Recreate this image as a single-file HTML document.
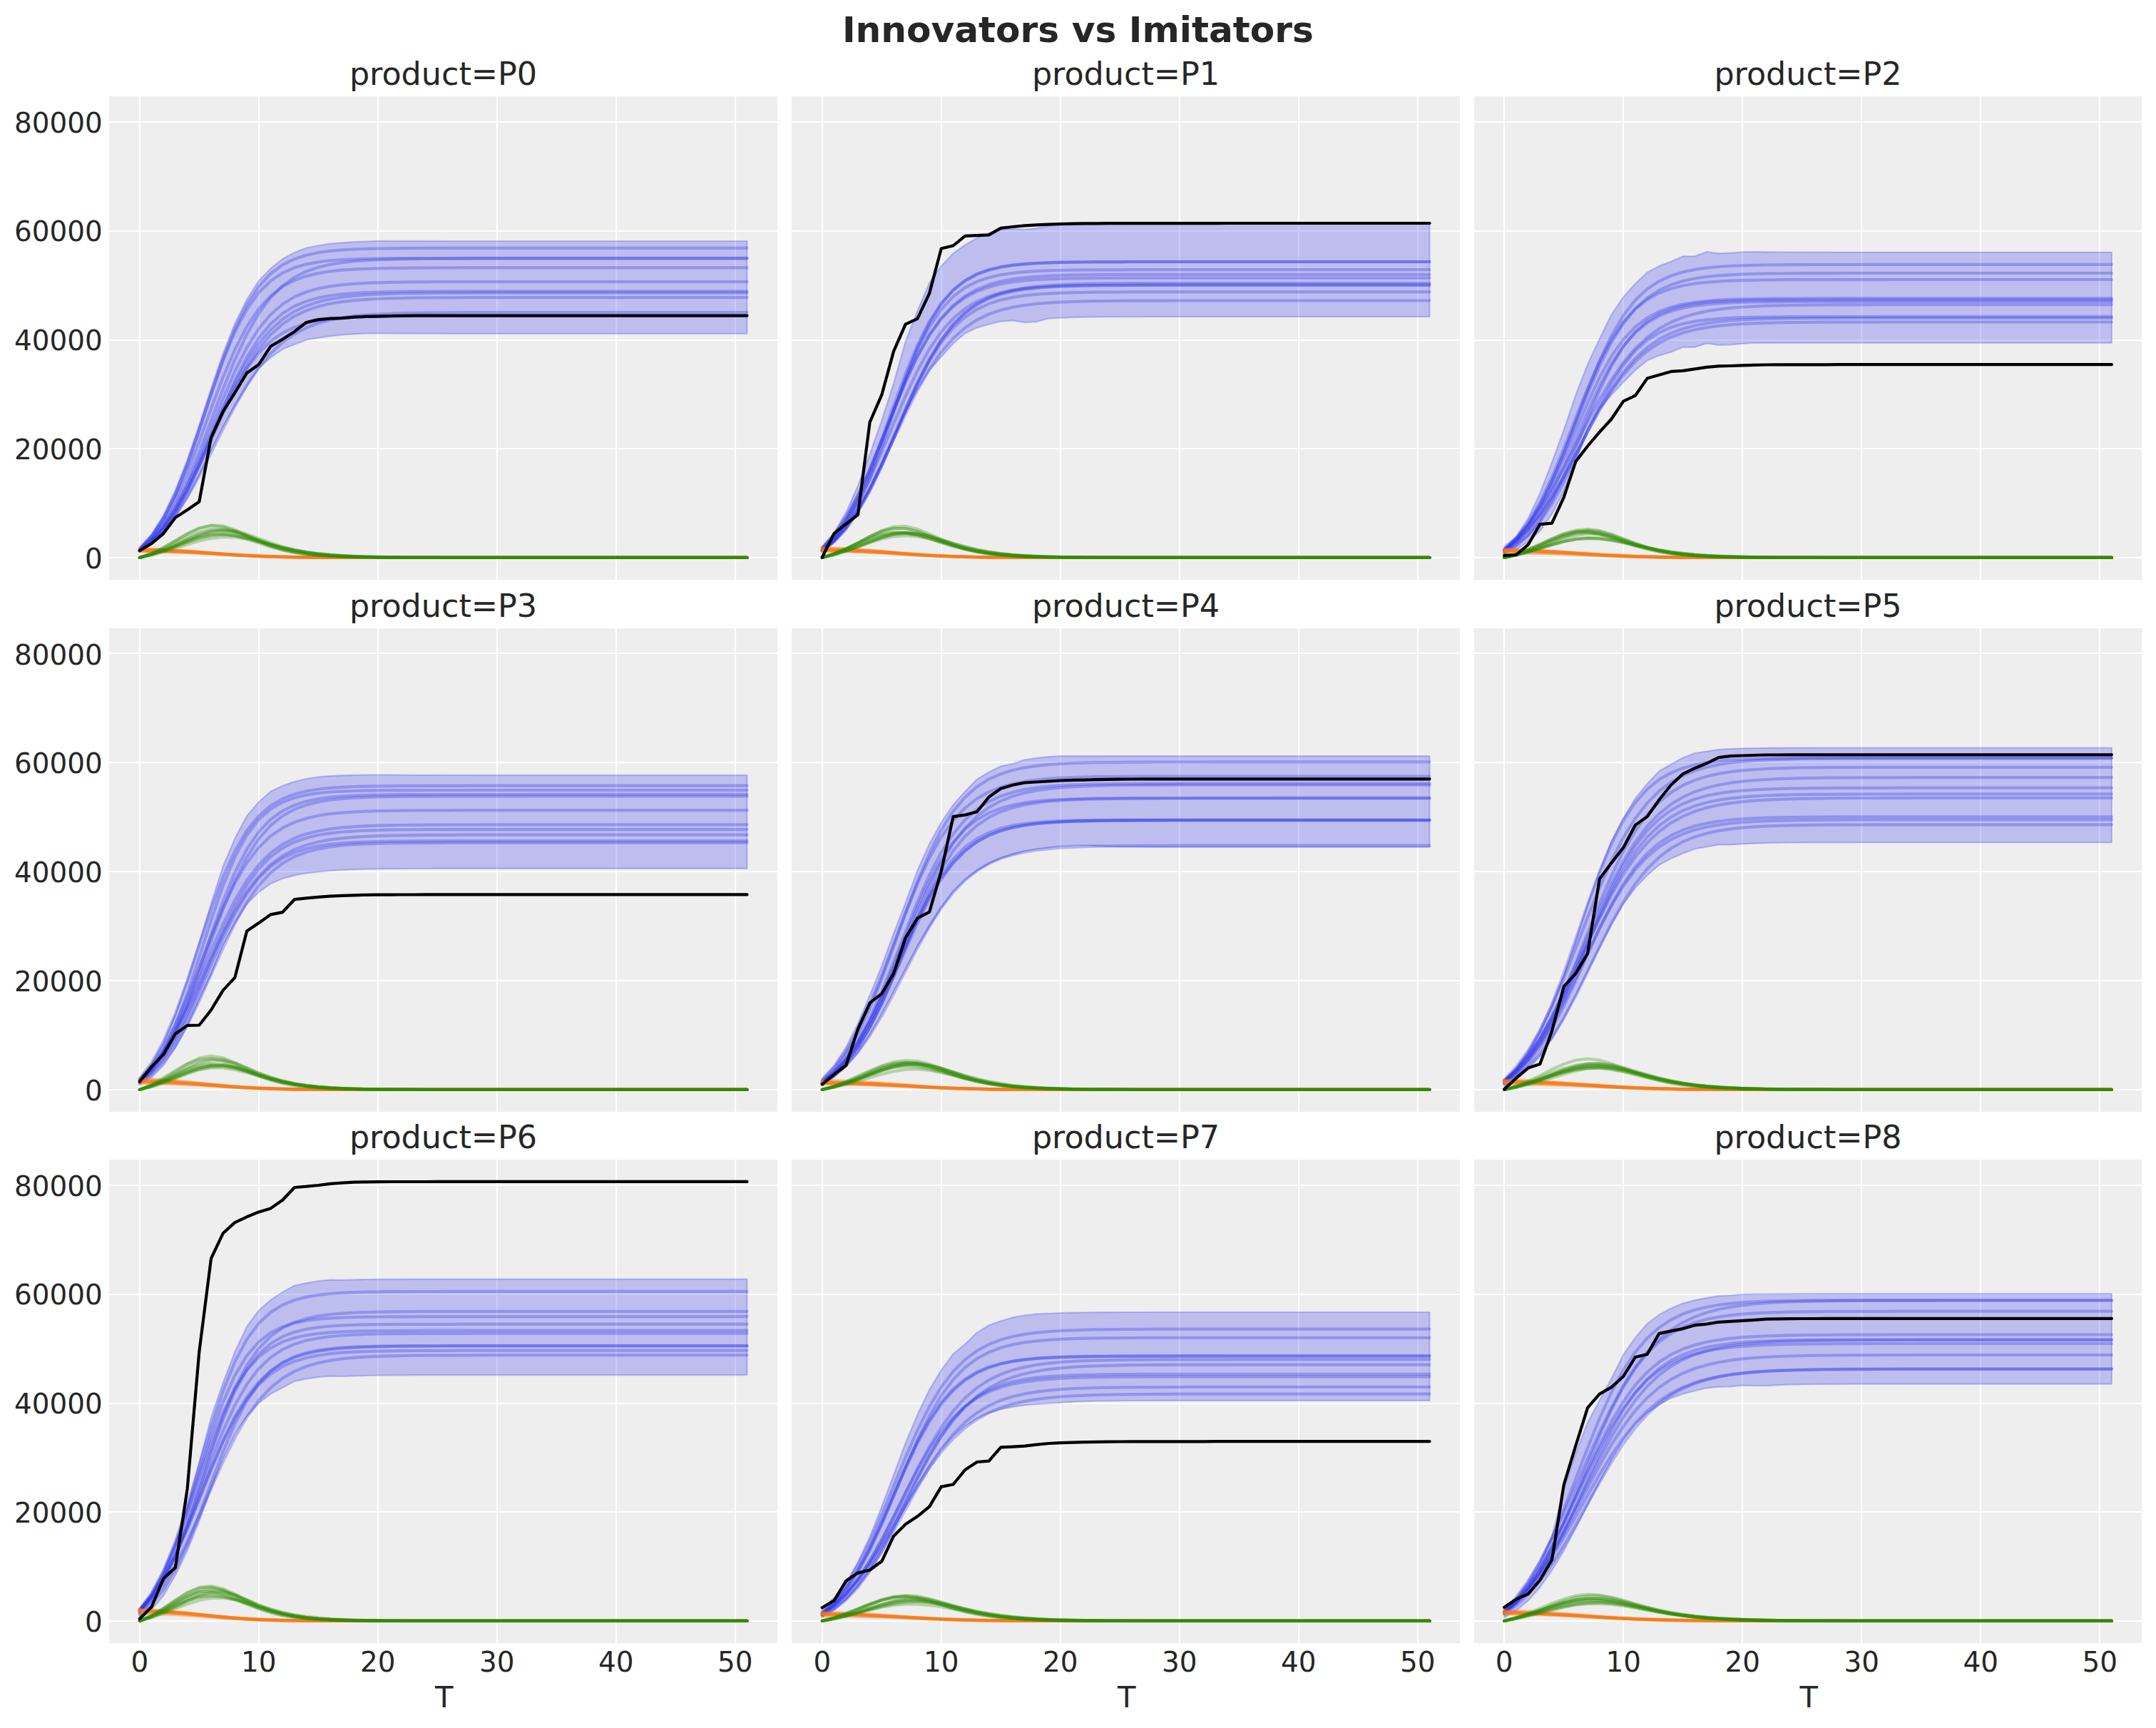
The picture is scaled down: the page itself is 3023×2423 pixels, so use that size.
<!DOCTYPE html>
<html><head><meta charset="utf-8"><title>Innovators vs Imitators</title>
<style>
html,body{margin:0;padding:0;background:#fff}
svg{display:block}
text{font-family:"DejaVu Sans","Liberation Sans",sans-serif;fill:#262626}
.tk{font-size:38.89px}
.ti{font-size:44.44px}
.xl{font-size:41.67px}
  .st{font-size:50.2px;font-weight:bold}
  .g{stroke:#fff;stroke-width:2.2;fill:none}
.b{stroke:#2a2eec;stroke-opacity:.3;stroke-width:4.2;fill:none;stroke-linecap:round;stroke-linejoin:round}
.o{stroke:#fa7c17;stroke-opacity:.3;stroke-width:4.2;fill:none;stroke-linecap:round;stroke-linejoin:round}
.gr{stroke:#328c06;stroke-opacity:.3;stroke-width:4.2;fill:none;stroke-linecap:round;stroke-linejoin:round}
.k{stroke:#000;stroke-width:4.2;fill:none;stroke-linecap:round;stroke-linejoin:round}
.hd{fill:#2a2eec;fill-opacity:.25;stroke:#2a2eec;stroke-opacity:.25;stroke-width:2.2;stroke-linejoin:round}
</style></head><body>
<svg width="3023" height="2423" viewBox="0 0 3023 2423">
<rect width="3023" height="2423" fill="#fff"/>
<text class="st" x="1511.4" y="59" text-anchor="middle">Innovators vs Imitators</text>

<g id="p0">
<rect x="153.0" y="135.0" width="937.0" height="678.0" fill="#eeeeee"/>
<path class="g" d="M196 135.0V813.0M363 135.0V813.0M530 135.0V813.0M697 135.0V813.0M864 135.0V813.0M1031 135.0V813.0M153.0 782H1090.0M153.0 629H1090.0M153.0 477H1090.0M153.0 324H1090.0M153.0 171H1090.0"/>
<text class="ti" x="621.5" y="119.2" text-anchor="middle">product=P0</text>
<text class="tk" x="143.7" y="796.5" text-anchor="end">0</text>
<text class="tk" x="143.7" y="643.8" text-anchor="end">20000</text>
<text class="tk" x="143.7" y="491.0" text-anchor="end">40000</text>
<text class="tk" x="143.7" y="338.2" text-anchor="end">60000</text>
<text class="tk" x="143.7" y="185.5" text-anchor="end">80000</text>
<polygon class="hd" points="195.8,767.4 212.5,749.1 229.2,722.3 245.9,687.2 262.6,644.4 279.3,595.5 296.0,544.4 312.7,495.5 329.4,453.5 346.1,419.9 362.8,393.8 379.5,376.4 396.2,363.0 412.9,354.1 429.6,347.5 446.3,344.4 463.0,341.7 479.7,340.3 496.4,339.2 513.1,338.5 529.8,337.8 546.5,337.9 563.2,337.9 579.9,337.9 596.6,337.9 613.3,337.9 630.0,338.0 646.7,338.0 663.4,338.0 680.1,338.0 696.8,338.0 713.5,338.0 730.2,338.0 746.9,338.0 763.6,338.0 780.3,338.0 797.0,338.0 813.7,338.0 830.4,338.0 847.1,338.0 863.8,338.0 880.5,338.0 897.2,338.0 913.9,338.0 930.6,338.0 947.3,338.0 964.0,338.0 980.7,338.0 997.4,338.0 1014.1,338.0 1030.8,338.0 1047.5,338.0 1047.5,467.8 1030.8,467.8 1014.1,467.8 997.4,467.8 980.7,467.8 964.0,467.8 947.3,467.8 930.6,467.8 913.9,467.8 897.2,467.8 880.5,467.8 863.8,467.8 847.1,467.8 830.4,467.8 813.7,467.8 797.0,467.8 780.3,467.8 763.6,467.8 746.9,467.8 730.2,467.8 713.5,467.8 696.8,467.8 680.1,467.8 663.4,467.8 646.7,467.8 630.0,467.8 613.3,467.7 596.6,467.7 579.9,467.7 563.2,467.6 546.5,467.5 529.8,467.4 513.1,467.6 496.4,468.4 479.7,469.5 463.0,471.3 446.3,473.7 429.6,476.6 412.9,483.0 396.2,489.8 379.5,501.4 362.8,516.4 346.1,541.3 329.4,568.8 312.7,597.8 296.0,631.4 279.3,666.6 262.6,698.3 245.9,725.0 229.2,746.4 212.5,762.4 195.8,773.9"/>
<polyline class="b" points="195.8,769.8 212.5,752.1 229.2,727.2 245.9,693.8 262.6,651.9 279.3,603.3 296.0,552.2 312.7,503.4 329.4,461.0 346.1,427.1 362.8,401.8 379.5,383.8 396.2,371.4 412.9,363.2 429.6,357.7 446.3,354.2 463.0,351.9 479.7,350.4 496.4,349.5 513.1,348.9 529.8,348.5 546.5,348.3 563.2,348.1 579.9,348.0 596.6,347.9 613.3,347.9 630.0,347.9 646.7,347.8 663.4,347.8 680.1,347.8 696.8,347.8 713.5,347.8 730.2,347.8 746.9,347.8 763.6,347.8 780.3,347.8 797.0,347.8 813.7,347.8 830.4,347.8 847.1,347.8 863.8,347.8 880.5,347.8 897.2,347.8 913.9,347.8 930.6,347.8 947.3,347.8 964.0,347.8 980.7,347.8 997.4,347.8 1014.1,347.8 1030.8,347.8 1047.5,347.8"/>
<polyline class="b" points="195.8,769.8 212.5,752.1 229.2,727.1 245.9,693.6 262.6,651.6 279.3,603.4 296.0,553.2 312.7,505.9 329.4,465.5 346.1,433.7 362.8,410.3 379.5,393.9 396.2,382.7 412.9,375.3 429.6,370.5 446.3,367.4 463.0,365.4 479.7,364.1 496.4,363.3 513.1,362.8 529.8,362.5 546.5,362.3 563.2,362.1 579.9,362.1 596.6,362.0 613.3,362.0 630.0,362.0 646.7,361.9 663.4,361.9 680.1,361.9 696.8,361.9 713.5,361.9 730.2,361.9 746.9,361.9 763.6,361.9 780.3,361.9 797.0,361.9 813.7,361.9 830.4,361.9 847.1,361.9 863.8,361.9 880.5,361.9 897.2,361.9 913.9,361.9 930.6,361.9 947.3,361.9 964.0,361.9 980.7,361.9 997.4,361.9 1014.1,361.9 1030.8,361.9 1047.5,361.9"/>
<polyline class="b" points="195.8,771.0 212.5,755.8 229.2,735.0 245.9,707.7 262.6,673.6 279.3,633.6 296.0,589.8 312.7,545.6 329.4,504.3 346.1,468.6 362.8,439.6 379.5,417.2 396.2,400.7 412.9,388.8 429.6,380.5 446.3,374.8 463.0,370.8 479.7,368.2 496.4,366.4 513.1,365.1 529.8,364.3 546.5,363.8 563.2,363.4 579.9,363.2 596.6,363.0 613.3,362.9 630.0,362.8 646.7,362.8 663.4,362.7 680.1,362.7 696.8,362.7 713.5,362.7 730.2,362.7 746.9,362.7 763.6,362.7 780.3,362.7 797.0,362.7 813.7,362.7 830.4,362.7 847.1,362.7 863.8,362.7 880.5,362.7 897.2,362.7 913.9,362.7 930.6,362.7 947.3,362.7 964.0,362.7 980.7,362.7 997.4,362.7 1014.1,362.7 1030.8,362.7 1047.5,362.7"/>
<polyline class="b" points="195.8,770.1 212.5,753.4 229.2,730.3 245.9,699.9 262.6,662.3 279.3,619.1 296.0,573.3 312.7,529.1 329.4,490.0 346.1,457.8 362.8,433.0 379.5,414.8 396.2,402.0 412.9,393.1 429.6,387.1 446.3,383.1 463.0,380.5 479.7,378.7 496.4,377.6 513.1,376.8 529.8,376.3 546.5,376.0 563.2,375.8 579.9,375.7 596.6,375.6 613.3,375.5 630.0,375.5 646.7,375.4 663.4,375.4 680.1,375.4 696.8,375.4 713.5,375.4 730.2,375.4 746.9,375.4 763.6,375.4 780.3,375.4 797.0,375.4 813.7,375.4 830.4,375.4 847.1,375.4 863.8,375.4 880.5,375.4 897.2,375.4 913.9,375.4 930.6,375.4 947.3,375.4 964.0,375.4 980.7,375.4 997.4,375.4 1014.1,375.4 1030.8,375.4 1047.5,375.4"/>
<polyline class="b" points="195.8,772.2 212.5,758.3 229.2,739.1 245.9,713.6 262.6,681.3 279.3,643.1 296.0,601.3 312.7,559.3 329.4,520.5 346.1,487.3 362.8,460.9 379.5,441.0 396.2,426.5 412.9,416.3 429.6,409.3 446.3,404.6 463.0,401.4 479.7,399.3 496.4,397.9 513.1,396.9 529.8,396.3 546.5,395.9 563.2,395.6 579.9,395.4 596.6,395.3 613.3,395.2 630.0,395.2 646.7,395.2 663.4,395.1 680.1,395.1 696.8,395.1 713.5,395.1 730.2,395.1 746.9,395.1 763.6,395.1 780.3,395.1 797.0,395.1 813.7,395.1 830.4,395.1 847.1,395.1 863.8,395.1 880.5,395.1 897.2,395.1 913.9,395.1 930.6,395.1 947.3,395.1 964.0,395.1 980.7,395.1 997.4,395.1 1014.1,395.1 1030.8,395.1 1047.5,395.1"/>
<polyline class="b" points="195.8,773.2 212.5,760.8 229.2,743.3 245.9,719.8 262.6,689.6 279.3,653.3 296.0,613.0 312.7,572.0 329.4,533.6 346.1,500.6 362.8,474.1 379.5,454.1 396.2,439.5 412.9,429.3 429.6,422.4 446.3,417.6 463.0,414.5 479.7,412.4 496.4,411.0 513.1,410.1 529.8,409.5 546.5,409.1 563.2,408.8 579.9,408.6 596.6,408.5 613.3,408.5 630.0,408.4 646.7,408.4 663.4,408.4 680.1,408.3 696.8,408.3 713.5,408.3 730.2,408.3 746.9,408.3 763.6,408.3 780.3,408.3 797.0,408.3 813.7,408.3 830.4,408.3 847.1,408.3 863.8,408.3 880.5,408.3 897.2,408.3 913.9,408.3 930.6,408.3 947.3,408.3 964.0,408.3 980.7,408.3 997.4,408.3 1014.1,408.3 1030.8,408.3 1047.5,408.3"/>
<polyline class="b" points="195.8,771.0 212.5,756.1 229.2,736.5 245.9,711.6 262.6,681.3 279.3,646.5 296.0,609.3 312.7,572.1 329.4,537.3 346.1,507.0 362.8,482.1 379.5,462.5 396.2,447.6 412.9,436.7 429.6,428.9 446.3,423.3 463.0,419.4 479.7,416.7 496.4,414.8 513.1,413.5 529.8,412.6 546.5,412.0 563.2,411.5 579.9,411.3 596.6,411.1 613.3,410.9 630.0,410.8 646.7,410.8 663.4,410.7 680.1,410.7 696.8,410.7 713.5,410.7 730.2,410.6 746.9,410.6 763.6,410.6 780.3,410.6 797.0,410.6 813.7,410.6 830.4,410.6 847.1,410.6 863.8,410.6 880.5,410.6 897.2,410.6 913.9,410.6 930.6,410.6 947.3,410.6 964.0,410.6 980.7,410.6 997.4,410.6 1014.1,410.6 1030.8,410.6 1047.5,410.6"/>
<polyline class="b" points="195.8,771.9 212.5,758.2 229.2,739.8 245.9,716.2 262.6,687.3 279.3,653.6 296.0,617.1 312.7,580.1 329.4,545.3 346.1,514.8 362.8,489.4 379.5,469.5 396.2,454.4 412.9,443.3 429.6,435.4 446.3,429.7 463.0,425.8 479.7,423.1 496.4,421.2 513.1,419.9 529.8,419.0 546.5,418.4 563.2,418.0 579.9,417.7 596.6,417.5 613.3,417.4 630.0,417.3 646.7,417.2 663.4,417.2 680.1,417.2 696.8,417.2 713.5,417.1 730.2,417.1 746.9,417.1 763.6,417.1 780.3,417.1 797.0,417.1 813.7,417.1 830.4,417.1 847.1,417.1 863.8,417.1 880.5,417.1 897.2,417.1 913.9,417.1 930.6,417.1 947.3,417.1 964.0,417.1 980.7,417.1 997.4,417.1 1014.1,417.1 1030.8,417.1 1047.5,417.1"/>
<polyline class="b" points="195.8,772.6 212.5,760.1 229.2,743.6 245.9,722.7 262.6,697.1 279.3,667.4 296.0,634.9 312.7,601.5 329.4,569.4 346.1,540.4 362.8,515.8 379.5,495.7 396.2,480.1 412.9,468.3 429.6,459.6 446.3,453.2 463.0,448.7 479.7,445.5 496.4,443.2 513.1,441.6 529.8,440.5 546.5,439.8 563.2,439.2 579.9,438.8 596.6,438.6 613.3,438.4 630.0,438.3 646.7,438.2 663.4,438.1 680.1,438.1 696.8,438.1 713.5,438.0 730.2,438.0 746.9,438.0 763.6,438.0 780.3,438.0 797.0,438.0 813.7,438.0 830.4,438.0 847.1,438.0 863.8,438.0 880.5,438.0 897.2,438.0 913.9,438.0 930.6,438.0 947.3,438.0 964.0,438.0 980.7,438.0 997.4,438.0 1014.1,438.0 1030.8,438.0 1047.5,438.0"/>
<polyline class="b" points="195.8,772.7 212.5,759.5 229.2,741.3 245.9,717.3 262.6,687.2 279.3,652.2 296.0,614.6 312.7,577.6 329.4,544.2 346.1,516.4 362.8,494.6 379.5,478.5 396.2,466.9 412.9,458.9 429.6,453.4 446.3,449.8 463.0,447.3 479.7,445.7 496.4,444.6 513.1,443.9 529.8,443.4 546.5,443.1 563.2,442.9 579.9,442.8 596.6,442.7 613.3,442.7 630.0,442.6 646.7,442.6 663.4,442.6 680.1,442.6 696.8,442.6 713.5,442.6 730.2,442.6 746.9,442.6 763.6,442.6 780.3,442.6 797.0,442.6 813.7,442.6 830.4,442.6 847.1,442.6 863.8,442.6 880.5,442.6 897.2,442.6 913.9,442.6 930.6,442.6 947.3,442.6 964.0,442.6 980.7,442.6 997.4,442.6 1014.1,442.6 1030.8,442.6 1047.5,442.6"/>
<polyline class="o" points="195.8,769.7 212.5,770.1 229.2,770.7 245.9,771.6 262.6,772.6 279.3,773.9 296.0,775.4 312.7,776.8 329.4,778.1 346.1,779.2 362.8,780.0 379.5,780.6 396.2,781.1 412.9,781.4 429.6,781.5 446.3,781.7 463.0,781.8 479.7,781.8 496.4,781.8 513.1,781.9 529.8,781.9 546.5,781.9 563.2,781.9 579.9,781.9 596.6,781.9 613.3,781.9 630.0,781.9 646.7,781.9 663.4,781.9 680.1,781.9 696.8,781.9 713.5,781.9 730.2,781.9 746.9,781.9 763.6,781.9 780.3,781.9 797.0,781.9 813.7,781.9 830.4,781.9 847.1,781.9 863.8,781.9 880.5,781.9 897.2,781.9 913.9,781.9 930.6,781.9 947.3,781.9 964.0,781.9 980.7,781.9 997.4,781.9 1014.1,781.9 1030.8,781.9 1047.5,781.9"/>
<polyline class="o" points="195.8,769.7 212.5,770.2 229.2,770.8 245.9,771.6 262.6,772.8 279.3,774.1 296.0,775.5 312.7,777.0 329.4,778.3 346.1,779.4 362.8,780.2 379.5,780.7 396.2,781.1 412.9,781.4 429.6,781.6 446.3,781.7 463.0,781.8 479.7,781.8 496.4,781.8 513.1,781.9 529.8,781.9 546.5,781.9 563.2,781.9 579.9,781.9 596.6,781.9 613.3,781.9 630.0,781.9 646.7,781.9 663.4,781.9 680.1,781.9 696.8,781.9 713.5,781.9 730.2,781.9 746.9,781.9 763.6,781.9 780.3,781.9 797.0,781.9 813.7,781.9 830.4,781.9 847.1,781.9 863.8,781.9 880.5,781.9 897.2,781.9 913.9,781.9 930.6,781.9 947.3,781.9 964.0,781.9 980.7,781.9 997.4,781.9 1014.1,781.9 1030.8,781.9 1047.5,781.9"/>
<polyline class="o" points="195.8,771.0 212.5,771.3 229.2,771.8 245.9,772.4 262.6,773.2 279.3,774.2 296.0,775.3 312.7,776.5 329.4,777.6 346.1,778.7 362.8,779.5 379.5,780.2 396.2,780.7 412.9,781.1 429.6,781.3 446.3,781.5 463.0,781.6 479.7,781.7 496.4,781.8 513.1,781.8 529.8,781.8 546.5,781.9 563.2,781.9 579.9,781.9 596.6,781.9 613.3,781.9 630.0,781.9 646.7,781.9 663.4,781.9 680.1,781.9 696.8,781.9 713.5,781.9 730.2,781.9 746.9,781.9 763.6,781.9 780.3,781.9 797.0,781.9 813.7,781.9 830.4,781.9 847.1,781.9 863.8,781.9 880.5,781.9 897.2,781.9 913.9,781.9 930.6,781.9 947.3,781.9 964.0,781.9 980.7,781.9 997.4,781.9 1014.1,781.9 1030.8,781.9 1047.5,781.9"/>
<polyline class="o" points="195.8,770.0 212.5,770.5 229.2,771.0 245.9,771.8 262.6,772.8 279.3,774.0 296.0,775.4 312.7,776.7 329.4,778.0 346.1,779.0 362.8,779.9 379.5,780.5 396.2,780.9 412.9,781.3 429.6,781.5 446.3,781.6 463.0,781.7 479.7,781.8 496.4,781.8 513.1,781.8 529.8,781.9 546.5,781.9 563.2,781.9 579.9,781.9 596.6,781.9 613.3,781.9 630.0,781.9 646.7,781.9 663.4,781.9 680.1,781.9 696.8,781.9 713.5,781.9 730.2,781.9 746.9,781.9 763.6,781.9 780.3,781.9 797.0,781.9 813.7,781.9 830.4,781.9 847.1,781.9 863.8,781.9 880.5,781.9 897.2,781.9 913.9,781.9 930.6,781.9 947.3,781.9 964.0,781.9 980.7,781.9 997.4,781.9 1014.1,781.9 1030.8,781.9 1047.5,781.9"/>
<polyline class="o" points="195.8,772.1 212.5,772.4 229.2,772.8 245.9,773.4 262.6,774.1 279.3,775.1 296.0,776.1 312.7,777.2 329.4,778.2 346.1,779.1 362.8,779.9 379.5,780.5 396.2,780.9 412.9,781.2 429.6,781.5 446.3,781.6 463.0,781.7 479.7,781.8 496.4,781.8 513.1,781.8 529.8,781.9 546.5,781.9 563.2,781.9 579.9,781.9 596.6,781.9 613.3,781.9 630.0,781.9 646.7,781.9 663.4,781.9 680.1,781.9 696.8,781.9 713.5,781.9 730.2,781.9 746.9,781.9 763.6,781.9 780.3,781.9 797.0,781.9 813.7,781.9 830.4,781.9 847.1,781.9 863.8,781.9 880.5,781.9 897.2,781.9 913.9,781.9 930.6,781.9 947.3,781.9 964.0,781.9 980.7,781.9 997.4,781.9 1014.1,781.9 1030.8,781.9 1047.5,781.9"/>
<polyline class="o" points="195.8,773.2 212.5,773.4 229.2,773.8 245.9,774.3 262.6,774.9 279.3,775.7 296.0,776.6 312.7,777.6 329.4,778.5 346.1,779.4 362.8,780.1 379.5,780.6 396.2,781.0 412.9,781.3 429.6,781.5 446.3,781.6 463.0,781.7 479.7,781.8 496.4,781.8 513.1,781.8 529.8,781.9 546.5,781.9 563.2,781.9 579.9,781.9 596.6,781.9 613.3,781.9 630.0,781.9 646.7,781.9 663.4,781.9 680.1,781.9 696.8,781.9 713.5,781.9 730.2,781.9 746.9,781.9 763.6,781.9 780.3,781.9 797.0,781.9 813.7,781.9 830.4,781.9 847.1,781.9 863.8,781.9 880.5,781.9 897.2,781.9 913.9,781.9 930.6,781.9 947.3,781.9 964.0,781.9 980.7,781.9 997.4,781.9 1014.1,781.9 1030.8,781.9 1047.5,781.9"/>
<polyline class="o" points="195.8,770.9 212.5,771.3 229.2,771.8 245.9,772.4 262.6,773.3 279.3,774.3 296.0,775.4 312.7,776.5 329.4,777.6 346.1,778.6 362.8,779.4 379.5,780.1 396.2,780.6 412.9,781.0 429.6,781.2 446.3,781.4 463.0,781.6 479.7,781.7 496.4,781.7 513.1,781.8 529.8,781.8 546.5,781.9 563.2,781.9 579.9,781.9 596.6,781.9 613.3,781.9 630.0,781.9 646.7,781.9 663.4,781.9 680.1,781.9 696.8,781.9 713.5,781.9 730.2,781.9 746.9,781.9 763.6,781.9 780.3,781.9 797.0,781.9 813.7,781.9 830.4,781.9 847.1,781.9 863.8,781.9 880.5,781.9 897.2,781.9 913.9,781.9 930.6,781.9 947.3,781.9 964.0,781.9 980.7,781.9 997.4,781.9 1014.1,781.9 1030.8,781.9 1047.5,781.9"/>
<polyline class="o" points="195.8,771.8 212.5,772.1 229.2,772.6 245.9,773.2 262.6,773.9 279.3,774.8 296.0,775.8 312.7,776.8 329.4,777.8 346.1,778.8 362.8,779.5 379.5,780.2 396.2,780.7 412.9,781.0 429.6,781.3 446.3,781.5 463.0,781.6 479.7,781.7 496.4,781.8 513.1,781.8 529.8,781.8 546.5,781.9 563.2,781.9 579.9,781.9 596.6,781.9 613.3,781.9 630.0,781.9 646.7,781.9 663.4,781.9 680.1,781.9 696.8,781.9 713.5,781.9 730.2,781.9 746.9,781.9 763.6,781.9 780.3,781.9 797.0,781.9 813.7,781.9 830.4,781.9 847.1,781.9 863.8,781.9 880.5,781.9 897.2,781.9 913.9,781.9 930.6,781.9 947.3,781.9 964.0,781.9 980.7,781.9 997.4,781.9 1014.1,781.9 1030.8,781.9 1047.5,781.9"/>
<polyline class="o" points="195.8,772.5 212.5,772.8 229.2,773.2 245.9,773.7 262.6,774.4 279.3,775.2 296.0,776.0 312.7,776.9 329.4,777.8 346.1,778.7 362.8,779.4 379.5,780.0 396.2,780.5 412.9,780.9 429.6,781.2 446.3,781.4 463.0,781.5 479.7,781.7 496.4,781.7 513.1,781.8 529.8,781.8 546.5,781.8 563.2,781.9 579.9,781.9 596.6,781.9 613.3,781.9 630.0,781.9 646.7,781.9 663.4,781.9 680.1,781.9 696.8,781.9 713.5,781.9 730.2,781.9 746.9,781.9 763.6,781.9 780.3,781.9 797.0,781.9 813.7,781.9 830.4,781.9 847.1,781.9 863.8,781.9 880.5,781.9 897.2,781.9 913.9,781.9 930.6,781.9 947.3,781.9 964.0,781.9 980.7,781.9 997.4,781.9 1014.1,781.9 1030.8,781.9 1047.5,781.9"/>
<polyline class="o" points="195.8,772.6 212.5,772.9 229.2,773.3 245.9,773.9 262.6,774.7 279.3,775.6 296.0,776.6 312.7,777.6 329.4,778.6 346.1,779.5 362.8,780.2 379.5,780.7 396.2,781.1 412.9,781.3 429.6,781.5 446.3,781.7 463.0,781.7 479.7,781.8 496.4,781.8 513.1,781.9 529.8,781.9 546.5,781.9 563.2,781.9 579.9,781.9 596.6,781.9 613.3,781.9 630.0,781.9 646.7,781.9 663.4,781.9 680.1,781.9 696.8,781.9 713.5,781.9 730.2,781.9 746.9,781.9 763.6,781.9 780.3,781.9 797.0,781.9 813.7,781.9 830.4,781.9 847.1,781.9 863.8,781.9 880.5,781.9 897.2,781.9 913.9,781.9 930.6,781.9 947.3,781.9 964.0,781.9 980.7,781.9 997.4,781.9 1014.1,781.9 1030.8,781.9 1047.5,781.9"/>
<polyline class="gr" points="195.8,781.9 212.5,775.9 229.2,767.9 245.9,758.4 262.6,748.6 279.3,740.5 296.0,736.4 312.7,737.4 329.4,742.7 346.1,750.3 362.8,758.2 379.5,765.0 396.2,770.3 412.9,774.1 429.6,776.8 446.3,778.6 463.0,779.7 479.7,780.5 496.4,781.0 513.1,781.3 529.8,781.5 546.5,781.7 563.2,781.8 579.9,781.8 596.6,781.8 613.3,781.9 630.0,781.9 646.7,781.9 663.4,781.9 680.1,781.9 696.8,781.9 713.5,781.9 730.2,781.9 746.9,781.9 763.6,781.9 780.3,781.9 797.0,781.9 813.7,781.9 830.4,781.9 847.1,781.9 863.8,781.9 880.5,781.9 897.2,781.9 913.9,781.9 930.6,781.9 947.3,781.9 964.0,781.9 980.7,781.9 997.4,781.9 1014.1,781.9 1030.8,781.9 1047.5,781.9"/>
<polyline class="gr" points="195.8,781.9 212.5,775.8 229.2,767.7 245.9,758.2 262.6,748.4 279.3,740.7 296.0,737.2 312.7,738.8 329.4,744.5 346.1,752.3 362.8,760.0 379.5,766.5 396.2,771.4 412.9,775.0 429.6,777.4 446.3,779.0 463.0,780.0 479.7,780.7 496.4,781.1 513.1,781.4 529.8,781.6 546.5,781.7 563.2,781.8 579.9,781.8 596.6,781.9 613.3,781.9 630.0,781.9 646.7,781.9 663.4,781.9 680.1,781.9 696.8,781.9 713.5,781.9 730.2,781.9 746.9,781.9 763.6,781.9 780.3,781.9 797.0,781.9 813.7,781.9 830.4,781.9 847.1,781.9 863.8,781.9 880.5,781.9 897.2,781.9 913.9,781.9 930.6,781.9 947.3,781.9 964.0,781.9 980.7,781.9 997.4,781.9 1014.1,781.9 1030.8,781.9 1047.5,781.9"/>
<polyline class="gr" points="195.8,781.9 212.5,777.1 229.2,771.0 245.9,763.8 262.6,756.0 279.3,749.0 296.0,744.0 312.7,742.4 329.4,744.3 346.1,748.9 362.8,754.9 379.5,761.0 396.2,766.4 412.9,770.8 429.6,774.1 446.3,776.5 463.0,778.2 479.7,779.4 496.4,780.2 513.1,780.8 529.8,781.1 546.5,781.4 563.2,781.6 579.9,781.7 596.6,781.7 613.3,781.8 630.0,781.8 646.7,781.9 663.4,781.9 680.1,781.9 696.8,781.9 713.5,781.9 730.2,781.9 746.9,781.9 763.6,781.9 780.3,781.9 797.0,781.9 813.7,781.9 830.4,781.9 847.1,781.9 863.8,781.9 880.5,781.9 897.2,781.9 913.9,781.9 930.6,781.9 947.3,781.9 964.0,781.9 980.7,781.9 997.4,781.9 1014.1,781.9 1030.8,781.9 1047.5,781.9"/>
<polyline class="gr" points="195.8,781.9 212.5,776.4 229.2,769.4 245.9,761.2 262.6,752.8 279.3,745.8 296.0,741.9 312.7,742.2 329.4,746.0 346.1,752.2 362.8,758.9 379.5,765.0 396.2,769.9 412.9,773.6 429.6,776.3 446.3,778.2 463.0,779.4 479.7,780.3 496.4,780.8 513.1,781.2 529.8,781.4 546.5,781.6 563.2,781.7 579.9,781.8 596.6,781.8 613.3,781.8 630.0,781.9 646.7,781.9 663.4,781.9 680.1,781.9 696.8,781.9 713.5,781.9 730.2,781.9 746.9,781.9 763.6,781.9 780.3,781.9 797.0,781.9 813.7,781.9 830.4,781.9 847.1,781.9 863.8,781.9 880.5,781.9 897.2,781.9 913.9,781.9 930.6,781.9 947.3,781.9 964.0,781.9 980.7,781.9 997.4,781.9 1014.1,781.9 1030.8,781.9 1047.5,781.9"/>
<polyline class="gr" points="195.8,781.9 212.5,777.4 229.2,771.6 245.9,764.6 262.6,757.0 279.3,750.0 296.0,745.3 312.7,744.0 329.4,746.2 346.1,751.1 362.8,757.2 379.5,763.2 396.2,768.3 412.9,772.3 429.6,775.3 446.3,777.4 463.0,778.9 479.7,779.9 496.4,780.6 513.1,781.0 529.8,781.3 546.5,781.5 563.2,781.6 579.9,781.7 596.6,781.8 613.3,781.8 630.0,781.9 646.7,781.9 663.4,781.9 680.1,781.9 696.8,781.9 713.5,781.9 730.2,781.9 746.9,781.9 763.6,781.9 780.3,781.9 797.0,781.9 813.7,781.9 830.4,781.9 847.1,781.9 863.8,781.9 880.5,781.9 897.2,781.9 913.9,781.9 930.6,781.9 947.3,781.9 964.0,781.9 980.7,781.9 997.4,781.9 1014.1,781.9 1030.8,781.9 1047.5,781.9"/>
<polyline class="gr" points="195.8,781.9 212.5,777.8 229.2,772.4 245.9,765.7 262.6,758.4 279.3,751.4 296.0,746.3 312.7,744.6 329.4,746.4 346.1,751.0 362.8,757.0 379.5,763.0 396.2,768.2 412.9,772.3 429.6,775.3 446.3,777.4 463.0,778.9 479.7,779.9 496.4,780.6 513.1,781.0 529.8,781.3 546.5,781.5 563.2,781.7 579.9,781.7 596.6,781.8 613.3,781.8 630.0,781.9 646.7,781.9 663.4,781.9 680.1,781.9 696.8,781.9 713.5,781.9 730.2,781.9 746.9,781.9 763.6,781.9 780.3,781.9 797.0,781.9 813.7,781.9 830.4,781.9 847.1,781.9 863.8,781.9 880.5,781.9 897.2,781.9 913.9,781.9 930.6,781.9 947.3,781.9 964.0,781.9 980.7,781.9 997.4,781.9 1014.1,781.9 1030.8,781.9 1047.5,781.9"/>
<polyline class="gr" points="195.8,781.9 212.5,777.5 229.2,772.2 245.9,766.0 262.6,759.8 279.3,754.3 296.0,750.6 312.7,749.5 329.4,751.0 346.1,754.5 362.8,759.1 379.5,763.9 396.2,768.2 412.9,771.8 429.6,774.6 446.3,776.7 463.0,778.3 479.7,779.4 496.4,780.2 513.1,780.7 529.8,781.1 546.5,781.3 563.2,781.5 579.9,781.6 596.6,781.7 613.3,781.8 630.0,781.8 646.7,781.8 663.4,781.9 680.1,781.9 696.8,781.9 713.5,781.9 730.2,781.9 746.9,781.9 763.6,781.9 780.3,781.9 797.0,781.9 813.7,781.9 830.4,781.9 847.1,781.9 863.8,781.9 880.5,781.9 897.2,781.9 913.9,781.9 930.6,781.9 947.3,781.9 964.0,781.9 980.7,781.9 997.4,781.9 1014.1,781.9 1030.8,781.9 1047.5,781.9"/>
<polyline class="gr" points="195.8,781.9 212.5,777.8 229.2,772.7 245.9,766.7 262.6,760.5 279.3,754.9 296.0,750.9 312.7,749.4 329.4,750.7 346.1,754.0 362.8,758.6 379.5,763.5 396.2,767.9 412.9,771.6 429.6,774.5 446.3,776.7 463.0,778.2 479.7,779.4 496.4,780.1 513.1,780.7 529.8,781.1 546.5,781.3 563.2,781.5 579.9,781.6 596.6,781.7 613.3,781.8 630.0,781.8 646.7,781.8 663.4,781.9 680.1,781.9 696.8,781.9 713.5,781.9 730.2,781.9 746.9,781.9 763.6,781.9 780.3,781.9 797.0,781.9 813.7,781.9 830.4,781.9 847.1,781.9 863.8,781.9 880.5,781.9 897.2,781.9 913.9,781.9 930.6,781.9 947.3,781.9 964.0,781.9 980.7,781.9 997.4,781.9 1014.1,781.9 1030.8,781.9 1047.5,781.9"/>
<polyline class="gr" points="195.8,781.9 212.5,778.3 229.2,773.9 245.9,768.8 262.6,763.5 279.3,758.5 296.0,754.8 312.7,753.0 329.4,753.4 346.1,755.7 362.8,759.4 379.5,763.5 396.2,767.5 412.9,771.0 429.6,773.8 446.3,776.0 463.0,777.7 479.7,778.9 496.4,779.8 513.1,780.4 529.8,780.9 546.5,781.2 563.2,781.4 579.9,781.5 596.6,781.7 613.3,781.7 630.0,781.8 646.7,781.8 663.4,781.8 680.1,781.9 696.8,781.9 713.5,781.9 730.2,781.9 746.9,781.9 763.6,781.9 780.3,781.9 797.0,781.9 813.7,781.9 830.4,781.9 847.1,781.9 863.8,781.9 880.5,781.9 897.2,781.9 913.9,781.9 930.6,781.9 947.3,781.9 964.0,781.9 980.7,781.9 997.4,781.9 1014.1,781.9 1030.8,781.9 1047.5,781.9"/>
<polyline class="gr" points="195.8,781.9 212.5,777.6 229.2,772.1 245.9,765.5 262.6,758.6 279.3,752.6 296.0,749.0 312.7,748.6 329.4,751.3 346.1,756.1 362.8,761.6 379.5,766.8 396.2,771.1 412.9,774.4 429.6,776.8 446.3,778.4 463.0,779.6 479.7,780.4 496.4,780.9 513.1,781.2 529.8,781.5 546.5,781.6 563.2,781.7 579.9,781.8 596.6,781.8 613.3,781.8 630.0,781.9 646.7,781.9 663.4,781.9 680.1,781.9 696.8,781.9 713.5,781.9 730.2,781.9 746.9,781.9 763.6,781.9 780.3,781.9 797.0,781.9 813.7,781.9 830.4,781.9 847.1,781.9 863.8,781.9 880.5,781.9 897.2,781.9 913.9,781.9 930.6,781.9 947.3,781.9 964.0,781.9 980.7,781.9 997.4,781.9 1014.1,781.9 1030.8,781.9 1047.5,781.9"/>
<polyline class="k" points="195.8,772.0 212.5,762.2 229.2,748.1 245.9,725.8 262.6,715.0 279.3,703.5 296.0,613.6 312.7,577.2 329.4,550.6 346.1,523.0 362.8,511.2 379.5,485.6 396.2,475.8 412.9,464.9 429.6,452.0 446.3,448.1 463.0,446.6 479.7,446.2 496.4,444.7 513.1,443.9 529.8,443.6 546.5,443.2 563.2,442.8 579.9,442.7 596.6,442.7 613.3,442.7 630.0,442.6 646.7,442.6 663.4,442.6 680.1,442.6 696.8,442.6 713.5,442.6 730.2,442.6 746.9,442.6 763.6,442.6 780.3,442.6 797.0,442.6 813.7,442.6 830.4,442.6 847.1,442.6 863.8,442.6 880.5,442.6 897.2,442.6 913.9,442.6 930.6,442.6 947.3,442.6 964.0,442.6 980.7,442.6 997.4,442.6 1014.1,442.6 1030.8,442.6 1047.5,442.6"/>
</g>
<g id="p1">
<rect x="1110.0" y="135.0" width="937.0" height="678.0" fill="#eeeeee"/>
<path class="g" d="M1153 135.0V813.0M1320 135.0V813.0M1487 135.0V813.0M1654 135.0V813.0M1821 135.0V813.0M1988 135.0V813.0M1110.0 782H2047.0M1110.0 629H2047.0M1110.0 477H2047.0M1110.0 324H2047.0M1110.0 171H2047.0"/>
<text class="ti" x="1578.5" y="119.2" text-anchor="middle">product=P1</text>
<polygon class="hd" points="1152.8,766.6 1169.5,746.8 1186.2,718.5 1202.9,681.1 1219.6,636.8 1236.3,589.4 1253.0,537.5 1269.7,478.7 1286.4,436.0 1303.1,396.7 1319.8,373.1 1336.5,355.3 1353.2,343.5 1369.9,333.7 1386.6,326.8 1403.3,321.9 1420.0,320.9 1436.7,321.9 1453.4,319.9 1470.1,317.0 1486.8,316.0 1503.5,315.2 1520.2,314.8 1536.9,314.5 1553.6,314.4 1570.3,314.3 1587.0,314.2 1603.7,314.2 1620.4,314.1 1637.1,314.1 1653.8,314.1 1670.5,314.1 1687.2,314.1 1703.9,314.1 1720.6,314.1 1737.3,314.1 1754.0,314.1 1770.7,314.1 1787.4,314.1 1804.1,314.1 1820.8,314.1 1837.5,314.1 1854.2,314.1 1870.9,314.1 1887.6,314.1 1904.3,314.1 1921.0,314.1 1937.7,314.1 1954.4,314.1 1971.1,314.1 1987.8,314.1 2004.5,314.1 2004.5,444.1 1987.8,444.1 1971.1,444.1 1954.4,444.1 1937.7,444.1 1921.0,444.1 1904.3,444.1 1887.6,444.1 1870.9,444.1 1854.2,444.1 1837.5,444.1 1820.8,444.1 1804.1,444.1 1787.4,444.1 1770.7,444.1 1754.0,444.1 1737.3,444.1 1720.6,444.1 1703.9,444.1 1687.2,444.1 1670.5,444.1 1653.8,444.1 1637.1,444.1 1620.4,444.1 1603.7,444.1 1587.0,444.2 1570.3,444.2 1553.6,444.3 1536.9,444.4 1520.2,444.7 1503.5,445.1 1486.8,445.8 1470.1,446.5 1453.4,451.3 1436.7,452.1 1420.0,449.4 1403.3,450.7 1386.6,454.7 1369.9,459.6 1353.2,467.5 1336.5,481.7 1319.8,500.5 1303.1,519.2 1286.4,545.9 1269.7,577.2 1253.0,612.7 1236.3,650.1 1219.6,685.5 1202.9,717.0 1186.2,742.6 1169.5,761.3 1152.8,774.3"/>
<polyline class="b" points="1152.8,770.0 1169.5,753.1 1186.2,729.7 1202.9,698.8 1219.6,660.4 1236.3,616.1 1253.0,569.2 1269.7,523.9 1286.4,483.7 1303.1,450.8 1319.8,425.4 1336.5,406.9 1353.2,393.8 1369.9,384.8 1386.6,378.8 1403.3,374.7 1420.0,372.0 1436.7,370.3 1453.4,369.1 1470.1,368.4 1486.8,367.9 1503.5,367.6 1520.2,367.3 1536.9,367.2 1553.6,367.1 1570.3,367.1 1587.0,367.0 1603.7,367.0 1620.4,367.0 1637.1,367.0 1653.8,367.0 1670.5,367.0 1687.2,367.0 1703.9,367.0 1720.6,367.0 1737.3,367.0 1754.0,367.0 1770.7,367.0 1787.4,367.0 1804.1,367.0 1820.8,367.0 1837.5,367.0 1854.2,367.0 1870.9,367.0 1887.6,367.0 1904.3,367.0 1921.0,367.0 1937.7,367.0 1954.4,367.0 1971.1,367.0 1987.8,367.0 2004.5,367.0"/>
<polyline class="b" points="1152.8,772.1 1169.5,757.5 1186.2,736.7 1202.9,708.2 1219.6,671.3 1236.3,627.1 1253.0,578.9 1269.7,531.1 1286.4,488.3 1303.1,453.0 1319.8,426.1 1336.5,406.7 1353.2,393.2 1369.9,384.1 1386.6,378.1 1403.3,374.2 1420.0,371.7 1436.7,370.1 1453.4,369.0 1470.1,368.4 1486.8,367.9 1503.5,367.7 1520.2,367.5 1536.9,367.4 1553.6,367.3 1570.3,367.3 1587.0,367.2 1603.7,367.2 1620.4,367.2 1637.1,367.2 1653.8,367.2 1670.5,367.2 1687.2,367.2 1703.9,367.2 1720.6,367.2 1737.3,367.2 1754.0,367.2 1770.7,367.2 1787.4,367.2 1804.1,367.2 1820.8,367.2 1837.5,367.2 1854.2,367.2 1870.9,367.2 1887.6,367.2 1904.3,367.2 1921.0,367.2 1937.7,367.2 1954.4,367.2 1971.1,367.2 1987.8,367.2 2004.5,367.2"/>
<polyline class="b" points="1152.8,770.8 1169.5,754.8 1186.2,732.5 1202.9,702.6 1219.6,665.2 1236.3,621.8 1253.0,575.5 1269.7,530.7 1286.4,491.0 1303.1,458.6 1319.8,433.9 1336.5,415.9 1353.2,403.3 1369.9,394.8 1386.6,389.1 1403.3,385.3 1420.0,382.8 1436.7,381.2 1453.4,380.1 1470.1,379.4 1486.8,379.0 1503.5,378.7 1520.2,378.5 1536.9,378.4 1553.6,378.3 1570.3,378.3 1587.0,378.2 1603.7,378.2 1620.4,378.2 1637.1,378.2 1653.8,378.2 1670.5,378.2 1687.2,378.2 1703.9,378.2 1720.6,378.2 1737.3,378.2 1754.0,378.2 1770.7,378.2 1787.4,378.2 1804.1,378.2 1820.8,378.2 1837.5,378.2 1854.2,378.2 1870.9,378.2 1887.6,378.2 1904.3,378.2 1921.0,378.2 1937.7,378.2 1954.4,378.2 1971.1,378.2 1987.8,378.2 2004.5,378.2"/>
<polyline class="b" points="1152.8,768.2 1169.5,749.7 1186.2,725.2 1202.9,694.5 1219.6,658.0 1236.3,617.4 1253.0,575.4 1269.7,535.2 1286.4,499.4 1303.1,469.5 1319.8,445.9 1336.5,428.1 1353.2,415.0 1369.9,405.7 1386.6,399.1 1403.3,394.5 1420.0,391.4 1436.7,389.3 1453.4,387.8 1470.1,386.8 1486.8,386.2 1503.5,385.7 1520.2,385.4 1536.9,385.2 1553.6,385.0 1570.3,384.9 1587.0,384.9 1603.7,384.8 1620.4,384.8 1637.1,384.8 1653.8,384.8 1670.5,384.8 1687.2,384.8 1703.9,384.8 1720.6,384.8 1737.3,384.8 1754.0,384.8 1770.7,384.8 1787.4,384.8 1804.1,384.8 1820.8,384.8 1837.5,384.8 1854.2,384.8 1870.9,384.8 1887.6,384.8 1904.3,384.8 1921.0,384.8 1937.7,384.8 1954.4,384.8 1971.1,384.8 1987.8,384.8 2004.5,384.8"/>
<polyline class="b" points="1152.8,768.6 1169.5,750.3 1186.2,726.0 1202.9,695.3 1219.6,658.6 1236.3,617.7 1253.0,575.4 1269.7,535.1 1286.4,499.5 1303.1,470.1 1319.8,447.1 1336.5,429.9 1353.2,417.4 1369.9,408.6 1386.6,402.5 1403.3,398.3 1420.0,395.5 1436.7,393.5 1453.4,392.2 1470.1,391.3 1486.8,390.8 1503.5,390.4 1520.2,390.1 1536.9,389.9 1553.6,389.8 1570.3,389.7 1587.0,389.7 1603.7,389.6 1620.4,389.6 1637.1,389.6 1653.8,389.6 1670.5,389.6 1687.2,389.6 1703.9,389.6 1720.6,389.6 1737.3,389.6 1754.0,389.6 1770.7,389.6 1787.4,389.6 1804.1,389.6 1820.8,389.6 1837.5,389.6 1854.2,389.6 1870.9,389.6 1887.6,389.6 1904.3,389.6 1921.0,389.6 1937.7,389.6 1954.4,389.6 1971.1,389.6 1987.8,389.6 2004.5,389.6"/>
<polyline class="b" points="1152.8,771.7 1169.5,757.6 1186.2,738.9 1202.9,714.6 1219.6,684.8 1236.3,649.9 1253.0,611.8 1269.7,573.0 1286.4,536.1 1303.1,503.5 1319.8,476.2 1336.5,454.6 1353.2,438.2 1369.9,426.0 1386.6,417.3 1403.3,411.0 1420.0,406.7 1436.7,403.6 1453.4,401.6 1470.1,400.1 1486.8,399.1 1503.5,398.4 1520.2,398.0 1536.9,397.7 1553.6,397.4 1570.3,397.3 1587.0,397.2 1603.7,397.1 1620.4,397.1 1637.1,397.0 1653.8,397.0 1670.5,397.0 1687.2,397.0 1703.9,397.0 1720.6,397.0 1737.3,397.0 1754.0,397.0 1770.7,397.0 1787.4,397.0 1804.1,397.0 1820.8,397.0 1837.5,397.0 1854.2,397.0 1870.9,397.0 1887.6,397.0 1904.3,397.0 1921.0,397.0 1937.7,397.0 1954.4,397.0 1971.1,397.0 1987.8,397.0 2004.5,397.0"/>
<polyline class="b" points="1152.8,769.9 1169.5,753.6 1186.2,732.0 1202.9,704.5 1219.6,671.3 1236.3,633.8 1253.0,594.1 1269.7,555.2 1286.4,519.8 1303.1,489.6 1319.8,465.2 1336.5,446.5 1353.2,432.6 1369.9,422.6 1386.6,415.5 1403.3,410.5 1420.0,407.1 1436.7,404.7 1453.4,403.1 1470.1,402.0 1486.8,401.2 1503.5,400.7 1520.2,400.4 1536.9,400.1 1553.6,400.0 1570.3,399.9 1587.0,399.8 1603.7,399.7 1620.4,399.7 1637.1,399.7 1653.8,399.7 1670.5,399.7 1687.2,399.7 1703.9,399.7 1720.6,399.7 1737.3,399.6 1754.0,399.6 1770.7,399.6 1787.4,399.6 1804.1,399.6 1820.8,399.6 1837.5,399.6 1854.2,399.6 1870.9,399.6 1887.6,399.6 1904.3,399.6 1921.0,399.6 1937.7,399.6 1954.4,399.6 1971.1,399.6 1987.8,399.6 2004.5,399.6"/>
<polyline class="b" points="1152.8,772.4 1169.5,759.2 1186.2,741.2 1202.9,717.7 1219.6,688.3 1236.3,653.5 1253.0,615.0 1269.7,575.5 1286.4,537.9 1303.1,504.7 1319.8,477.1 1336.5,455.5 1353.2,439.1 1369.9,427.2 1386.6,418.7 1403.3,412.8 1420.0,408.6 1436.7,405.8 1453.4,403.9 1470.1,402.6 1486.8,401.7 1503.5,401.1 1520.2,400.6 1536.9,400.4 1553.6,400.2 1570.3,400.1 1587.0,400.0 1603.7,399.9 1620.4,399.9 1637.1,399.9 1653.8,399.8 1670.5,399.8 1687.2,399.8 1703.9,399.8 1720.6,399.8 1737.3,399.8 1754.0,399.8 1770.7,399.8 1787.4,399.8 1804.1,399.8 1820.8,399.8 1837.5,399.8 1854.2,399.8 1870.9,399.8 1887.6,399.8 1904.3,399.8 1921.0,399.8 1937.7,399.8 1954.4,399.8 1971.1,399.8 1987.8,399.8 2004.5,399.8"/>
<polyline class="b" points="1152.8,772.5 1169.5,759.4 1186.2,741.5 1202.9,717.8 1219.6,688.2 1236.3,653.3 1253.0,614.8 1269.7,575.6 1286.4,538.8 1303.1,506.6 1319.8,480.2 1336.5,459.8 1353.2,444.6 1369.9,433.7 1386.6,425.9 1403.3,420.6 1420.0,416.9 1436.7,414.4 1453.4,412.7 1470.1,411.6 1486.8,410.8 1503.5,410.3 1520.2,410.0 1536.9,409.7 1553.6,409.6 1570.3,409.5 1587.0,409.4 1603.7,409.4 1620.4,409.3 1637.1,409.3 1653.8,409.3 1670.5,409.3 1687.2,409.3 1703.9,409.3 1720.6,409.3 1737.3,409.3 1754.0,409.3 1770.7,409.3 1787.4,409.3 1804.1,409.3 1820.8,409.3 1837.5,409.3 1854.2,409.3 1870.9,409.3 1887.6,409.3 1904.3,409.3 1921.0,409.3 1937.7,409.3 1954.4,409.3 1971.1,409.3 1987.8,409.3 2004.5,409.3"/>
<polyline class="b" points="1152.8,771.2 1169.5,756.7 1186.2,737.7 1202.9,713.7 1219.6,684.7 1236.3,651.6 1253.0,616.1 1269.7,580.5 1286.4,547.2 1303.1,517.9 1319.8,493.6 1336.5,474.3 1353.2,459.5 1369.9,448.5 1386.6,440.5 1403.3,434.8 1420.0,430.8 1436.7,428.0 1453.4,426.0 1470.1,424.6 1486.8,423.6 1503.5,423.0 1520.2,422.5 1536.9,422.2 1553.6,422.0 1570.3,421.8 1587.0,421.7 1603.7,421.6 1620.4,421.6 1637.1,421.6 1653.8,421.5 1670.5,421.5 1687.2,421.5 1703.9,421.5 1720.6,421.5 1737.3,421.5 1754.0,421.5 1770.7,421.5 1787.4,421.5 1804.1,421.5 1820.8,421.5 1837.5,421.5 1854.2,421.5 1870.9,421.5 1887.6,421.5 1904.3,421.5 1921.0,421.5 1937.7,421.5 1954.4,421.5 1971.1,421.5 1987.8,421.5 2004.5,421.5"/>
<polyline class="o" points="1152.8,769.9 1169.5,770.4 1186.2,770.9 1202.9,771.7 1219.6,772.7 1236.3,774.0 1253.0,775.3 1269.7,776.7 1286.4,777.9 1303.1,779.0 1319.8,779.9 1336.5,780.5 1353.2,780.9 1369.9,781.3 1386.6,781.5 1403.3,781.6 1420.0,781.7 1436.7,781.8 1453.4,781.8 1470.1,781.8 1486.8,781.9 1503.5,781.9 1520.2,781.9 1536.9,781.9 1553.6,781.9 1570.3,781.9 1587.0,781.9 1603.7,781.9 1620.4,781.9 1637.1,781.9 1653.8,781.9 1670.5,781.9 1687.2,781.9 1703.9,781.9 1720.6,781.9 1737.3,781.9 1754.0,781.9 1770.7,781.9 1787.4,781.9 1804.1,781.9 1820.8,781.9 1837.5,781.9 1854.2,781.9 1870.9,781.9 1887.6,781.9 1904.3,781.9 1921.0,781.9 1937.7,781.9 1954.4,781.9 1971.1,781.9 1987.8,781.9 2004.5,781.9"/>
<polyline class="o" points="1152.8,772.0 1169.5,772.3 1186.2,772.7 1202.9,773.3 1219.6,774.1 1236.3,775.1 1253.0,776.2 1269.7,777.4 1286.4,778.5 1303.1,779.4 1319.8,780.2 1336.5,780.7 1353.2,781.1 1369.9,781.4 1386.6,781.6 1403.3,781.7 1420.0,781.8 1436.7,781.8 1453.4,781.8 1470.1,781.9 1486.8,781.9 1503.5,781.9 1520.2,781.9 1536.9,781.9 1553.6,781.9 1570.3,781.9 1587.0,781.9 1603.7,781.9 1620.4,781.9 1637.1,781.9 1653.8,781.9 1670.5,781.9 1687.2,781.9 1703.9,781.9 1720.6,781.9 1737.3,781.9 1754.0,781.9 1770.7,781.9 1787.4,781.9 1804.1,781.9 1820.8,781.9 1837.5,781.9 1854.2,781.9 1870.9,781.9 1887.6,781.9 1904.3,781.9 1921.0,781.9 1937.7,781.9 1954.4,781.9 1971.1,781.9 1987.8,781.9 2004.5,781.9"/>
<polyline class="o" points="1152.8,770.7 1169.5,771.1 1186.2,771.6 1202.9,772.4 1219.6,773.3 1236.3,774.5 1253.0,775.7 1269.7,777.0 1286.4,778.2 1303.1,779.2 1319.8,780.0 1336.5,780.6 1353.2,781.0 1369.9,781.3 1386.6,781.5 1403.3,781.7 1420.0,781.7 1436.7,781.8 1453.4,781.8 1470.1,781.9 1486.8,781.9 1503.5,781.9 1520.2,781.9 1536.9,781.9 1553.6,781.9 1570.3,781.9 1587.0,781.9 1603.7,781.9 1620.4,781.9 1637.1,781.9 1653.8,781.9 1670.5,781.9 1687.2,781.9 1703.9,781.9 1720.6,781.9 1737.3,781.9 1754.0,781.9 1770.7,781.9 1787.4,781.9 1804.1,781.9 1820.8,781.9 1837.5,781.9 1854.2,781.9 1870.9,781.9 1887.6,781.9 1904.3,781.9 1921.0,781.9 1937.7,781.9 1954.4,781.9 1971.1,781.9 1987.8,781.9 2004.5,781.9"/>
<polyline class="o" points="1152.8,768.1 1169.5,768.6 1186.2,769.4 1202.9,770.4 1219.6,771.6 1236.3,772.9 1253.0,774.4 1269.7,775.9 1286.4,777.2 1303.1,778.4 1319.8,779.3 1336.5,780.1 1353.2,780.6 1369.9,781.0 1386.6,781.3 1403.3,781.5 1420.0,781.6 1436.7,781.7 1453.4,781.8 1470.1,781.8 1486.8,781.8 1503.5,781.9 1520.2,781.9 1536.9,781.9 1553.6,781.9 1570.3,781.9 1587.0,781.9 1603.7,781.9 1620.4,781.9 1637.1,781.9 1653.8,781.9 1670.5,781.9 1687.2,781.9 1703.9,781.9 1720.6,781.9 1737.3,781.9 1754.0,781.9 1770.7,781.9 1787.4,781.9 1804.1,781.9 1820.8,781.9 1837.5,781.9 1854.2,781.9 1870.9,781.9 1887.6,781.9 1904.3,781.9 1921.0,781.9 1937.7,781.9 1954.4,781.9 1971.1,781.9 1987.8,781.9 2004.5,781.9"/>
<polyline class="o" points="1152.8,768.4 1169.5,769.0 1186.2,769.7 1202.9,770.7 1219.6,771.9 1236.3,773.2 1253.0,774.7 1269.7,776.1 1286.4,777.5 1303.1,778.6 1319.8,779.5 1336.5,780.2 1353.2,780.7 1369.9,781.1 1386.6,781.4 1403.3,781.5 1420.0,781.6 1436.7,781.7 1453.4,781.8 1470.1,781.8 1486.8,781.8 1503.5,781.9 1520.2,781.9 1536.9,781.9 1553.6,781.9 1570.3,781.9 1587.0,781.9 1603.7,781.9 1620.4,781.9 1637.1,781.9 1653.8,781.9 1670.5,781.9 1687.2,781.9 1703.9,781.9 1720.6,781.9 1737.3,781.9 1754.0,781.9 1770.7,781.9 1787.4,781.9 1804.1,781.9 1820.8,781.9 1837.5,781.9 1854.2,781.9 1870.9,781.9 1887.6,781.9 1904.3,781.9 1921.0,781.9 1937.7,781.9 1954.4,781.9 1971.1,781.9 1987.8,781.9 2004.5,781.9"/>
<polyline class="o" points="1152.8,771.6 1169.5,771.9 1186.2,772.4 1202.9,772.9 1219.6,773.7 1236.3,774.5 1253.0,775.5 1269.7,776.6 1286.4,777.6 1303.1,778.6 1319.8,779.4 1336.5,780.1 1353.2,780.6 1369.9,781.0 1386.6,781.2 1403.3,781.4 1420.0,781.6 1436.7,781.7 1453.4,781.7 1470.1,781.8 1486.8,781.8 1503.5,781.9 1520.2,781.9 1536.9,781.9 1553.6,781.9 1570.3,781.9 1587.0,781.9 1603.7,781.9 1620.4,781.9 1637.1,781.9 1653.8,781.9 1670.5,781.9 1687.2,781.9 1703.9,781.9 1720.6,781.9 1737.3,781.9 1754.0,781.9 1770.7,781.9 1787.4,781.9 1804.1,781.9 1820.8,781.9 1837.5,781.9 1854.2,781.9 1870.9,781.9 1887.6,781.9 1904.3,781.9 1921.0,781.9 1937.7,781.9 1954.4,781.9 1971.1,781.9 1987.8,781.9 2004.5,781.9"/>
<polyline class="o" points="1152.8,769.8 1169.5,770.3 1186.2,770.9 1202.9,771.6 1219.6,772.6 1236.3,773.8 1253.0,775.0 1269.7,776.3 1286.4,777.5 1303.1,778.6 1319.8,779.4 1336.5,780.1 1353.2,780.6 1369.9,781.0 1386.6,781.3 1403.3,781.5 1420.0,781.6 1436.7,781.7 1453.4,781.8 1470.1,781.8 1486.8,781.8 1503.5,781.9 1520.2,781.9 1536.9,781.9 1553.6,781.9 1570.3,781.9 1587.0,781.9 1603.7,781.9 1620.4,781.9 1637.1,781.9 1653.8,781.9 1670.5,781.9 1687.2,781.9 1703.9,781.9 1720.6,781.9 1737.3,781.9 1754.0,781.9 1770.7,781.9 1787.4,781.9 1804.1,781.9 1820.8,781.9 1837.5,781.9 1854.2,781.9 1870.9,781.9 1887.6,781.9 1904.3,781.9 1921.0,781.9 1937.7,781.9 1954.4,781.9 1971.1,781.9 1987.8,781.9 2004.5,781.9"/>
<polyline class="o" points="1152.8,772.3 1169.5,772.6 1186.2,773.0 1202.9,773.5 1219.6,774.2 1236.3,775.0 1253.0,776.0 1269.7,777.0 1286.4,777.9 1303.1,778.8 1319.8,779.6 1336.5,780.2 1353.2,780.7 1369.9,781.1 1386.6,781.3 1403.3,781.5 1420.0,781.6 1436.7,781.7 1453.4,781.8 1470.1,781.8 1486.8,781.8 1503.5,781.9 1520.2,781.9 1536.9,781.9 1553.6,781.9 1570.3,781.9 1587.0,781.9 1603.7,781.9 1620.4,781.9 1637.1,781.9 1653.8,781.9 1670.5,781.9 1687.2,781.9 1703.9,781.9 1720.6,781.9 1737.3,781.9 1754.0,781.9 1770.7,781.9 1787.4,781.9 1804.1,781.9 1820.8,781.9 1837.5,781.9 1854.2,781.9 1870.9,781.9 1887.6,781.9 1904.3,781.9 1921.0,781.9 1937.7,781.9 1954.4,781.9 1971.1,781.9 1987.8,781.9 2004.5,781.9"/>
<polyline class="o" points="1152.8,772.5 1169.5,772.8 1186.2,773.1 1202.9,773.7 1219.6,774.4 1236.3,775.2 1253.0,776.1 1269.7,777.1 1286.4,778.1 1303.1,779.0 1319.8,779.8 1336.5,780.4 1353.2,780.8 1369.9,781.1 1386.6,781.4 1403.3,781.5 1420.0,781.7 1436.7,781.7 1453.4,781.8 1470.1,781.8 1486.8,781.9 1503.5,781.9 1520.2,781.9 1536.9,781.9 1553.6,781.9 1570.3,781.9 1587.0,781.9 1603.7,781.9 1620.4,781.9 1637.1,781.9 1653.8,781.9 1670.5,781.9 1687.2,781.9 1703.9,781.9 1720.6,781.9 1737.3,781.9 1754.0,781.9 1770.7,781.9 1787.4,781.9 1804.1,781.9 1820.8,781.9 1837.5,781.9 1854.2,781.9 1870.9,781.9 1887.6,781.9 1904.3,781.9 1921.0,781.9 1937.7,781.9 1954.4,781.9 1971.1,781.9 1987.8,781.9 2004.5,781.9"/>
<polyline class="o" points="1152.8,771.0 1169.5,771.4 1186.2,771.9 1202.9,772.6 1219.6,773.4 1236.3,774.4 1253.0,775.4 1269.7,776.5 1286.4,777.6 1303.1,778.5 1319.8,779.3 1336.5,780.0 1353.2,780.5 1369.9,780.9 1386.6,781.2 1403.3,781.4 1420.0,781.6 1436.7,781.7 1453.4,781.7 1470.1,781.8 1486.8,781.8 1503.5,781.8 1520.2,781.9 1536.9,781.9 1553.6,781.9 1570.3,781.9 1587.0,781.9 1603.7,781.9 1620.4,781.9 1637.1,781.9 1653.8,781.9 1670.5,781.9 1687.2,781.9 1703.9,781.9 1720.6,781.9 1737.3,781.9 1754.0,781.9 1770.7,781.9 1787.4,781.9 1804.1,781.9 1820.8,781.9 1837.5,781.9 1854.2,781.9 1870.9,781.9 1887.6,781.9 1904.3,781.9 1921.0,781.9 1937.7,781.9 1954.4,781.9 1971.1,781.9 1987.8,781.9 2004.5,781.9"/>
<polyline class="gr" points="1152.8,781.9 1169.5,776.3 1186.2,769.2 1202.9,760.8 1219.6,752.1 1236.3,744.8 1253.0,740.8 1269.7,741.0 1286.4,745.1 1303.1,751.4 1319.8,758.3 1336.5,764.6 1353.2,769.7 1369.9,773.5 1386.6,776.2 1403.3,778.1 1420.0,779.4 1436.7,780.3 1453.4,780.8 1470.1,781.2 1486.8,781.4 1503.5,781.6 1520.2,781.7 1536.9,781.8 1553.6,781.8 1570.3,781.8 1587.0,781.9 1603.7,781.9 1620.4,781.9 1637.1,781.9 1653.8,781.9 1670.5,781.9 1687.2,781.9 1703.9,781.9 1720.6,781.9 1737.3,781.9 1754.0,781.9 1770.7,781.9 1787.4,781.9 1804.1,781.9 1820.8,781.9 1837.5,781.9 1854.2,781.9 1870.9,781.9 1887.6,781.9 1904.3,781.9 1921.0,781.9 1937.7,781.9 1954.4,781.9 1971.1,781.9 1987.8,781.9 2004.5,781.9"/>
<polyline class="gr" points="1152.8,781.9 1169.5,776.9 1186.2,770.1 1202.9,761.7 1219.6,752.4 1236.3,744.0 1253.0,738.6 1269.7,737.9 1286.4,741.9 1303.1,748.7 1319.8,756.5 1336.5,763.5 1353.2,769.1 1369.9,773.3 1386.6,776.2 1403.3,778.2 1420.0,779.5 1436.7,780.4 1453.4,780.9 1470.1,781.3 1486.8,781.5 1503.5,781.6 1520.2,781.7 1536.9,781.8 1553.6,781.8 1570.3,781.9 1587.0,781.9 1603.7,781.9 1620.4,781.9 1637.1,781.9 1653.8,781.9 1670.5,781.9 1687.2,781.9 1703.9,781.9 1720.6,781.9 1737.3,781.9 1754.0,781.9 1770.7,781.9 1787.4,781.9 1804.1,781.9 1820.8,781.9 1837.5,781.9 1854.2,781.9 1870.9,781.9 1887.6,781.9 1904.3,781.9 1921.0,781.9 1937.7,781.9 1954.4,781.9 1971.1,781.9 1987.8,781.9 2004.5,781.9"/>
<polyline class="gr" points="1152.8,781.9 1169.5,776.5 1186.2,769.6 1202.9,761.3 1219.6,752.6 1236.3,745.2 1253.0,741.1 1269.7,741.2 1286.4,745.3 1303.1,751.8 1319.8,758.8 1336.5,765.1 1353.2,770.1 1369.9,773.9 1386.6,776.5 1403.3,778.3 1420.0,779.6 1436.7,780.4 1453.4,780.9 1470.1,781.3 1486.8,781.5 1503.5,781.6 1520.2,781.7 1536.9,781.8 1553.6,781.8 1570.3,781.9 1587.0,781.9 1603.7,781.9 1620.4,781.9 1637.1,781.9 1653.8,781.9 1670.5,781.9 1687.2,781.9 1703.9,781.9 1720.6,781.9 1737.3,781.9 1754.0,781.9 1770.7,781.9 1787.4,781.9 1804.1,781.9 1820.8,781.9 1837.5,781.9 1854.2,781.9 1870.9,781.9 1887.6,781.9 1904.3,781.9 1921.0,781.9 1937.7,781.9 1954.4,781.9 1971.1,781.9 1987.8,781.9 2004.5,781.9"/>
<polyline class="gr" points="1152.8,781.9 1169.5,776.3 1186.2,769.6 1202.9,762.2 1219.6,755.1 1236.3,749.5 1253.0,746.6 1269.7,747.0 1286.4,750.1 1303.1,755.0 1319.8,760.5 1336.5,765.6 1353.2,769.9 1369.9,773.3 1386.6,775.9 1403.3,777.7 1420.0,779.0 1436.7,779.9 1453.4,780.6 1470.1,781.0 1486.8,781.3 1503.5,781.5 1520.2,781.6 1536.9,781.7 1553.6,781.8 1570.3,781.8 1587.0,781.8 1603.7,781.9 1620.4,781.9 1637.1,781.9 1653.8,781.9 1670.5,781.9 1687.2,781.9 1703.9,781.9 1720.6,781.9 1737.3,781.9 1754.0,781.9 1770.7,781.9 1787.4,781.9 1804.1,781.9 1820.8,781.9 1837.5,781.9 1854.2,781.9 1870.9,781.9 1887.6,781.9 1904.3,781.9 1921.0,781.9 1937.7,781.9 1954.4,781.9 1971.1,781.9 1987.8,781.9 2004.5,781.9"/>
<polyline class="gr" points="1152.8,781.9 1169.5,776.3 1186.2,769.5 1202.9,761.9 1219.6,754.6 1236.3,748.9 1253.0,746.1 1269.7,746.6 1286.4,750.1 1303.1,755.3 1319.8,760.9 1336.5,766.2 1353.2,770.5 1369.9,773.8 1386.6,776.3 1403.3,778.0 1420.0,779.3 1436.7,780.1 1453.4,780.7 1470.1,781.1 1486.8,781.4 1503.5,781.5 1520.2,781.7 1536.9,781.7 1553.6,781.8 1570.3,781.8 1587.0,781.9 1603.7,781.9 1620.4,781.9 1637.1,781.9 1653.8,781.9 1670.5,781.9 1687.2,781.9 1703.9,781.9 1720.6,781.9 1737.3,781.9 1754.0,781.9 1770.7,781.9 1787.4,781.9 1804.1,781.9 1820.8,781.9 1837.5,781.9 1854.2,781.9 1870.9,781.9 1887.6,781.9 1904.3,781.9 1921.0,781.9 1937.7,781.9 1954.4,781.9 1971.1,781.9 1987.8,781.9 2004.5,781.9"/>
<polyline class="gr" points="1152.8,781.9 1169.5,777.7 1186.2,772.5 1202.9,766.4 1219.6,759.9 1236.3,753.9 1253.0,749.6 1269.7,747.8 1286.4,748.8 1303.1,752.1 1319.8,756.8 1336.5,761.9 1353.2,766.6 1369.9,770.6 1386.6,773.7 1403.3,776.1 1420.0,777.8 1436.7,779.1 1453.4,779.9 1470.1,780.6 1486.8,781.0 1503.5,781.3 1520.2,781.5 1536.9,781.6 1553.6,781.7 1570.3,781.8 1587.0,781.8 1603.7,781.8 1620.4,781.9 1637.1,781.9 1653.8,781.9 1670.5,781.9 1687.2,781.9 1703.9,781.9 1720.6,781.9 1737.3,781.9 1754.0,781.9 1770.7,781.9 1787.4,781.9 1804.1,781.9 1820.8,781.9 1837.5,781.9 1854.2,781.9 1870.9,781.9 1887.6,781.9 1904.3,781.9 1921.0,781.9 1937.7,781.9 1954.4,781.9 1971.1,781.9 1987.8,781.9 2004.5,781.9"/>
<polyline class="gr" points="1152.8,781.9 1169.5,777.0 1186.2,771.0 1202.9,764.3 1219.6,757.5 1236.3,751.8 1253.0,748.4 1269.7,748.0 1286.4,750.3 1303.1,754.6 1319.8,759.7 1336.5,764.7 1353.2,769.1 1369.9,772.6 1386.6,775.3 1403.3,777.3 1420.0,778.7 1436.7,779.7 1453.4,780.4 1470.1,780.9 1486.8,781.2 1503.5,781.4 1520.2,781.6 1536.9,781.7 1553.6,781.8 1570.3,781.8 1587.0,781.8 1603.7,781.9 1620.4,781.9 1637.1,781.9 1653.8,781.9 1670.5,781.9 1687.2,781.9 1703.9,781.9 1720.6,781.9 1737.3,781.9 1754.0,781.9 1770.7,781.9 1787.4,781.9 1804.1,781.9 1820.8,781.9 1837.5,781.9 1854.2,781.9 1870.9,781.9 1887.6,781.9 1904.3,781.9 1921.0,781.9 1937.7,781.9 1954.4,781.9 1971.1,781.9 1987.8,781.9 2004.5,781.9"/>
<polyline class="gr" points="1152.8,781.9 1169.5,777.8 1186.2,772.7 1202.9,766.5 1219.6,759.8 1236.3,753.5 1253.0,748.8 1269.7,746.8 1286.4,747.8 1303.1,751.3 1319.8,756.3 1336.5,761.7 1353.2,766.6 1369.9,770.7 1386.6,773.9 1403.3,776.3 1420.0,778.0 1436.7,779.2 1453.4,780.1 1470.1,780.7 1486.8,781.1 1503.5,781.3 1520.2,781.5 1536.9,781.6 1553.6,781.7 1570.3,781.8 1587.0,781.8 1603.7,781.8 1620.4,781.9 1637.1,781.9 1653.8,781.9 1670.5,781.9 1687.2,781.9 1703.9,781.9 1720.6,781.9 1737.3,781.9 1754.0,781.9 1770.7,781.9 1787.4,781.9 1804.1,781.9 1820.8,781.9 1837.5,781.9 1854.2,781.9 1870.9,781.9 1887.6,781.9 1904.3,781.9 1921.0,781.9 1937.7,781.9 1954.4,781.9 1971.1,781.9 1987.8,781.9 2004.5,781.9"/>
<polyline class="gr" points="1152.8,781.9 1169.5,777.8 1186.2,772.5 1202.9,766.3 1219.6,759.5 1236.3,753.2 1253.0,748.6 1269.7,746.9 1286.4,748.3 1303.1,752.2 1319.8,757.4 1336.5,762.8 1353.2,767.7 1369.9,771.6 1386.6,774.6 1403.3,776.9 1420.0,778.4 1436.7,779.6 1453.4,780.3 1470.1,780.8 1486.8,781.2 1503.5,781.4 1520.2,781.6 1536.9,781.7 1553.6,781.8 1570.3,781.8 1587.0,781.8 1603.7,781.9 1620.4,781.9 1637.1,781.9 1653.8,781.9 1670.5,781.9 1687.2,781.9 1703.9,781.9 1720.6,781.9 1737.3,781.9 1754.0,781.9 1770.7,781.9 1787.4,781.9 1804.1,781.9 1820.8,781.9 1837.5,781.9 1854.2,781.9 1870.9,781.9 1887.6,781.9 1904.3,781.9 1921.0,781.9 1937.7,781.9 1954.4,781.9 1971.1,781.9 1987.8,781.9 2004.5,781.9"/>
<polyline class="gr" points="1152.8,781.9 1169.5,777.7 1186.2,772.6 1202.9,766.9 1219.6,761.0 1236.3,755.8 1253.0,752.3 1269.7,751.1 1286.4,752.4 1303.1,755.5 1319.8,759.8 1336.5,764.2 1353.2,768.3 1369.9,771.8 1386.6,774.5 1403.3,776.6 1420.0,778.2 1436.7,779.3 1453.4,780.1 1470.1,780.6 1486.8,781.0 1503.5,781.3 1520.2,781.5 1536.9,781.6 1553.6,781.7 1570.3,781.8 1587.0,781.8 1603.7,781.8 1620.4,781.9 1637.1,781.9 1653.8,781.9 1670.5,781.9 1687.2,781.9 1703.9,781.9 1720.6,781.9 1737.3,781.9 1754.0,781.9 1770.7,781.9 1787.4,781.9 1804.1,781.9 1820.8,781.9 1837.5,781.9 1854.2,781.9 1870.9,781.9 1887.6,781.9 1904.3,781.9 1921.0,781.9 1937.7,781.9 1954.4,781.9 1971.1,781.9 1987.8,781.9 2004.5,781.9"/>
<polyline class="k" points="1152.8,781.5 1169.5,748.1 1186.2,734.7 1202.9,721.9 1219.6,592.0 1236.3,553.7 1253.0,492.7 1269.7,454.7 1286.4,446.8 1303.1,411.4 1319.8,348.5 1336.5,344.5 1353.2,330.8 1369.9,330.1 1386.6,329.4 1403.3,319.9 1420.0,318.0 1436.7,316.4 1453.4,315.4 1470.1,314.6 1486.8,314.0 1503.5,313.7 1520.2,313.4 1536.9,313.3 1553.6,313.2 1570.3,313.1 1587.0,313.1 1603.7,313.1 1620.4,313.1 1637.1,313.1 1653.8,313.1 1670.5,313.1 1687.2,313.1 1703.9,313.1 1720.6,313.0 1737.3,313.0 1754.0,313.0 1770.7,313.0 1787.4,313.0 1804.1,313.0 1820.8,313.0 1837.5,313.0 1854.2,313.0 1870.9,313.0 1887.6,313.0 1904.3,313.0 1921.0,313.0 1937.7,313.0 1954.4,313.0 1971.1,313.0 1987.8,313.0 2004.5,313.0"/>
</g>
<g id="p2">
<rect x="2067.0" y="135.0" width="936.0" height="678.0" fill="#eeeeee"/>
<path class="g" d="M2109 135.0V813.0M2276 135.0V813.0M2443 135.0V813.0M2610 135.0V813.0M2777 135.0V813.0M2944 135.0V813.0M2067.0 782H3003.0M2067.0 629H3003.0M2067.0 477H3003.0M2067.0 324H3003.0M2067.0 171H3003.0"/>
<text class="ti" x="2535.0" y="119.2" text-anchor="middle">product=P2</text>
<polygon class="hd" points="2109.2,766.2 2125.9,752.4 2142.6,726.9 2159.3,691.4 2176.0,648.2 2192.7,602.9 2209.4,553.5 2226.1,510.8 2242.8,474.9 2259.5,441.0 2276.2,416.4 2292.9,397.7 2309.6,381.9 2326.3,373.1 2343.0,366.7 2359.7,359.3 2376.4,359.3 2393.1,353.0 2409.8,355.3 2426.5,354.7 2443.2,353.4 2459.9,353.0 2476.6,353.3 2493.3,353.5 2510.0,353.6 2526.7,353.7 2543.4,353.7 2560.1,353.7 2576.8,353.8 2593.5,353.8 2610.2,353.8 2626.9,353.8 2643.6,353.8 2660.3,353.8 2677.0,353.8 2693.7,353.8 2710.4,353.8 2727.1,353.8 2743.8,353.8 2760.5,353.8 2777.2,353.8 2793.9,353.8 2810.6,353.8 2827.3,353.8 2844.0,353.8 2860.7,353.8 2877.4,353.8 2894.1,353.8 2910.8,353.8 2927.5,353.8 2944.2,353.8 2960.9,353.8 2960.9,480.8 2944.2,480.8 2927.5,480.8 2910.8,480.8 2894.1,480.8 2877.4,480.8 2860.7,480.8 2844.0,480.8 2827.3,480.8 2810.6,480.8 2793.9,480.8 2777.2,480.8 2760.5,480.8 2743.8,480.8 2727.1,480.8 2710.4,480.8 2693.7,480.8 2677.0,480.8 2660.3,480.8 2643.6,480.8 2626.9,480.8 2610.2,480.8 2593.5,480.8 2576.8,480.8 2560.1,480.8 2543.4,480.8 2526.7,480.8 2510.0,480.8 2493.3,480.8 2476.6,480.9 2459.9,481.0 2443.2,481.9 2426.5,483.3 2409.8,483.8 2393.1,481.4 2376.4,486.8 2359.7,486.8 2343.0,493.7 2326.3,498.6 2309.6,505.5 2292.9,519.2 2276.2,536.0 2259.5,553.7 2242.8,573.4 2226.1,600.9 2209.4,647.1 2192.7,689.5 2176.0,720.9 2159.3,744.5 2142.6,760.3 2125.9,770.1 2109.2,776.0"/>
<polyline class="b" points="2109.2,771.6 2125.9,756.9 2142.6,736.7 2159.3,709.7 2176.0,675.7 2192.7,635.5 2209.4,591.5 2226.1,547.1 2242.8,505.9 2259.5,470.7 2276.2,442.4 2292.9,420.9 2309.6,405.3 2326.3,394.3 2343.0,386.6 2359.7,381.4 2376.4,377.9 2393.1,375.6 2409.8,374.0 2426.5,373.0 2443.2,372.3 2459.9,371.8 2476.6,371.5 2493.3,371.3 2510.0,371.2 2526.7,371.1 2543.4,371.0 2560.1,371.0 2576.8,371.0 2593.5,371.0 2610.2,370.9 2626.9,370.9 2643.6,370.9 2660.3,370.9 2677.0,370.9 2693.7,370.9 2710.4,370.9 2727.1,370.9 2743.8,370.9 2760.5,370.9 2777.2,370.9 2793.9,370.9 2810.6,370.9 2827.3,370.9 2844.0,370.9 2860.7,370.9 2877.4,370.9 2894.1,370.9 2910.8,370.9 2927.5,370.9 2944.2,370.9 2960.9,370.9"/>
<polyline class="b" points="2109.2,770.9 2125.9,755.6 2142.6,734.9 2159.3,707.9 2176.0,674.5 2192.7,635.7 2209.4,593.8 2226.1,551.9 2242.8,513.3 2259.5,480.1 2276.2,453.3 2292.9,432.8 2309.6,417.7 2326.3,406.9 2343.0,399.3 2359.7,394.0 2376.4,390.5 2393.1,388.0 2409.8,386.4 2426.5,385.3 2443.2,384.5 2459.9,384.0 2476.6,383.7 2493.3,383.5 2510.0,383.3 2526.7,383.2 2543.4,383.1 2560.1,383.1 2576.8,383.1 2593.5,383.0 2610.2,383.0 2626.9,383.0 2643.6,383.0 2660.3,383.0 2677.0,383.0 2693.7,383.0 2710.4,383.0 2727.1,383.0 2743.8,383.0 2760.5,383.0 2777.2,383.0 2793.9,383.0 2810.6,383.0 2827.3,383.0 2844.0,383.0 2860.7,383.0 2877.4,383.0 2894.1,383.0 2910.8,383.0 2927.5,383.0 2944.2,383.0 2960.9,383.0"/>
<polyline class="b" points="2109.2,770.6 2125.9,754.6 2142.6,732.8 2159.3,704.3 2176.0,669.2 2192.7,628.9 2209.4,586.1 2226.1,544.4 2242.8,506.9 2259.5,475.7 2276.2,451.3 2292.9,433.2 2309.6,420.1 2326.3,411.0 2343.0,404.7 2359.7,400.5 2376.4,397.7 2393.1,395.8 2409.8,394.5 2426.5,393.7 2443.2,393.1 2459.9,392.8 2476.6,392.5 2493.3,392.4 2510.0,392.2 2526.7,392.2 2543.4,392.1 2560.1,392.1 2576.8,392.1 2593.5,392.1 2610.2,392.1 2626.9,392.1 2643.6,392.1 2660.3,392.0 2677.0,392.0 2693.7,392.0 2710.4,392.0 2727.1,392.0 2743.8,392.0 2760.5,392.0 2777.2,392.0 2793.9,392.0 2810.6,392.0 2827.3,392.0 2844.0,392.0 2860.7,392.0 2877.4,392.0 2894.1,392.0 2910.8,392.0 2927.5,392.0 2944.2,392.0 2960.9,392.0"/>
<polyline class="b" points="2109.2,771.9 2125.9,757.8 2142.6,738.4 2159.3,712.9 2176.0,681.0 2192.7,644.0 2209.4,604.2 2226.1,565.0 2242.8,529.4 2259.5,499.5 2276.2,476.0 2292.9,458.3 2309.6,445.7 2326.3,436.8 2343.0,430.7 2359.7,426.6 2376.4,423.8 2393.1,422.0 2409.8,420.7 2426.5,419.9 2443.2,419.4 2459.9,419.0 2476.6,418.8 2493.3,418.7 2510.0,418.6 2526.7,418.5 2543.4,418.4 2560.1,418.4 2576.8,418.4 2593.5,418.4 2610.2,418.4 2626.9,418.4 2643.6,418.4 2660.3,418.4 2677.0,418.4 2693.7,418.4 2710.4,418.4 2727.1,418.4 2743.8,418.4 2760.5,418.4 2777.2,418.4 2793.9,418.4 2810.6,418.4 2827.3,418.4 2844.0,418.4 2860.7,418.4 2877.4,418.4 2894.1,418.4 2910.8,418.4 2927.5,418.4 2944.2,418.4 2960.9,418.4"/>
<polyline class="b" points="2109.2,775.0 2125.9,764.7 2142.6,749.9 2159.3,729.2 2176.0,701.6 2192.7,667.3 2209.4,627.9 2226.1,586.6 2242.8,547.3 2259.5,513.2 2276.2,485.8 2292.9,465.2 2309.6,450.4 2326.3,440.3 2343.0,433.4 2359.7,428.9 2376.4,425.9 2393.1,423.9 2409.8,422.7 2426.5,421.9 2443.2,421.4 2459.9,421.0 2476.6,420.8 2493.3,420.7 2510.0,420.6 2526.7,420.5 2543.4,420.5 2560.1,420.5 2576.8,420.4 2593.5,420.4 2610.2,420.4 2626.9,420.4 2643.6,420.4 2660.3,420.4 2677.0,420.4 2693.7,420.4 2710.4,420.4 2727.1,420.4 2743.8,420.4 2760.5,420.4 2777.2,420.4 2793.9,420.4 2810.6,420.4 2827.3,420.4 2844.0,420.4 2860.7,420.4 2877.4,420.4 2894.1,420.4 2910.8,420.4 2927.5,420.4 2944.2,420.4 2960.9,420.4"/>
<polyline class="b" points="2109.2,773.1 2125.9,760.4 2142.6,742.9 2159.3,719.6 2176.0,690.0 2192.7,655.0 2209.4,616.4 2226.1,577.4 2242.8,541.3 2259.5,510.2 2276.2,485.4 2292.9,466.5 2309.6,452.8 2326.3,443.1 2343.0,436.4 2359.7,431.9 2376.4,428.8 2393.1,426.8 2409.8,425.4 2426.5,424.5 2443.2,423.9 2459.9,423.5 2476.6,423.3 2493.3,423.1 2510.0,423.0 2526.7,422.9 2543.4,422.9 2560.1,422.8 2576.8,422.8 2593.5,422.8 2610.2,422.8 2626.9,422.8 2643.6,422.8 2660.3,422.8 2677.0,422.8 2693.7,422.8 2710.4,422.8 2727.1,422.8 2743.8,422.8 2760.5,422.8 2777.2,422.8 2793.9,422.8 2810.6,422.8 2827.3,422.8 2844.0,422.8 2860.7,422.8 2877.4,422.8 2894.1,422.8 2910.8,422.8 2927.5,422.8 2944.2,422.8 2960.9,422.8"/>
<polyline class="b" points="2109.2,770.5 2125.9,755.6 2142.6,736.7 2159.3,713.6 2176.0,686.5 2192.7,656.0 2209.4,623.6 2226.1,591.0 2242.8,560.0 2259.5,532.1 2276.2,508.2 2292.9,488.6 2309.6,473.0 2326.3,460.9 2343.0,451.8 2359.7,445.0 2376.4,440.1 2393.1,436.4 2409.8,433.8 2426.5,431.9 2443.2,430.5 2459.9,429.6 2476.6,428.9 2493.3,428.4 2510.0,428.0 2526.7,427.8 2543.4,427.6 2560.1,427.5 2576.8,427.4 2593.5,427.3 2610.2,427.3 2626.9,427.2 2643.6,427.2 2660.3,427.2 2677.0,427.2 2693.7,427.2 2710.4,427.2 2727.1,427.1 2743.8,427.1 2760.5,427.1 2777.2,427.1 2793.9,427.1 2810.6,427.1 2827.3,427.1 2844.0,427.1 2860.7,427.1 2877.4,427.1 2894.1,427.1 2910.8,427.1 2927.5,427.1 2944.2,427.1 2960.9,427.1"/>
<polyline class="b" points="2109.2,775.0 2125.9,764.9 2142.6,750.8 2159.3,731.6 2176.0,706.6 2192.7,676.0 2209.4,641.1 2226.1,604.4 2242.8,569.0 2259.5,537.7 2276.2,511.8 2292.9,491.8 2309.6,476.9 2326.3,466.4 2343.0,459.0 2359.7,454.0 2376.4,450.6 2393.1,448.4 2409.8,446.9 2426.5,445.9 2443.2,445.2 2459.9,444.8 2476.6,444.5 2493.3,444.3 2510.0,444.2 2526.7,444.1 2543.4,444.0 2560.1,444.0 2576.8,444.0 2593.5,444.0 2610.2,444.0 2626.9,444.0 2643.6,443.9 2660.3,443.9 2677.0,443.9 2693.7,443.9 2710.4,443.9 2727.1,443.9 2743.8,443.9 2760.5,443.9 2777.2,443.9 2793.9,443.9 2810.6,443.9 2827.3,443.9 2844.0,443.9 2860.7,443.9 2877.4,443.9 2894.1,443.9 2910.8,443.9 2927.5,443.9 2944.2,443.9 2960.9,443.9"/>
<polyline class="b" points="2109.2,772.6 2125.9,760.1 2142.6,743.8 2159.3,723.1 2176.0,698.0 2192.7,668.9 2209.4,637.3 2226.1,604.9 2242.8,573.8 2259.5,545.8 2276.2,521.8 2292.9,502.4 2309.6,487.2 2326.3,475.7 2343.0,467.2 2359.7,461.0 2376.4,456.5 2393.1,453.4 2409.8,451.1 2426.5,449.5 2443.2,448.4 2459.9,447.6 2476.6,447.1 2493.3,446.7 2510.0,446.5 2526.7,446.3 2543.4,446.1 2560.1,446.1 2576.8,446.0 2593.5,445.9 2610.2,445.9 2626.9,445.9 2643.6,445.9 2660.3,445.9 2677.0,445.9 2693.7,445.9 2710.4,445.9 2727.1,445.9 2743.8,445.9 2760.5,445.9 2777.2,445.9 2793.9,445.9 2810.6,445.9 2827.3,445.9 2844.0,445.9 2860.7,445.9 2877.4,445.9 2894.1,445.9 2910.8,445.9 2927.5,445.9 2944.2,445.9 2960.9,445.9"/>
<polyline class="b" points="2109.2,772.2 2125.9,759.3 2142.6,742.6 2159.3,721.6 2176.0,696.5 2192.7,667.8 2209.4,636.8 2226.1,605.4 2242.8,575.4 2259.5,548.5 2276.2,525.5 2292.9,506.8 2309.6,492.2 2326.3,481.0 2343.0,472.7 2359.7,466.6 2376.4,462.3 2393.1,459.1 2409.8,456.9 2426.5,455.3 2443.2,454.2 2459.9,453.4 2476.6,452.8 2493.3,452.4 2510.0,452.1 2526.7,452.0 2543.4,451.8 2560.1,451.7 2576.8,451.7 2593.5,451.6 2610.2,451.6 2626.9,451.6 2643.6,451.5 2660.3,451.5 2677.0,451.5 2693.7,451.5 2710.4,451.5 2727.1,451.5 2743.8,451.5 2760.5,451.5 2777.2,451.5 2793.9,451.5 2810.6,451.5 2827.3,451.5 2844.0,451.5 2860.7,451.5 2877.4,451.5 2894.1,451.5 2910.8,451.5 2927.5,451.5 2944.2,451.5 2960.9,451.5"/>
<polyline class="o" points="2109.2,771.5 2125.9,771.8 2142.6,772.3 2159.3,772.9 2176.0,773.7 2192.7,774.6 2209.4,775.7 2226.1,776.8 2242.8,777.9 2259.5,778.9 2276.2,779.7 2292.9,780.4 2309.6,780.8 2326.3,781.2 2343.0,781.4 2359.7,781.6 2376.4,781.7 2393.1,781.8 2409.8,781.8 2426.5,781.8 2443.2,781.9 2459.9,781.9 2476.6,781.9 2493.3,781.9 2510.0,781.9 2526.7,781.9 2543.4,781.9 2560.1,781.9 2576.8,781.9 2593.5,781.9 2610.2,781.9 2626.9,781.9 2643.6,781.9 2660.3,781.9 2677.0,781.9 2693.7,781.9 2710.4,781.9 2727.1,781.9 2743.8,781.9 2760.5,781.9 2777.2,781.9 2793.9,781.9 2810.6,781.9 2827.3,781.9 2844.0,781.9 2860.7,781.9 2877.4,781.9 2894.1,781.9 2910.8,781.9 2927.5,781.9 2944.2,781.9 2960.9,781.9"/>
<polyline class="o" points="2109.2,770.8 2125.9,771.2 2142.6,771.7 2159.3,772.4 2176.0,773.2 2192.7,774.2 2209.4,775.4 2226.1,776.6 2242.8,777.7 2259.5,778.7 2276.2,779.6 2292.9,780.2 2309.6,780.7 2326.3,781.1 2343.0,781.3 2359.7,781.5 2376.4,781.6 2393.1,781.7 2409.8,781.8 2426.5,781.8 2443.2,781.8 2459.9,781.9 2476.6,781.9 2493.3,781.9 2510.0,781.9 2526.7,781.9 2543.4,781.9 2560.1,781.9 2576.8,781.9 2593.5,781.9 2610.2,781.9 2626.9,781.9 2643.6,781.9 2660.3,781.9 2677.0,781.9 2693.7,781.9 2710.4,781.9 2727.1,781.9 2743.8,781.9 2760.5,781.9 2777.2,781.9 2793.9,781.9 2810.6,781.9 2827.3,781.9 2844.0,781.9 2860.7,781.9 2877.4,781.9 2894.1,781.9 2910.8,781.9 2927.5,781.9 2944.2,781.9 2960.9,781.9"/>
<polyline class="o" points="2109.2,770.5 2125.9,770.9 2142.6,771.4 2159.3,772.2 2176.0,773.1 2192.7,774.2 2209.4,775.5 2226.1,776.8 2242.8,778.0 2259.5,779.0 2276.2,779.8 2292.9,780.4 2309.6,780.9 2326.3,781.2 2343.0,781.4 2359.7,781.6 2376.4,781.7 2393.1,781.8 2409.8,781.8 2426.5,781.8 2443.2,781.9 2459.9,781.9 2476.6,781.9 2493.3,781.9 2510.0,781.9 2526.7,781.9 2543.4,781.9 2560.1,781.9 2576.8,781.9 2593.5,781.9 2610.2,781.9 2626.9,781.9 2643.6,781.9 2660.3,781.9 2677.0,781.9 2693.7,781.9 2710.4,781.9 2727.1,781.9 2743.8,781.9 2760.5,781.9 2777.2,781.9 2793.9,781.9 2810.6,781.9 2827.3,781.9 2844.0,781.9 2860.7,781.9 2877.4,781.9 2894.1,781.9 2910.8,781.9 2927.5,781.9 2944.2,781.9 2960.9,781.9"/>
<polyline class="o" points="2109.2,771.9 2125.9,772.2 2142.6,772.7 2159.3,773.3 2176.0,774.1 2192.7,775.1 2209.4,776.1 2226.1,777.3 2242.8,778.3 2259.5,779.2 2276.2,780.0 2292.9,780.6 2309.6,781.0 2326.3,781.3 2343.0,781.5 2359.7,781.6 2376.4,781.7 2393.1,781.8 2409.8,781.8 2426.5,781.8 2443.2,781.9 2459.9,781.9 2476.6,781.9 2493.3,781.9 2510.0,781.9 2526.7,781.9 2543.4,781.9 2560.1,781.9 2576.8,781.9 2593.5,781.9 2610.2,781.9 2626.9,781.9 2643.6,781.9 2660.3,781.9 2677.0,781.9 2693.7,781.9 2710.4,781.9 2727.1,781.9 2743.8,781.9 2760.5,781.9 2777.2,781.9 2793.9,781.9 2810.6,781.9 2827.3,781.9 2844.0,781.9 2860.7,781.9 2877.4,781.9 2894.1,781.9 2910.8,781.9 2927.5,781.9 2944.2,781.9 2960.9,781.9"/>
<polyline class="o" points="2109.2,775.0 2125.9,775.1 2142.6,775.4 2159.3,775.7 2176.0,776.2 2192.7,776.8 2209.4,777.5 2226.1,778.3 2242.8,779.1 2259.5,779.8 2276.2,780.4 2292.9,780.9 2309.6,781.2 2326.3,781.4 2343.0,781.6 2359.7,781.7 2376.4,781.8 2393.1,781.8 2409.8,781.8 2426.5,781.9 2443.2,781.9 2459.9,781.9 2476.6,781.9 2493.3,781.9 2510.0,781.9 2526.7,781.9 2543.4,781.9 2560.1,781.9 2576.8,781.9 2593.5,781.9 2610.2,781.9 2626.9,781.9 2643.6,781.9 2660.3,781.9 2677.0,781.9 2693.7,781.9 2710.4,781.9 2727.1,781.9 2743.8,781.9 2760.5,781.9 2777.2,781.9 2793.9,781.9 2810.6,781.9 2827.3,781.9 2844.0,781.9 2860.7,781.9 2877.4,781.9 2894.1,781.9 2910.8,781.9 2927.5,781.9 2944.2,781.9 2960.9,781.9"/>
<polyline class="o" points="2109.2,773.0 2125.9,773.3 2142.6,773.6 2159.3,774.1 2176.0,774.8 2192.7,775.6 2209.4,776.6 2226.1,777.5 2242.8,778.5 2259.5,779.3 2276.2,780.0 2292.9,780.6 2309.6,781.0 2326.3,781.3 2343.0,781.5 2359.7,781.6 2376.4,781.7 2393.1,781.8 2409.8,781.8 2426.5,781.8 2443.2,781.9 2459.9,781.9 2476.6,781.9 2493.3,781.9 2510.0,781.9 2526.7,781.9 2543.4,781.9 2560.1,781.9 2576.8,781.9 2593.5,781.9 2610.2,781.9 2626.9,781.9 2643.6,781.9 2660.3,781.9 2677.0,781.9 2693.7,781.9 2710.4,781.9 2727.1,781.9 2743.8,781.9 2760.5,781.9 2777.2,781.9 2793.9,781.9 2810.6,781.9 2827.3,781.9 2844.0,781.9 2860.7,781.9 2877.4,781.9 2894.1,781.9 2910.8,781.9 2927.5,781.9 2944.2,781.9 2960.9,781.9"/>
<polyline class="o" points="2109.2,770.3 2125.9,770.7 2142.6,771.3 2159.3,772.0 2176.0,772.8 2192.7,773.8 2209.4,774.8 2226.1,775.9 2242.8,777.0 2259.5,778.0 2276.2,778.8 2292.9,779.6 2309.6,780.1 2326.3,780.6 2343.0,780.9 2359.7,781.2 2376.4,781.4 2393.1,781.5 2409.8,781.6 2426.5,781.7 2443.2,781.8 2459.9,781.8 2476.6,781.8 2493.3,781.9 2510.0,781.9 2526.7,781.9 2543.4,781.9 2560.1,781.9 2576.8,781.9 2593.5,781.9 2610.2,781.9 2626.9,781.9 2643.6,781.9 2660.3,781.9 2677.0,781.9 2693.7,781.9 2710.4,781.9 2727.1,781.9 2743.8,781.9 2760.5,781.9 2777.2,781.9 2793.9,781.9 2810.6,781.9 2827.3,781.9 2844.0,781.9 2860.7,781.9 2877.4,781.9 2894.1,781.9 2910.8,781.9 2927.5,781.9 2944.2,781.9 2960.9,781.9"/>
<polyline class="o" points="2109.2,774.9 2125.9,775.1 2142.6,775.4 2159.3,775.7 2176.0,776.2 2192.7,776.7 2209.4,777.4 2226.1,778.2 2242.8,778.9 2259.5,779.6 2276.2,780.2 2292.9,780.7 2309.6,781.1 2326.3,781.3 2343.0,781.5 2359.7,781.6 2376.4,781.7 2393.1,781.8 2409.8,781.8 2426.5,781.9 2443.2,781.9 2459.9,781.9 2476.6,781.9 2493.3,781.9 2510.0,781.9 2526.7,781.9 2543.4,781.9 2560.1,781.9 2576.8,781.9 2593.5,781.9 2610.2,781.9 2626.9,781.9 2643.6,781.9 2660.3,781.9 2677.0,781.9 2693.7,781.9 2710.4,781.9 2727.1,781.9 2743.8,781.9 2760.5,781.9 2777.2,781.9 2793.9,781.9 2810.6,781.9 2827.3,781.9 2844.0,781.9 2860.7,781.9 2877.4,781.9 2894.1,781.9 2910.8,781.9 2927.5,781.9 2944.2,781.9 2960.9,781.9"/>
<polyline class="o" points="2109.2,772.5 2125.9,772.8 2142.6,773.2 2159.3,773.8 2176.0,774.4 2192.7,775.2 2209.4,776.0 2226.1,776.9 2242.8,777.9 2259.5,778.7 2276.2,779.4 2292.9,780.0 2309.6,780.5 2326.3,780.9 2343.0,781.2 2359.7,781.4 2376.4,781.5 2393.1,781.6 2409.8,781.7 2426.5,781.8 2443.2,781.8 2459.9,781.8 2476.6,781.9 2493.3,781.9 2510.0,781.9 2526.7,781.9 2543.4,781.9 2560.1,781.9 2576.8,781.9 2593.5,781.9 2610.2,781.9 2626.9,781.9 2643.6,781.9 2660.3,781.9 2677.0,781.9 2693.7,781.9 2710.4,781.9 2727.1,781.9 2743.8,781.9 2760.5,781.9 2777.2,781.9 2793.9,781.9 2810.6,781.9 2827.3,781.9 2844.0,781.9 2860.7,781.9 2877.4,781.9 2894.1,781.9 2910.8,781.9 2927.5,781.9 2944.2,781.9 2960.9,781.9"/>
<polyline class="o" points="2109.2,772.1 2125.9,772.4 2142.6,772.9 2159.3,773.4 2176.0,774.1 2192.7,774.9 2209.4,775.8 2226.1,776.8 2242.8,777.7 2259.5,778.6 2276.2,779.3 2292.9,780.0 2309.6,780.5 2326.3,780.9 2343.0,781.1 2359.7,781.4 2376.4,781.5 2393.1,781.6 2409.8,781.7 2426.5,781.8 2443.2,781.8 2459.9,781.8 2476.6,781.9 2493.3,781.9 2510.0,781.9 2526.7,781.9 2543.4,781.9 2560.1,781.9 2576.8,781.9 2593.5,781.9 2610.2,781.9 2626.9,781.9 2643.6,781.9 2660.3,781.9 2677.0,781.9 2693.7,781.9 2710.4,781.9 2727.1,781.9 2743.8,781.9 2760.5,781.9 2777.2,781.9 2793.9,781.9 2810.6,781.9 2827.3,781.9 2844.0,781.9 2860.7,781.9 2877.4,781.9 2894.1,781.9 2910.8,781.9 2927.5,781.9 2944.2,781.9 2960.9,781.9"/>
<polyline class="gr" points="2109.2,781.9 2125.9,777.2 2142.6,771.1 2159.3,763.7 2176.0,755.7 2192.7,748.4 2209.4,743.4 2226.1,741.9 2242.8,744.1 2259.5,749.1 2276.2,755.5 2292.9,761.8 2309.6,767.2 2326.3,771.5 2343.0,774.7 2359.7,777.0 2376.4,778.6 2393.1,779.7 2409.8,780.4 2426.5,780.9 2443.2,781.2 2459.9,781.5 2476.6,781.6 2493.3,781.7 2510.0,781.8 2526.7,781.8 2543.4,781.8 2560.1,781.9 2576.8,781.9 2593.5,781.9 2610.2,781.9 2626.9,781.9 2643.6,781.9 2660.3,781.9 2677.0,781.9 2693.7,781.9 2710.4,781.9 2727.1,781.9 2743.8,781.9 2760.5,781.9 2777.2,781.9 2793.9,781.9 2810.6,781.9 2827.3,781.9 2844.0,781.9 2860.7,781.9 2877.4,781.9 2894.1,781.9 2910.8,781.9 2927.5,781.9 2944.2,781.9 2960.9,781.9"/>
<polyline class="gr" points="2109.2,781.9 2125.9,777.1 2142.6,771.1 2159.3,764.1 2176.0,756.7 2192.7,750.2 2209.4,745.8 2226.1,744.7 2242.8,746.8 2259.5,751.4 2276.2,757.1 2292.9,762.8 2309.6,767.8 2326.3,771.8 2343.0,774.8 2359.7,777.0 2376.4,778.5 2393.1,779.6 2409.8,780.4 2426.5,780.9 2443.2,781.2 2459.9,781.4 2476.6,781.6 2493.3,781.7 2510.0,781.8 2526.7,781.8 2543.4,781.8 2560.1,781.9 2576.8,781.9 2593.5,781.9 2610.2,781.9 2626.9,781.9 2643.6,781.9 2660.3,781.9 2677.0,781.9 2693.7,781.9 2710.4,781.9 2727.1,781.9 2743.8,781.9 2760.5,781.9 2777.2,781.9 2793.9,781.9 2810.6,781.9 2827.3,781.9 2844.0,781.9 2860.7,781.9 2877.4,781.9 2894.1,781.9 2910.8,781.9 2927.5,781.9 2944.2,781.9 2960.9,781.9"/>
<polyline class="gr" points="2109.2,781.9 2125.9,776.8 2142.6,770.3 2159.3,762.8 2176.0,755.1 2192.7,748.5 2209.4,744.8 2226.1,744.6 2242.8,747.8 2259.5,753.2 2276.2,759.3 2292.9,765.0 2309.6,769.7 2326.3,773.4 2343.0,776.1 2359.7,777.9 2376.4,779.2 2393.1,780.1 2409.8,780.7 2426.5,781.1 2443.2,781.4 2459.9,781.6 2476.6,781.7 2493.3,781.8 2510.0,781.8 2526.7,781.8 2543.4,781.9 2560.1,781.9 2576.8,781.9 2593.5,781.9 2610.2,781.9 2626.9,781.9 2643.6,781.9 2660.3,781.9 2677.0,781.9 2693.7,781.9 2710.4,781.9 2727.1,781.9 2743.8,781.9 2760.5,781.9 2777.2,781.9 2793.9,781.9 2810.6,781.9 2827.3,781.9 2844.0,781.9 2860.7,781.9 2877.4,781.9 2894.1,781.9 2910.8,781.9 2927.5,781.9 2944.2,781.9 2960.9,781.9"/>
<polyline class="gr" points="2109.2,781.9 2125.9,777.4 2142.6,771.5 2159.3,764.6 2176.0,757.4 2192.7,751.1 2209.4,747.2 2226.1,746.7 2242.8,749.4 2259.5,754.3 2276.2,760.0 2292.9,765.5 2309.6,770.0 2326.3,773.6 2343.0,776.2 2359.7,778.0 2376.4,779.3 2393.1,780.2 2409.8,780.8 2426.5,781.1 2443.2,781.4 2459.9,781.6 2476.6,781.7 2493.3,781.8 2510.0,781.8 2526.7,781.8 2543.4,781.9 2560.1,781.9 2576.8,781.9 2593.5,781.9 2610.2,781.9 2626.9,781.9 2643.6,781.9 2660.3,781.9 2677.0,781.9 2693.7,781.9 2710.4,781.9 2727.1,781.9 2743.8,781.9 2760.5,781.9 2777.2,781.9 2793.9,781.9 2810.6,781.9 2827.3,781.9 2844.0,781.9 2860.7,781.9 2877.4,781.9 2894.1,781.9 2910.8,781.9 2927.5,781.9 2944.2,781.9 2960.9,781.9"/>
<polyline class="gr" points="2109.2,781.9 2125.9,778.4 2142.6,773.5 2159.3,767.2 2176.0,759.8 2192.7,752.4 2209.4,746.4 2226.1,743.7 2242.8,744.9 2259.5,749.5 2276.2,755.8 2292.9,762.2 2309.6,767.8 2326.3,772.2 2343.0,775.3 2359.7,777.5 2376.4,779.0 2393.1,780.0 2409.8,780.7 2426.5,781.1 2443.2,781.4 2459.9,781.6 2476.6,781.7 2493.3,781.8 2510.0,781.8 2526.7,781.8 2543.4,781.9 2560.1,781.9 2576.8,781.9 2593.5,781.9 2610.2,781.9 2626.9,781.9 2643.6,781.9 2660.3,781.9 2677.0,781.9 2693.7,781.9 2710.4,781.9 2727.1,781.9 2743.8,781.9 2760.5,781.9 2777.2,781.9 2793.9,781.9 2810.6,781.9 2827.3,781.9 2844.0,781.9 2860.7,781.9 2877.4,781.9 2894.1,781.9 2910.8,781.9 2927.5,781.9 2944.2,781.9 2960.9,781.9"/>
<polyline class="gr" points="2109.2,781.9 2125.9,777.8 2142.6,772.5 2159.3,766.1 2176.0,759.1 2192.7,752.6 2209.4,748.1 2226.1,746.7 2242.8,748.6 2259.5,753.0 2276.2,758.6 2292.9,764.2 2309.6,769.0 2326.3,772.8 2343.0,775.6 2359.7,777.6 2376.4,779.0 2393.1,780.0 2409.8,780.6 2426.5,781.0 2443.2,781.3 2459.9,781.5 2476.6,781.7 2493.3,781.7 2510.0,781.8 2526.7,781.8 2543.4,781.9 2560.1,781.9 2576.8,781.9 2593.5,781.9 2610.2,781.9 2626.9,781.9 2643.6,781.9 2660.3,781.9 2677.0,781.9 2693.7,781.9 2710.4,781.9 2727.1,781.9 2743.8,781.9 2760.5,781.9 2777.2,781.9 2793.9,781.9 2810.6,781.9 2827.3,781.9 2844.0,781.9 2860.7,781.9 2877.4,781.9 2894.1,781.9 2910.8,781.9 2927.5,781.9 2944.2,781.9 2960.9,781.9"/>
<polyline class="gr" points="2109.2,781.9 2125.9,778.0 2142.6,773.4 2159.3,768.4 2176.0,763.4 2192.7,759.0 2209.4,756.0 2226.1,754.7 2242.8,755.3 2259.5,757.5 2276.2,760.7 2292.9,764.3 2309.6,767.8 2326.3,771.0 2343.0,773.6 2359.7,775.7 2376.4,777.4 2393.1,778.6 2409.8,779.5 2426.5,780.2 2443.2,780.7 2459.9,781.0 2476.6,781.3 2493.3,781.4 2510.0,781.6 2526.7,781.7 2543.4,781.7 2560.1,781.8 2576.8,781.8 2593.5,781.8 2610.2,781.9 2626.9,781.9 2643.6,781.9 2660.3,781.9 2677.0,781.9 2693.7,781.9 2710.4,781.9 2727.1,781.9 2743.8,781.9 2760.5,781.9 2777.2,781.9 2793.9,781.9 2810.6,781.9 2827.3,781.9 2844.0,781.9 2860.7,781.9 2877.4,781.9 2894.1,781.9 2910.8,781.9 2927.5,781.9 2944.2,781.9 2960.9,781.9"/>
<polyline class="gr" points="2109.2,781.9 2125.9,778.6 2142.6,774.2 2159.3,768.7 2176.0,762.4 2192.7,756.1 2209.4,751.0 2226.1,748.5 2242.8,749.1 2259.5,752.4 2276.2,757.5 2292.9,762.9 2309.6,767.8 2326.3,771.9 2343.0,774.9 2359.7,777.1 2376.4,778.7 2393.1,779.7 2409.8,780.5 2426.5,780.9 2443.2,781.3 2459.9,781.5 2476.6,781.6 2493.3,781.7 2510.0,781.8 2526.7,781.8 2543.4,781.8 2560.1,781.9 2576.8,781.9 2593.5,781.9 2610.2,781.9 2626.9,781.9 2643.6,781.9 2660.3,781.9 2677.0,781.9 2693.7,781.9 2710.4,781.9 2727.1,781.9 2743.8,781.9 2760.5,781.9 2777.2,781.9 2793.9,781.9 2810.6,781.9 2827.3,781.9 2844.0,781.9 2860.7,781.9 2877.4,781.9 2894.1,781.9 2910.8,781.9 2927.5,781.9 2944.2,781.9 2960.9,781.9"/>
<polyline class="gr" points="2109.2,781.9 2125.9,778.4 2142.6,774.0 2159.3,769.1 2176.0,763.9 2192.7,759.2 2209.4,755.6 2226.1,753.9 2242.8,754.4 2259.5,756.7 2276.2,760.1 2292.9,764.1 2309.6,767.9 2326.3,771.3 2343.0,774.0 2359.7,776.2 2376.4,777.8 2393.1,779.0 2409.8,779.8 2426.5,780.4 2443.2,780.9 2459.9,781.2 2476.6,781.4 2493.3,781.5 2510.0,781.7 2526.7,781.7 2543.4,781.8 2560.1,781.8 2576.8,781.8 2593.5,781.9 2610.2,781.9 2626.9,781.9 2643.6,781.9 2660.3,781.9 2677.0,781.9 2693.7,781.9 2710.4,781.9 2727.1,781.9 2743.8,781.9 2760.5,781.9 2777.2,781.9 2793.9,781.9 2810.6,781.9 2827.3,781.9 2844.0,781.9 2860.7,781.9 2877.4,781.9 2894.1,781.9 2910.8,781.9 2927.5,781.9 2944.2,781.9 2960.9,781.9"/>
<polyline class="gr" points="2109.2,781.9 2125.9,778.3 2142.6,774.0 2159.3,769.2 2176.0,764.2 2192.7,759.7 2209.4,756.5 2226.1,755.1 2242.8,755.6 2259.5,757.8 2276.2,761.2 2292.9,764.9 2309.6,768.5 2326.3,771.7 2343.0,774.3 2359.7,776.3 2376.4,777.9 2393.1,779.0 2409.8,779.8 2426.5,780.4 2443.2,780.9 2459.9,781.2 2476.6,781.4 2493.3,781.5 2510.0,781.6 2526.7,781.7 2543.4,781.8 2560.1,781.8 2576.8,781.8 2593.5,781.9 2610.2,781.9 2626.9,781.9 2643.6,781.9 2660.3,781.9 2677.0,781.9 2693.7,781.9 2710.4,781.9 2727.1,781.9 2743.8,781.9 2760.5,781.9 2777.2,781.9 2793.9,781.9 2810.6,781.9 2827.3,781.9 2844.0,781.9 2860.7,781.9 2877.4,781.9 2894.1,781.9 2910.8,781.9 2927.5,781.9 2944.2,781.9 2960.9,781.9"/>
<polyline class="k" points="2109.2,778.9 2125.9,778.0 2142.6,763.8 2159.3,735.1 2176.0,733.7 2192.7,697.3 2209.4,647.1 2226.1,625.5 2242.8,605.9 2259.5,587.5 2276.2,562.6 2292.9,554.7 2309.6,530.6 2326.3,525.7 2343.0,520.9 2359.7,519.9 2376.4,517.3 2393.1,514.9 2409.8,513.4 2426.5,513.0 2443.2,512.4 2459.9,511.8 2476.6,511.5 2493.3,511.4 2510.0,511.3 2526.7,511.3 2543.4,511.3 2560.1,511.3 2576.8,511.2 2593.5,511.2 2610.2,511.2 2626.9,511.2 2643.6,511.2 2660.3,511.2 2677.0,511.2 2693.7,511.2 2710.4,511.2 2727.1,511.2 2743.8,511.2 2760.5,511.2 2777.2,511.2 2793.9,511.2 2810.6,511.2 2827.3,511.2 2844.0,511.2 2860.7,511.2 2877.4,511.2 2894.1,511.2 2910.8,511.2 2927.5,511.2 2944.2,511.2 2960.9,511.2"/>
</g>
<g id="p3">
<rect x="153.0" y="881.0" width="937.0" height="678.0" fill="#eeeeee"/>
<path class="g" d="M196 881.0V1559.0M363 881.0V1559.0M530 881.0V1559.0M697 881.0V1559.0M864 881.0V1559.0M1031 881.0V1559.0M153.0 1528H1090.0M153.0 1375H1090.0M153.0 1222H1090.0M153.0 1069H1090.0M153.0 916H1090.0"/>
<text class="ti" x="621.5" y="865.2" text-anchor="middle">product=P3</text>
<text class="tk" x="143.7" y="1542.5" text-anchor="end">0</text>
<text class="tk" x="143.7" y="1389.8" text-anchor="end">20000</text>
<text class="tk" x="143.7" y="1237.0" text-anchor="end">40000</text>
<text class="tk" x="143.7" y="1084.2" text-anchor="end">60000</text>
<text class="tk" x="143.7" y="931.5" text-anchor="end">80000</text>
<polygon class="hd" points="195.8,1511.9 212.5,1492.0 229.2,1462.2 245.9,1422.5 262.6,1374.4 279.3,1321.7 296.0,1266.7 312.7,1214.8 329.4,1175.6 346.1,1144.1 362.8,1124.5 379.5,1109.7 396.2,1101.8 412.9,1095.9 429.6,1092.0 446.3,1089.4 463.0,1088.1 479.7,1087.3 496.4,1086.8 513.1,1086.6 529.8,1086.5 546.5,1086.6 563.2,1086.7 579.9,1086.8 596.6,1086.8 613.3,1086.8 630.0,1086.9 646.7,1086.9 663.4,1086.9 680.1,1086.9 696.8,1086.9 713.5,1086.9 730.2,1086.9 746.9,1086.9 763.6,1086.9 780.3,1086.9 797.0,1086.9 813.7,1086.9 830.4,1086.9 847.1,1086.9 863.8,1086.9 880.5,1086.9 897.2,1086.9 913.9,1086.9 930.6,1086.9 947.3,1086.9 964.0,1086.9 980.7,1086.9 997.4,1086.9 1014.1,1086.9 1030.8,1086.9 1047.5,1086.9 1047.5,1217.9 1030.8,1217.9 1014.1,1217.9 997.4,1217.9 980.7,1217.9 964.0,1217.9 947.3,1217.9 930.6,1217.9 913.9,1217.9 897.2,1217.9 880.5,1217.9 863.8,1217.9 847.1,1217.9 830.4,1217.9 813.7,1217.9 797.0,1217.9 780.3,1217.9 763.6,1217.9 746.9,1217.9 730.2,1217.9 713.5,1217.9 696.8,1217.9 680.1,1217.9 663.4,1217.9 646.7,1217.9 630.0,1217.9 613.3,1217.9 596.6,1218.0 579.9,1218.0 563.2,1218.1 546.5,1218.2 529.8,1218.4 513.1,1218.7 496.4,1219.2 479.7,1219.9 463.0,1220.9 446.3,1222.4 429.6,1224.4 412.9,1227.4 396.2,1231.9 379.5,1239.2 362.8,1251.0 346.1,1267.7 329.4,1294.3 312.7,1324.7 296.0,1366.1 279.3,1401.5 262.6,1438.8 245.9,1469.4 229.2,1494.0 212.5,1510.7 195.8,1521.5"/>
<polyline class="b" points="195.8,1512.5 212.5,1490.4 229.2,1460.3 245.9,1421.6 262.6,1375.4 279.3,1324.9 296.0,1274.9 312.7,1230.0 329.4,1193.0 346.1,1164.6 362.8,1144.0 379.5,1129.7 396.2,1120.0 412.9,1113.6 429.6,1109.4 446.3,1106.7 463.0,1104.9 479.7,1103.8 496.4,1103.0 513.1,1102.6 529.8,1102.3 546.5,1102.1 563.2,1101.9 579.9,1101.9 596.6,1101.8 613.3,1101.8 630.0,1101.8 646.7,1101.8 663.4,1101.7 680.1,1101.7 696.8,1101.7 713.5,1101.7 730.2,1101.7 746.9,1101.7 763.6,1101.7 780.3,1101.7 797.0,1101.7 813.7,1101.7 830.4,1101.7 847.1,1101.7 863.8,1101.7 880.5,1101.7 897.2,1101.7 913.9,1101.7 930.6,1101.7 947.3,1101.7 964.0,1101.7 980.7,1101.7 997.4,1101.7 1014.1,1101.7 1030.8,1101.7 1047.5,1101.7"/>
<polyline class="b" points="195.8,1516.1 212.5,1498.4 229.2,1472.8 245.9,1437.8 262.6,1393.6 279.3,1342.7 296.0,1290.2 312.7,1241.9 329.4,1201.7 346.1,1171.1 362.8,1149.3 379.5,1134.5 396.2,1124.8 412.9,1118.5 429.6,1114.6 446.3,1112.1 463.0,1110.5 479.7,1109.6 496.4,1109.0 513.1,1108.6 529.8,1108.4 546.5,1108.2 563.2,1108.1 579.9,1108.1 596.6,1108.0 613.3,1108.0 630.0,1108.0 646.7,1108.0 663.4,1108.0 680.1,1108.0 696.8,1108.0 713.5,1108.0 730.2,1108.0 746.9,1108.0 763.6,1108.0 780.3,1108.0 797.0,1108.0 813.7,1108.0 830.4,1108.0 847.1,1108.0 863.8,1108.0 880.5,1108.0 897.2,1108.0 913.9,1108.0 930.6,1108.0 947.3,1108.0 964.0,1108.0 980.7,1108.0 997.4,1108.0 1014.1,1108.0 1030.8,1108.0 1047.5,1108.0"/>
<polyline class="b" points="195.8,1516.5 212.5,1499.9 229.2,1476.5 245.9,1445.0 262.6,1405.4 279.3,1359.3 296.0,1310.7 312.7,1264.1 329.4,1223.4 346.1,1190.8 362.8,1166.4 379.5,1149.0 396.2,1137.0 412.9,1128.9 429.6,1123.6 446.3,1120.2 463.0,1117.9 479.7,1116.5 496.4,1115.6 513.1,1115.0 529.8,1114.6 546.5,1114.4 563.2,1114.2 579.9,1114.1 596.6,1114.1 613.3,1114.0 630.0,1114.0 646.7,1114.0 663.4,1114.0 680.1,1114.0 696.8,1114.0 713.5,1114.0 730.2,1114.0 746.9,1113.9 763.6,1113.9 780.3,1113.9 797.0,1113.9 813.7,1113.9 830.4,1113.9 847.1,1113.9 863.8,1113.9 880.5,1113.9 897.2,1113.9 913.9,1113.9 930.6,1113.9 947.3,1113.9 964.0,1113.9 980.7,1113.9 997.4,1113.9 1014.1,1113.9 1030.8,1113.9 1047.5,1113.9"/>
<polyline class="b" points="195.8,1516.4 212.5,1499.9 229.2,1477.2 245.9,1447.1 262.6,1409.6 279.3,1366.2 296.0,1320.0 312.7,1275.0 329.4,1234.9 346.1,1201.8 362.8,1176.2 379.5,1157.4 396.2,1144.1 412.9,1134.9 429.6,1128.6 446.3,1124.5 463.0,1121.7 479.7,1119.9 496.4,1118.7 513.1,1117.9 529.8,1117.4 546.5,1117.1 563.2,1116.9 579.9,1116.7 596.6,1116.6 613.3,1116.6 630.0,1116.5 646.7,1116.5 663.4,1116.5 680.1,1116.5 696.8,1116.5 713.5,1116.5 730.2,1116.5 746.9,1116.5 763.6,1116.5 780.3,1116.5 797.0,1116.5 813.7,1116.5 830.4,1116.5 847.1,1116.5 863.8,1116.5 880.5,1116.5 897.2,1116.5 913.9,1116.5 930.6,1116.5 947.3,1116.5 964.0,1116.5 980.7,1116.5 997.4,1116.5 1014.1,1116.5 1030.8,1116.5 1047.5,1116.5"/>
<polyline class="b" points="195.8,1513.8 212.5,1494.5 229.2,1468.8 245.9,1436.5 262.6,1398.2 279.3,1356.0 296.0,1313.1 312.7,1273.0 329.4,1238.2 346.1,1210.0 362.8,1188.3 379.5,1172.3 396.2,1160.9 412.9,1152.9 429.6,1147.5 446.3,1143.7 463.0,1141.2 479.7,1139.6 496.4,1138.4 513.1,1137.7 529.8,1137.2 546.5,1136.8 563.2,1136.6 579.9,1136.5 596.6,1136.4 613.3,1136.3 630.0,1136.3 646.7,1136.2 663.4,1136.2 680.1,1136.2 696.8,1136.2 713.5,1136.2 730.2,1136.2 746.9,1136.2 763.6,1136.2 780.3,1136.2 797.0,1136.2 813.7,1136.2 830.4,1136.2 847.1,1136.2 863.8,1136.2 880.5,1136.2 897.2,1136.2 913.9,1136.2 930.6,1136.2 947.3,1136.2 964.0,1136.2 980.7,1136.2 997.4,1136.2 1014.1,1136.2 1030.8,1136.2 1047.5,1136.2"/>
<polyline class="b" points="195.8,1515.1 212.5,1497.7 229.2,1474.7 245.9,1445.7 262.6,1411.3 279.3,1373.0 296.0,1333.4 312.7,1295.7 329.4,1262.1 346.1,1234.3 362.8,1212.4 379.5,1195.9 396.2,1183.9 412.9,1175.3 429.6,1169.3 446.3,1165.2 463.0,1162.4 479.7,1160.4 496.4,1159.1 513.1,1158.2 529.8,1157.6 546.5,1157.2 563.2,1157.0 579.9,1156.8 596.6,1156.7 613.3,1156.6 630.0,1156.5 646.7,1156.5 663.4,1156.5 680.1,1156.4 696.8,1156.4 713.5,1156.4 730.2,1156.4 746.9,1156.4 763.6,1156.4 780.3,1156.4 797.0,1156.4 813.7,1156.4 830.4,1156.4 847.1,1156.4 863.8,1156.4 880.5,1156.4 897.2,1156.4 913.9,1156.4 930.6,1156.4 947.3,1156.4 964.0,1156.4 980.7,1156.4 997.4,1156.4 1014.1,1156.4 1030.8,1156.4 1047.5,1156.4"/>
<polyline class="b" points="195.8,1517.3 212.5,1502.4 229.2,1482.0 245.9,1455.4 262.6,1422.5 279.3,1384.7 296.0,1344.6 312.7,1305.5 329.4,1270.4 346.1,1241.2 362.8,1218.4 379.5,1201.4 396.2,1189.2 412.9,1180.7 429.6,1174.9 446.3,1170.9 463.0,1168.3 479.7,1166.5 496.4,1165.3 513.1,1164.6 529.8,1164.1 546.5,1163.7 563.2,1163.5 579.9,1163.3 596.6,1163.2 613.3,1163.2 630.0,1163.1 646.7,1163.1 663.4,1163.1 680.1,1163.1 696.8,1163.1 713.5,1163.1 730.2,1163.1 746.9,1163.1 763.6,1163.1 780.3,1163.1 797.0,1163.1 813.7,1163.1 830.4,1163.1 847.1,1163.1 863.8,1163.1 880.5,1163.1 897.2,1163.1 913.9,1163.1 930.6,1163.1 947.3,1163.1 964.0,1163.1 980.7,1163.1 997.4,1163.1 1014.1,1163.1 1030.8,1163.1 1047.5,1163.1"/>
<polyline class="b" points="195.8,1515.2 212.5,1498.2 229.2,1476.1 245.9,1448.7 262.6,1416.4 279.3,1380.6 296.0,1343.8 312.7,1308.4 329.4,1276.7 346.1,1249.9 362.8,1228.5 379.5,1212.1 396.2,1200.0 412.9,1191.2 429.6,1184.9 446.3,1180.5 463.0,1177.4 479.7,1175.3 496.4,1173.8 513.1,1172.8 529.8,1172.1 546.5,1171.6 563.2,1171.3 579.9,1171.1 596.6,1170.9 613.3,1170.8 630.0,1170.8 646.7,1170.7 663.4,1170.7 680.1,1170.7 696.8,1170.7 713.5,1170.6 730.2,1170.6 746.9,1170.6 763.6,1170.6 780.3,1170.6 797.0,1170.6 813.7,1170.6 830.4,1170.6 847.1,1170.6 863.8,1170.6 880.5,1170.6 897.2,1170.6 913.9,1170.6 930.6,1170.6 947.3,1170.6 964.0,1170.6 980.7,1170.6 997.4,1170.6 1014.1,1170.6 1030.8,1170.6 1047.5,1170.6"/>
<polyline class="b" points="195.8,1518.1 212.5,1504.1 229.2,1484.8 245.9,1459.5 262.6,1428.1 279.3,1391.8 296.0,1353.1 312.7,1315.3 329.4,1281.4 346.1,1253.3 362.8,1231.4 379.5,1215.2 396.2,1203.6 412.9,1195.5 429.6,1190.0 446.3,1186.3 463.0,1183.9 479.7,1182.3 496.4,1181.2 513.1,1180.5 529.8,1180.0 546.5,1179.7 563.2,1179.5 579.9,1179.3 596.6,1179.3 613.3,1179.2 630.0,1179.2 646.7,1179.1 663.4,1179.1 680.1,1179.1 696.8,1179.1 713.5,1179.1 730.2,1179.1 746.9,1179.1 763.6,1179.1 780.3,1179.1 797.0,1179.1 813.7,1179.1 830.4,1179.1 847.1,1179.1 863.8,1179.1 880.5,1179.1 897.2,1179.1 913.9,1179.1 930.6,1179.1 947.3,1179.1 964.0,1179.1 980.7,1179.1 997.4,1179.1 1014.1,1179.1 1030.8,1179.1 1047.5,1179.1"/>
<polyline class="b" points="195.8,1519.0 212.5,1506.5 229.2,1489.2 245.9,1466.3 262.6,1437.4 279.3,1403.5 296.0,1366.4 312.7,1329.1 329.4,1294.6 346.1,1265.1 362.8,1241.5 379.5,1223.6 396.2,1210.5 412.9,1201.2 429.6,1194.8 446.3,1190.5 463.0,1187.5 479.7,1185.5 496.4,1184.2 513.1,1183.3 529.8,1182.8 546.5,1182.4 563.2,1182.1 579.9,1181.9 596.6,1181.8 613.3,1181.8 630.0,1181.7 646.7,1181.7 663.4,1181.7 680.1,1181.6 696.8,1181.6 713.5,1181.6 730.2,1181.6 746.9,1181.6 763.6,1181.6 780.3,1181.6 797.0,1181.6 813.7,1181.6 830.4,1181.6 847.1,1181.6 863.8,1181.6 880.5,1181.6 897.2,1181.6 913.9,1181.6 930.6,1181.6 947.3,1181.6 964.0,1181.6 980.7,1181.6 997.4,1181.6 1014.1,1181.6 1030.8,1181.6 1047.5,1181.6"/>
<polyline class="o" points="195.8,1512.3 212.5,1513.0 229.2,1513.9 245.9,1515.2 262.6,1516.8 279.3,1518.6 296.0,1520.5 312.7,1522.3 329.4,1523.8 346.1,1525.1 362.8,1526.0 379.5,1526.6 396.2,1527.1 412.9,1527.4 429.6,1527.5 446.3,1527.7 463.0,1527.8 479.7,1527.8 496.4,1527.8 513.1,1527.9 529.8,1527.9 546.5,1527.9 563.2,1527.9 579.9,1527.9 596.6,1527.9 613.3,1527.9 630.0,1527.9 646.7,1527.9 663.4,1527.9 680.1,1527.9 696.8,1527.9 713.5,1527.9 730.2,1527.9 746.9,1527.9 763.6,1527.9 780.3,1527.9 797.0,1527.9 813.7,1527.9 830.4,1527.9 847.1,1527.9 863.8,1527.9 880.5,1527.9 897.2,1527.9 913.9,1527.9 930.6,1527.9 947.3,1527.9 964.0,1527.9 980.7,1527.9 997.4,1527.9 1014.1,1527.9 1030.8,1527.9 1047.5,1527.9"/>
<polyline class="o" points="195.8,1516.0 212.5,1516.4 229.2,1517.1 245.9,1517.9 262.6,1519.1 279.3,1520.4 296.0,1521.9 312.7,1523.4 329.4,1524.7 346.1,1525.7 362.8,1526.4 379.5,1527.0 396.2,1527.3 412.9,1527.5 429.6,1527.7 446.3,1527.8 463.0,1527.8 479.7,1527.8 496.4,1527.9 513.1,1527.9 529.8,1527.9 546.5,1527.9 563.2,1527.9 579.9,1527.9 596.6,1527.9 613.3,1527.9 630.0,1527.9 646.7,1527.9 663.4,1527.9 680.1,1527.9 696.8,1527.9 713.5,1527.9 730.2,1527.9 746.9,1527.9 763.6,1527.9 780.3,1527.9 797.0,1527.9 813.7,1527.9 830.4,1527.9 847.1,1527.9 863.8,1527.9 880.5,1527.9 897.2,1527.9 913.9,1527.9 930.6,1527.9 947.3,1527.9 964.0,1527.9 980.7,1527.9 997.4,1527.9 1014.1,1527.9 1030.8,1527.9 1047.5,1527.9"/>
<polyline class="o" points="195.8,1516.4 212.5,1516.8 229.2,1517.4 245.9,1518.2 262.6,1519.2 279.3,1520.4 296.0,1521.7 312.7,1523.1 329.4,1524.3 346.1,1525.3 362.8,1526.1 379.5,1526.7 396.2,1527.1 412.9,1527.4 429.6,1527.6 446.3,1527.7 463.0,1527.8 479.7,1527.8 496.4,1527.8 513.1,1527.9 529.8,1527.9 546.5,1527.9 563.2,1527.9 579.9,1527.9 596.6,1527.9 613.3,1527.9 630.0,1527.9 646.7,1527.9 663.4,1527.9 680.1,1527.9 696.8,1527.9 713.5,1527.9 730.2,1527.9 746.9,1527.9 763.6,1527.9 780.3,1527.9 797.0,1527.9 813.7,1527.9 830.4,1527.9 847.1,1527.9 863.8,1527.9 880.5,1527.9 897.2,1527.9 913.9,1527.9 930.6,1527.9 947.3,1527.9 964.0,1527.9 980.7,1527.9 997.4,1527.9 1014.1,1527.9 1030.8,1527.9 1047.5,1527.9"/>
<polyline class="o" points="195.8,1516.3 212.5,1516.7 229.2,1517.2 245.9,1518.0 262.6,1519.0 279.3,1520.1 296.0,1521.4 312.7,1522.7 329.4,1524.0 346.1,1525.0 362.8,1525.9 379.5,1526.5 396.2,1526.9 412.9,1527.3 429.6,1527.5 446.3,1527.6 463.0,1527.7 479.7,1527.8 496.4,1527.8 513.1,1527.8 529.8,1527.9 546.5,1527.9 563.2,1527.9 579.9,1527.9 596.6,1527.9 613.3,1527.9 630.0,1527.9 646.7,1527.9 663.4,1527.9 680.1,1527.9 696.8,1527.9 713.5,1527.9 730.2,1527.9 746.9,1527.9 763.6,1527.9 780.3,1527.9 797.0,1527.9 813.7,1527.9 830.4,1527.9 847.1,1527.9 863.8,1527.9 880.5,1527.9 897.2,1527.9 913.9,1527.9 930.6,1527.9 947.3,1527.9 964.0,1527.9 980.7,1527.9 997.4,1527.9 1014.1,1527.9 1030.8,1527.9 1047.5,1527.9"/>
<polyline class="o" points="195.8,1513.6 212.5,1514.3 229.2,1515.1 245.9,1516.2 262.6,1517.5 279.3,1519.0 296.0,1520.6 312.7,1522.1 329.4,1523.5 346.1,1524.7 362.8,1525.6 379.5,1526.3 396.2,1526.8 412.9,1527.1 429.6,1527.4 446.3,1527.6 463.0,1527.7 479.7,1527.7 496.4,1527.8 513.1,1527.8 529.8,1527.9 546.5,1527.9 563.2,1527.9 579.9,1527.9 596.6,1527.9 613.3,1527.9 630.0,1527.9 646.7,1527.9 663.4,1527.9 680.1,1527.9 696.8,1527.9 713.5,1527.9 730.2,1527.9 746.9,1527.9 763.6,1527.9 780.3,1527.9 797.0,1527.9 813.7,1527.9 830.4,1527.9 847.1,1527.9 863.8,1527.9 880.5,1527.9 897.2,1527.9 913.9,1527.9 930.6,1527.9 947.3,1527.9 964.0,1527.9 980.7,1527.9 997.4,1527.9 1014.1,1527.9 1030.8,1527.9 1047.5,1527.9"/>
<polyline class="o" points="195.8,1515.0 212.5,1515.5 229.2,1516.2 245.9,1517.1 262.6,1518.2 279.3,1519.5 296.0,1520.9 312.7,1522.3 329.4,1523.6 346.1,1524.7 362.8,1525.6 379.5,1526.2 396.2,1526.7 412.9,1527.1 429.6,1527.3 446.3,1527.5 463.0,1527.6 479.7,1527.7 496.4,1527.8 513.1,1527.8 529.8,1527.8 546.5,1527.9 563.2,1527.9 579.9,1527.9 596.6,1527.9 613.3,1527.9 630.0,1527.9 646.7,1527.9 663.4,1527.9 680.1,1527.9 696.8,1527.9 713.5,1527.9 730.2,1527.9 746.9,1527.9 763.6,1527.9 780.3,1527.9 797.0,1527.9 813.7,1527.9 830.4,1527.9 847.1,1527.9 863.8,1527.9 880.5,1527.9 897.2,1527.9 913.9,1527.9 930.6,1527.9 947.3,1527.9 964.0,1527.9 980.7,1527.9 997.4,1527.9 1014.1,1527.9 1030.8,1527.9 1047.5,1527.9"/>
<polyline class="o" points="195.8,1517.2 212.5,1517.6 229.2,1518.1 245.9,1518.8 262.6,1519.7 279.3,1520.8 296.0,1521.9 312.7,1523.1 329.4,1524.2 346.1,1525.2 362.8,1525.9 379.5,1526.5 396.2,1527.0 412.9,1527.3 429.6,1527.5 446.3,1527.6 463.0,1527.7 479.7,1527.8 496.4,1527.8 513.1,1527.8 529.8,1527.9 546.5,1527.9 563.2,1527.9 579.9,1527.9 596.6,1527.9 613.3,1527.9 630.0,1527.9 646.7,1527.9 663.4,1527.9 680.1,1527.9 696.8,1527.9 713.5,1527.9 730.2,1527.9 746.9,1527.9 763.6,1527.9 780.3,1527.9 797.0,1527.9 813.7,1527.9 830.4,1527.9 847.1,1527.9 863.8,1527.9 880.5,1527.9 897.2,1527.9 913.9,1527.9 930.6,1527.9 947.3,1527.9 964.0,1527.9 980.7,1527.9 997.4,1527.9 1014.1,1527.9 1030.8,1527.9 1047.5,1527.9"/>
<polyline class="o" points="195.8,1515.0 212.5,1515.6 229.2,1516.3 245.9,1517.2 262.6,1518.3 279.3,1519.6 296.0,1520.9 312.7,1522.2 329.4,1523.5 346.1,1524.5 362.8,1525.4 379.5,1526.1 396.2,1526.6 412.9,1527.0 429.6,1527.3 446.3,1527.5 463.0,1527.6 479.7,1527.7 496.4,1527.8 513.1,1527.8 529.8,1527.8 546.5,1527.9 563.2,1527.9 579.9,1527.9 596.6,1527.9 613.3,1527.9 630.0,1527.9 646.7,1527.9 663.4,1527.9 680.1,1527.9 696.8,1527.9 713.5,1527.9 730.2,1527.9 746.9,1527.9 763.6,1527.9 780.3,1527.9 797.0,1527.9 813.7,1527.9 830.4,1527.9 847.1,1527.9 863.8,1527.9 880.5,1527.9 897.2,1527.9 913.9,1527.9 930.6,1527.9 947.3,1527.9 964.0,1527.9 980.7,1527.9 997.4,1527.9 1014.1,1527.9 1030.8,1527.9 1047.5,1527.9"/>
<polyline class="o" points="195.8,1518.0 212.5,1518.3 229.2,1518.8 245.9,1519.4 262.6,1520.2 279.3,1521.2 296.0,1522.3 312.7,1523.4 329.4,1524.5 346.1,1525.4 362.8,1526.1 379.5,1526.6 396.2,1527.0 412.9,1527.3 429.6,1527.5 446.3,1527.6 463.0,1527.7 479.7,1527.8 496.4,1527.8 513.1,1527.9 529.8,1527.9 546.5,1527.9 563.2,1527.9 579.9,1527.9 596.6,1527.9 613.3,1527.9 630.0,1527.9 646.7,1527.9 663.4,1527.9 680.1,1527.9 696.8,1527.9 713.5,1527.9 730.2,1527.9 746.9,1527.9 763.6,1527.9 780.3,1527.9 797.0,1527.9 813.7,1527.9 830.4,1527.9 847.1,1527.9 863.8,1527.9 880.5,1527.9 897.2,1527.9 913.9,1527.9 930.6,1527.9 947.3,1527.9 964.0,1527.9 980.7,1527.9 997.4,1527.9 1014.1,1527.9 1030.8,1527.9 1047.5,1527.9"/>
<polyline class="o" points="195.8,1519.0 212.5,1519.3 229.2,1519.6 245.9,1520.2 262.6,1520.8 279.3,1521.7 296.0,1522.6 312.7,1523.6 329.4,1524.5 346.1,1525.4 362.8,1526.1 379.5,1526.6 396.2,1527.0 412.9,1527.3 429.6,1527.5 446.3,1527.6 463.0,1527.7 479.7,1527.8 496.4,1527.8 513.1,1527.8 529.8,1527.9 546.5,1527.9 563.2,1527.9 579.9,1527.9 596.6,1527.9 613.3,1527.9 630.0,1527.9 646.7,1527.9 663.4,1527.9 680.1,1527.9 696.8,1527.9 713.5,1527.9 730.2,1527.9 746.9,1527.9 763.6,1527.9 780.3,1527.9 797.0,1527.9 813.7,1527.9 830.4,1527.9 847.1,1527.9 863.8,1527.9 880.5,1527.9 897.2,1527.9 913.9,1527.9 930.6,1527.9 947.3,1527.9 964.0,1527.9 980.7,1527.9 997.4,1527.9 1014.1,1527.9 1030.8,1527.9 1047.5,1527.9"/>
<polyline class="gr" points="195.8,1527.9 212.5,1520.5 229.2,1511.3 245.9,1501.2 262.6,1491.8 279.3,1485.7 296.0,1484.3 312.7,1487.7 329.4,1494.3 346.1,1501.9 362.8,1509.0 379.5,1514.7 396.2,1519.0 412.9,1522.0 429.6,1524.0 446.3,1525.4 463.0,1526.3 479.7,1526.8 496.4,1527.2 513.1,1527.5 529.8,1527.6 546.5,1527.7 563.2,1527.8 579.9,1527.8 596.6,1527.9 613.3,1527.9 630.0,1527.9 646.7,1527.9 663.4,1527.9 680.1,1527.9 696.8,1527.9 713.5,1527.9 730.2,1527.9 746.9,1527.9 763.6,1527.9 780.3,1527.9 797.0,1527.9 813.7,1527.9 830.4,1527.9 847.1,1527.9 863.8,1527.9 880.5,1527.9 897.2,1527.9 913.9,1527.9 930.6,1527.9 947.3,1527.9 964.0,1527.9 980.7,1527.9 997.4,1527.9 1014.1,1527.9 1030.8,1527.9 1047.5,1527.9"/>
<polyline class="gr" points="195.8,1527.9 212.5,1521.5 229.2,1512.9 245.9,1502.5 262.6,1491.8 279.3,1483.6 296.0,1480.5 312.7,1483.2 329.4,1490.4 346.1,1499.2 362.8,1507.4 379.5,1513.9 396.2,1518.7 412.9,1522.0 429.6,1524.2 446.3,1525.6 463.0,1526.4 479.7,1527.0 496.4,1527.3 513.1,1527.5 529.8,1527.7 546.5,1527.8 563.2,1527.8 579.9,1527.8 596.6,1527.9 613.3,1527.9 630.0,1527.9 646.7,1527.9 663.4,1527.9 680.1,1527.9 696.8,1527.9 713.5,1527.9 730.2,1527.9 746.9,1527.9 763.6,1527.9 780.3,1527.9 797.0,1527.9 813.7,1527.9 830.4,1527.9 847.1,1527.9 863.8,1527.9 880.5,1527.9 897.2,1527.9 913.9,1527.9 930.6,1527.9 947.3,1527.9 964.0,1527.9 980.7,1527.9 997.4,1527.9 1014.1,1527.9 1030.8,1527.9 1047.5,1527.9"/>
<polyline class="gr" points="195.8,1527.9 212.5,1522.2 229.2,1514.7 245.9,1505.8 262.6,1496.4 279.3,1488.7 296.0,1484.6 312.7,1485.4 329.4,1490.3 346.1,1497.5 362.8,1505.0 379.5,1511.5 396.2,1516.6 412.9,1520.3 429.6,1522.9 446.3,1524.6 463.0,1525.8 479.7,1526.5 496.4,1527.0 513.1,1527.3 529.8,1527.5 546.5,1527.7 563.2,1527.8 579.9,1527.8 596.6,1527.8 613.3,1527.9 630.0,1527.9 646.7,1527.9 663.4,1527.9 680.1,1527.9 696.8,1527.9 713.5,1527.9 730.2,1527.9 746.9,1527.9 763.6,1527.9 780.3,1527.9 797.0,1527.9 813.7,1527.9 830.4,1527.9 847.1,1527.9 863.8,1527.9 880.5,1527.9 897.2,1527.9 913.9,1527.9 930.6,1527.9 947.3,1527.9 964.0,1527.9 980.7,1527.9 997.4,1527.9 1014.1,1527.9 1030.8,1527.9 1047.5,1527.9"/>
<polyline class="gr" points="195.8,1527.9 212.5,1522.5 229.2,1515.6 245.9,1507.3 262.6,1498.8 279.3,1491.6 296.0,1487.4 312.7,1487.4 329.4,1491.1 346.1,1497.2 362.8,1504.1 379.5,1510.3 396.2,1515.4 412.9,1519.3 429.6,1522.1 446.3,1524.0 463.0,1525.3 479.7,1526.2 496.4,1526.8 513.1,1527.2 529.8,1527.4 546.5,1527.6 563.2,1527.7 579.9,1527.8 596.6,1527.8 613.3,1527.8 630.0,1527.9 646.7,1527.9 663.4,1527.9 680.1,1527.9 696.8,1527.9 713.5,1527.9 730.2,1527.9 746.9,1527.9 763.6,1527.9 780.3,1527.9 797.0,1527.9 813.7,1527.9 830.4,1527.9 847.1,1527.9 863.8,1527.9 880.5,1527.9 897.2,1527.9 913.9,1527.9 930.6,1527.9 947.3,1527.9 964.0,1527.9 980.7,1527.9 997.4,1527.9 1014.1,1527.9 1030.8,1527.9 1047.5,1527.9"/>
<polyline class="gr" points="195.8,1527.9 212.5,1521.9 229.2,1514.7 245.9,1506.7 262.6,1499.3 279.3,1493.8 296.0,1491.5 312.7,1492.8 329.4,1496.8 346.1,1502.4 362.8,1508.2 379.5,1513.3 396.2,1517.5 412.9,1520.6 429.6,1522.9 446.3,1524.5 463.0,1525.6 479.7,1526.4 496.4,1526.9 513.1,1527.2 529.8,1527.4 546.5,1527.6 563.2,1527.7 579.9,1527.8 596.6,1527.8 613.3,1527.8 630.0,1527.9 646.7,1527.9 663.4,1527.9 680.1,1527.9 696.8,1527.9 713.5,1527.9 730.2,1527.9 746.9,1527.9 763.6,1527.9 780.3,1527.9 797.0,1527.9 813.7,1527.9 830.4,1527.9 847.1,1527.9 863.8,1527.9 880.5,1527.9 897.2,1527.9 913.9,1527.9 930.6,1527.9 947.3,1527.9 964.0,1527.9 980.7,1527.9 997.4,1527.9 1014.1,1527.9 1030.8,1527.9 1047.5,1527.9"/>
<polyline class="gr" points="195.8,1527.9 212.5,1522.6 229.2,1516.3 245.9,1509.2 262.6,1502.5 279.3,1497.2 296.0,1494.6 312.7,1495.0 329.4,1498.1 346.1,1502.8 362.8,1508.0 379.5,1512.8 396.2,1516.9 412.9,1520.1 429.6,1522.4 446.3,1524.1 463.0,1525.3 479.7,1526.1 496.4,1526.7 513.1,1527.1 529.8,1527.3 546.5,1527.5 563.2,1527.6 579.9,1527.7 596.6,1527.8 613.3,1527.8 630.0,1527.8 646.7,1527.9 663.4,1527.9 680.1,1527.9 696.8,1527.9 713.5,1527.9 730.2,1527.9 746.9,1527.9 763.6,1527.9 780.3,1527.9 797.0,1527.9 813.7,1527.9 830.4,1527.9 847.1,1527.9 863.8,1527.9 880.5,1527.9 897.2,1527.9 913.9,1527.9 930.6,1527.9 947.3,1527.9 964.0,1527.9 980.7,1527.9 997.4,1527.9 1014.1,1527.9 1030.8,1527.9 1047.5,1527.9"/>
<polyline class="gr" points="195.8,1527.9 212.5,1523.1 229.2,1517.1 245.9,1510.0 262.6,1502.7 279.3,1496.6 296.0,1493.1 312.7,1492.9 329.4,1496.0 346.1,1501.0 362.8,1506.8 379.5,1512.1 396.2,1516.5 412.9,1520.0 429.6,1522.5 446.3,1524.2 463.0,1525.4 479.7,1526.2 496.4,1526.8 513.1,1527.2 529.8,1527.4 546.5,1527.6 563.2,1527.7 579.9,1527.8 596.6,1527.8 613.3,1527.8 630.0,1527.9 646.7,1527.9 663.4,1527.9 680.1,1527.9 696.8,1527.9 713.5,1527.9 730.2,1527.9 746.9,1527.9 763.6,1527.9 780.3,1527.9 797.0,1527.9 813.7,1527.9 830.4,1527.9 847.1,1527.9 863.8,1527.9 880.5,1527.9 897.2,1527.9 913.9,1527.9 930.6,1527.9 947.3,1527.9 964.0,1527.9 980.7,1527.9 997.4,1527.9 1014.1,1527.9 1030.8,1527.9 1047.5,1527.9"/>
<polyline class="gr" points="195.8,1527.9 212.5,1522.9 229.2,1517.1 245.9,1510.7 262.6,1504.6 279.3,1499.8 296.0,1497.3 312.7,1497.5 329.4,1500.0 346.1,1504.1 362.8,1508.7 379.5,1513.1 396.2,1516.8 412.9,1519.9 429.6,1522.2 446.3,1523.9 463.0,1525.1 479.7,1526.0 496.4,1526.6 513.1,1527.0 529.8,1527.3 546.5,1527.5 563.2,1527.6 579.9,1527.7 596.6,1527.8 613.3,1527.8 630.0,1527.8 646.7,1527.9 663.4,1527.9 680.1,1527.9 696.8,1527.9 713.5,1527.9 730.2,1527.9 746.9,1527.9 763.6,1527.9 780.3,1527.9 797.0,1527.9 813.7,1527.9 830.4,1527.9 847.1,1527.9 863.8,1527.9 880.5,1527.9 897.2,1527.9 913.9,1527.9 930.6,1527.9 947.3,1527.9 964.0,1527.9 980.7,1527.9 997.4,1527.9 1014.1,1527.9 1030.8,1527.9 1047.5,1527.9"/>
<polyline class="gr" points="195.8,1527.9 212.5,1523.4 229.2,1517.6 245.9,1510.7 262.6,1503.7 279.3,1497.7 296.0,1494.1 312.7,1494.0 329.4,1496.9 346.1,1501.9 362.8,1507.5 379.5,1512.8 396.2,1517.1 412.9,1520.4 429.6,1522.8 446.3,1524.4 463.0,1525.6 479.7,1526.4 496.4,1526.9 513.1,1527.2 529.8,1527.5 546.5,1527.6 563.2,1527.7 579.9,1527.8 596.6,1527.8 613.3,1527.8 630.0,1527.9 646.7,1527.9 663.4,1527.9 680.1,1527.9 696.8,1527.9 713.5,1527.9 730.2,1527.9 746.9,1527.9 763.6,1527.9 780.3,1527.9 797.0,1527.9 813.7,1527.9 830.4,1527.9 847.1,1527.9 863.8,1527.9 880.5,1527.9 897.2,1527.9 913.9,1527.9 930.6,1527.9 947.3,1527.9 964.0,1527.9 980.7,1527.9 997.4,1527.9 1014.1,1527.9 1030.8,1527.9 1047.5,1527.9"/>
<polyline class="gr" points="195.8,1527.9 212.5,1523.9 229.2,1518.7 245.9,1512.5 262.6,1505.8 279.3,1499.7 296.0,1495.6 312.7,1494.4 329.4,1496.3 346.1,1500.6 362.8,1505.8 379.5,1511.1 396.2,1515.6 412.9,1519.2 429.6,1521.9 446.3,1523.8 463.0,1525.1 479.7,1526.0 496.4,1526.7 513.1,1527.1 529.8,1527.4 546.5,1527.5 563.2,1527.7 579.9,1527.7 596.6,1527.8 613.3,1527.8 630.0,1527.9 646.7,1527.9 663.4,1527.9 680.1,1527.9 696.8,1527.9 713.5,1527.9 730.2,1527.9 746.9,1527.9 763.6,1527.9 780.3,1527.9 797.0,1527.9 813.7,1527.9 830.4,1527.9 847.1,1527.9 863.8,1527.9 880.5,1527.9 897.2,1527.9 913.9,1527.9 930.6,1527.9 947.3,1527.9 964.0,1527.9 980.7,1527.9 997.4,1527.9 1014.1,1527.9 1030.8,1527.9 1047.5,1527.9"/>
<polyline class="k" points="195.8,1516.6 212.5,1495.9 229.2,1478.6 245.9,1449.7 262.6,1437.9 279.3,1437.5 296.0,1416.2 312.7,1388.7 329.4,1370.6 346.1,1305.5 362.8,1294.3 379.5,1282.4 396.2,1279.1 412.9,1261.2 429.6,1259.4 446.3,1257.9 463.0,1256.7 479.7,1255.9 496.4,1255.3 513.1,1254.9 529.8,1254.7 546.5,1254.6 563.2,1254.5 579.9,1254.5 596.6,1254.4 613.3,1254.4 630.0,1254.4 646.7,1254.4 663.4,1254.4 680.1,1254.4 696.8,1254.4 713.5,1254.4 730.2,1254.4 746.9,1254.4 763.6,1254.4 780.3,1254.4 797.0,1254.4 813.7,1254.4 830.4,1254.4 847.1,1254.4 863.8,1254.4 880.5,1254.4 897.2,1254.4 913.9,1254.4 930.6,1254.4 947.3,1254.4 964.0,1254.4 980.7,1254.4 997.4,1254.4 1014.1,1254.4 1030.8,1254.4 1047.5,1254.4"/>
</g>
<g id="p4">
<rect x="1110.0" y="881.0" width="937.0" height="678.0" fill="#eeeeee"/>
<path class="g" d="M1153 881.0V1559.0M1320 881.0V1559.0M1487 881.0V1559.0M1654 881.0V1559.0M1821 881.0V1559.0M1988 881.0V1559.0M1110.0 1528H2047.0M1110.0 1375H2047.0M1110.0 1222H2047.0M1110.0 1069H2047.0M1110.0 916H2047.0"/>
<text class="ti" x="1578.5" y="865.2" text-anchor="middle">product=P4</text>
<polygon class="hd" points="1152.8,1511.7 1169.5,1494.0 1186.2,1468.4 1202.9,1435.0 1219.6,1395.6 1236.3,1354.3 1253.0,1309.0 1269.7,1265.8 1286.4,1220.4 1303.1,1183.4 1319.8,1153.0 1336.5,1128.4 1353.2,1109.7 1369.9,1092.6 1386.6,1082.7 1403.3,1074.3 1420.0,1070.9 1436.7,1065.4 1453.4,1062.9 1470.1,1061.1 1486.8,1060.1 1503.5,1060.1 1520.2,1060.1 1536.9,1060.1 1553.6,1060.1 1570.3,1060.1 1587.0,1060.1 1603.7,1060.1 1620.4,1060.1 1637.1,1060.1 1653.8,1060.1 1670.5,1060.1 1687.2,1060.1 1703.9,1060.1 1720.6,1060.1 1737.3,1060.1 1754.0,1060.1 1770.7,1060.1 1787.4,1060.1 1804.1,1060.1 1820.8,1060.1 1837.5,1060.1 1854.2,1060.1 1870.9,1060.1 1887.6,1060.1 1904.3,1060.1 1921.0,1060.1 1937.7,1060.1 1954.4,1060.1 1971.1,1060.1 1987.8,1060.1 2004.5,1060.1 2004.5,1188.0 1987.8,1188.0 1971.1,1188.0 1954.4,1188.0 1937.7,1188.0 1921.0,1188.0 1904.3,1188.0 1887.6,1188.0 1870.9,1188.0 1854.2,1188.0 1837.5,1188.0 1820.8,1188.0 1804.1,1188.0 1787.4,1188.0 1770.7,1188.0 1754.0,1188.0 1737.3,1188.0 1720.6,1188.0 1703.9,1188.0 1687.2,1188.0 1670.5,1188.0 1653.8,1188.0 1637.1,1187.9 1620.4,1187.9 1603.7,1187.8 1587.0,1187.6 1570.3,1187.4 1553.6,1187.0 1536.9,1186.2 1520.2,1185.1 1503.5,1185.7 1486.8,1186.4 1470.1,1188.4 1453.4,1190.3 1436.7,1193.3 1420.0,1198.2 1403.3,1203.2 1386.6,1211.0 1369.9,1221.0 1353.2,1233.3 1336.5,1250.0 1319.8,1272.7 1303.1,1299.2 1286.4,1326.7 1269.7,1358.2 1253.0,1389.7 1236.3,1421.2 1219.6,1450.7 1202.9,1476.3 1186.2,1495.9 1169.5,1510.7 1152.8,1522.5"/>
<polyline class="b" points="1152.8,1516.1 1169.5,1499.7 1186.2,1477.8 1202.9,1449.3 1219.6,1414.0 1236.3,1372.6 1253.0,1327.1 1269.7,1280.5 1286.4,1236.1 1303.1,1196.7 1319.8,1163.8 1336.5,1137.7 1353.2,1117.8 1369.9,1103.2 1386.6,1092.6 1403.3,1085.2 1420.0,1080.0 1436.7,1076.3 1453.4,1073.8 1470.1,1072.1 1486.8,1071.0 1503.5,1070.1 1520.2,1069.6 1536.9,1069.2 1553.6,1069.0 1570.3,1068.8 1587.0,1068.7 1603.7,1068.6 1620.4,1068.5 1637.1,1068.5 1653.8,1068.5 1670.5,1068.5 1687.2,1068.5 1703.9,1068.4 1720.6,1068.4 1737.3,1068.4 1754.0,1068.4 1770.7,1068.4 1787.4,1068.4 1804.1,1068.4 1820.8,1068.4 1837.5,1068.4 1854.2,1068.4 1870.9,1068.4 1887.6,1068.4 1904.3,1068.4 1921.0,1068.4 1937.7,1068.4 1954.4,1068.4 1971.1,1068.4 1987.8,1068.4 2004.5,1068.4"/>
<polyline class="b" points="1152.8,1514.9 1169.5,1497.2 1186.2,1474.0 1202.9,1444.4 1219.6,1408.7 1236.3,1367.7 1253.0,1323.9 1269.7,1280.0 1286.4,1239.1 1303.1,1203.3 1319.8,1173.7 1336.5,1150.5 1353.2,1132.8 1369.9,1119.8 1386.6,1110.4 1403.3,1103.8 1420.0,1099.1 1436.7,1095.8 1453.4,1093.5 1470.1,1091.9 1486.8,1090.9 1503.5,1090.1 1520.2,1089.6 1536.9,1089.2 1553.6,1089.0 1570.3,1088.8 1587.0,1088.7 1603.7,1088.6 1620.4,1088.6 1637.1,1088.6 1653.8,1088.5 1670.5,1088.5 1687.2,1088.5 1703.9,1088.5 1720.6,1088.5 1737.3,1088.5 1754.0,1088.5 1770.7,1088.5 1787.4,1088.5 1804.1,1088.5 1820.8,1088.5 1837.5,1088.5 1854.2,1088.5 1870.9,1088.5 1887.6,1088.5 1904.3,1088.5 1921.0,1088.5 1937.7,1088.5 1954.4,1088.5 1971.1,1088.5 1987.8,1088.5 2004.5,1088.5"/>
<polyline class="b" points="1152.8,1517.5 1169.5,1503.2 1186.2,1483.9 1202.9,1458.8 1219.6,1427.5 1236.3,1390.5 1253.0,1349.2 1269.7,1306.2 1286.4,1264.6 1303.1,1227.0 1319.8,1195.1 1336.5,1169.4 1353.2,1149.5 1369.9,1134.7 1386.6,1124.0 1403.3,1116.3 1420.0,1110.9 1436.7,1107.1 1453.4,1104.5 1470.1,1102.6 1486.8,1101.4 1503.5,1100.5 1520.2,1100.0 1536.9,1099.5 1553.6,1099.3 1570.3,1099.1 1587.0,1099.0 1603.7,1098.9 1620.4,1098.8 1637.1,1098.8 1653.8,1098.7 1670.5,1098.7 1687.2,1098.7 1703.9,1098.7 1720.6,1098.7 1737.3,1098.7 1754.0,1098.7 1770.7,1098.7 1787.4,1098.7 1804.1,1098.7 1820.8,1098.7 1837.5,1098.7 1854.2,1098.7 1870.9,1098.7 1887.6,1098.7 1904.3,1098.7 1921.0,1098.7 1937.7,1098.7 1954.4,1098.7 1971.1,1098.7 1987.8,1098.7 2004.5,1098.7"/>
<polyline class="b" points="1152.8,1517.7 1169.5,1503.9 1186.2,1485.6 1202.9,1462.1 1219.6,1432.9 1236.3,1398.5 1253.0,1359.9 1269.7,1319.3 1286.4,1279.2 1303.1,1242.0 1319.8,1209.5 1336.5,1182.5 1353.2,1161.0 1369.9,1144.4 1386.6,1132.1 1403.3,1123.0 1420.0,1116.5 1436.7,1111.8 1453.4,1108.4 1470.1,1106.1 1486.8,1104.4 1503.5,1103.3 1520.2,1102.5 1536.9,1101.9 1553.6,1101.5 1570.3,1101.2 1587.0,1101.0 1603.7,1100.9 1620.4,1100.8 1637.1,1100.7 1653.8,1100.7 1670.5,1100.7 1687.2,1100.6 1703.9,1100.6 1720.6,1100.6 1737.3,1100.6 1754.0,1100.6 1770.7,1100.6 1787.4,1100.6 1804.1,1100.6 1820.8,1100.6 1837.5,1100.6 1854.2,1100.6 1870.9,1100.6 1887.6,1100.6 1904.3,1100.6 1921.0,1100.6 1937.7,1100.6 1954.4,1100.6 1971.1,1100.6 1987.8,1100.6 2004.5,1100.6"/>
<polyline class="b" points="1152.8,1518.4 1169.5,1505.0 1186.2,1486.7 1202.9,1462.5 1219.6,1432.0 1236.3,1395.5 1253.0,1354.7 1269.7,1312.3 1286.4,1271.6 1303.1,1235.2 1319.8,1204.8 1336.5,1180.8 1353.2,1162.6 1369.9,1149.4 1386.6,1139.9 1403.3,1133.3 1420.0,1128.7 1436.7,1125.6 1453.4,1123.4 1470.1,1121.9 1486.8,1121.0 1503.5,1120.3 1520.2,1119.8 1536.9,1119.5 1553.6,1119.3 1570.3,1119.2 1587.0,1119.1 1603.7,1119.0 1620.4,1119.0 1637.1,1119.0 1653.8,1119.0 1670.5,1118.9 1687.2,1118.9 1703.9,1118.9 1720.6,1118.9 1737.3,1118.9 1754.0,1118.9 1770.7,1118.9 1787.4,1118.9 1804.1,1118.9 1820.8,1118.9 1837.5,1118.9 1854.2,1118.9 1870.9,1118.9 1887.6,1118.9 1904.3,1118.9 1921.0,1118.9 1937.7,1118.9 1954.4,1118.9 1971.1,1118.9 1987.8,1118.9 2004.5,1118.9"/>
<polyline class="b" points="1152.8,1518.9 1169.5,1506.6 1186.2,1489.8 1202.9,1467.7 1219.6,1439.8 1236.3,1406.3 1253.0,1368.2 1269.7,1327.8 1286.4,1287.8 1303.1,1251.0 1319.8,1219.1 1336.5,1193.1 1353.2,1172.7 1369.9,1157.4 1386.6,1146.2 1403.3,1138.1 1420.0,1132.4 1436.7,1128.4 1453.4,1125.6 1470.1,1123.7 1486.8,1122.4 1503.5,1121.4 1520.2,1120.8 1536.9,1120.4 1553.6,1120.1 1570.3,1119.9 1587.0,1119.7 1603.7,1119.7 1620.4,1119.6 1637.1,1119.5 1653.8,1119.5 1670.5,1119.5 1687.2,1119.5 1703.9,1119.5 1720.6,1119.5 1737.3,1119.5 1754.0,1119.5 1770.7,1119.5 1787.4,1119.4 1804.1,1119.4 1820.8,1119.4 1837.5,1119.4 1854.2,1119.4 1870.9,1119.4 1887.6,1119.4 1904.3,1119.4 1921.0,1119.4 1937.7,1119.4 1954.4,1119.4 1971.1,1119.4 1987.8,1119.4 2004.5,1119.4"/>
<polyline class="b" points="1152.8,1519.6 1169.5,1507.8 1186.2,1491.4 1202.9,1469.3 1219.6,1441.1 1236.3,1407.0 1253.0,1368.4 1269.7,1328.2 1286.4,1289.6 1303.1,1255.2 1319.8,1226.7 1336.5,1204.4 1353.2,1187.8 1369.9,1175.8 1386.6,1167.4 1403.3,1161.6 1420.0,1157.6 1436.7,1154.9 1453.4,1153.1 1470.1,1151.9 1486.8,1151.1 1503.5,1150.5 1520.2,1150.2 1536.9,1149.9 1553.6,1149.8 1570.3,1149.7 1587.0,1149.6 1603.7,1149.6 1620.4,1149.5 1637.1,1149.5 1653.8,1149.5 1670.5,1149.5 1687.2,1149.5 1703.9,1149.5 1720.6,1149.5 1737.3,1149.5 1754.0,1149.5 1770.7,1149.5 1787.4,1149.5 1804.1,1149.5 1820.8,1149.5 1837.5,1149.5 1854.2,1149.5 1870.9,1149.5 1887.6,1149.5 1904.3,1149.5 1921.0,1149.5 1937.7,1149.5 1954.4,1149.5 1971.1,1149.5 1987.8,1149.5 2004.5,1149.5"/>
<polyline class="b" points="1152.8,1517.7 1169.5,1503.7 1186.2,1485.3 1202.9,1461.6 1219.6,1432.7 1236.3,1399.0 1253.0,1362.3 1269.7,1324.9 1286.4,1289.2 1303.1,1257.3 1319.8,1230.6 1336.5,1209.1 1353.2,1192.6 1369.9,1180.3 1386.6,1171.4 1403.3,1165.0 1420.0,1160.4 1436.7,1157.2 1453.4,1155.0 1470.1,1153.5 1486.8,1152.4 1503.5,1151.6 1520.2,1151.1 1536.9,1150.8 1553.6,1150.5 1570.3,1150.4 1587.0,1150.3 1603.7,1150.2 1620.4,1150.1 1637.1,1150.1 1653.8,1150.1 1670.5,1150.0 1687.2,1150.0 1703.9,1150.0 1720.6,1150.0 1737.3,1150.0 1754.0,1150.0 1770.7,1150.0 1787.4,1150.0 1804.1,1150.0 1820.8,1150.0 1837.5,1150.0 1854.2,1150.0 1870.9,1150.0 1887.6,1150.0 1904.3,1150.0 1921.0,1150.0 1937.7,1150.0 1954.4,1150.0 1971.1,1150.0 1987.8,1150.0 2004.5,1150.0"/>
<polyline class="b" points="1152.8,1519.1 1169.5,1506.8 1186.2,1490.1 1202.9,1468.1 1219.6,1440.4 1236.3,1407.4 1253.0,1370.5 1269.7,1332.0 1286.4,1294.7 1303.1,1261.2 1319.8,1232.9 1336.5,1210.4 1353.2,1193.2 1369.9,1180.4 1386.6,1171.3 1403.3,1164.8 1420.0,1160.3 1436.7,1157.2 1453.4,1155.0 1470.1,1153.6 1486.8,1152.6 1503.5,1151.9 1520.2,1151.4 1536.9,1151.1 1553.6,1150.9 1570.3,1150.8 1587.0,1150.7 1603.7,1150.6 1620.4,1150.6 1637.1,1150.5 1653.8,1150.5 1670.5,1150.5 1687.2,1150.5 1703.9,1150.5 1720.6,1150.5 1737.3,1150.5 1754.0,1150.5 1770.7,1150.5 1787.4,1150.5 1804.1,1150.5 1820.8,1150.5 1837.5,1150.5 1854.2,1150.5 1870.9,1150.5 1887.6,1150.5 1904.3,1150.5 1921.0,1150.5 1937.7,1150.5 1954.4,1150.5 1971.1,1150.5 1987.8,1150.5 2004.5,1150.5"/>
<polyline class="b" points="1152.8,1519.8 1169.5,1508.7 1186.2,1494.1 1202.9,1475.3 1219.6,1452.0 1236.3,1424.5 1253.0,1393.6 1269.7,1361.1 1286.4,1328.9 1303.1,1299.1 1319.8,1273.0 1336.5,1251.3 1353.2,1234.1 1369.9,1220.8 1386.6,1210.9 1403.3,1203.6 1420.0,1198.4 1436.7,1194.6 1453.4,1192.0 1470.1,1190.1 1486.8,1188.7 1503.5,1187.8 1520.2,1187.2 1536.9,1186.7 1553.6,1186.4 1570.3,1186.2 1587.0,1186.0 1603.7,1185.9 1620.4,1185.8 1637.1,1185.8 1653.8,1185.7 1670.5,1185.7 1687.2,1185.7 1703.9,1185.7 1720.6,1185.7 1737.3,1185.7 1754.0,1185.7 1770.7,1185.7 1787.4,1185.7 1804.1,1185.7 1820.8,1185.7 1837.5,1185.7 1854.2,1185.7 1870.9,1185.7 1887.6,1185.7 1904.3,1185.7 1921.0,1185.7 1937.7,1185.7 1954.4,1185.7 1971.1,1185.7 1987.8,1185.7 2004.5,1185.7"/>
<polyline class="o" points="1152.8,1516.0 1169.5,1516.3 1186.2,1516.8 1202.9,1517.5 1219.6,1518.3 1236.3,1519.3 1253.0,1520.5 1269.7,1521.7 1286.4,1522.9 1303.1,1524.0 1319.8,1525.0 1336.5,1525.8 1353.2,1526.4 1369.9,1526.8 1386.6,1527.1 1403.3,1527.4 1420.0,1527.5 1436.7,1527.6 1453.4,1527.7 1470.1,1527.8 1486.8,1527.8 1503.5,1527.8 1520.2,1527.9 1536.9,1527.9 1553.6,1527.9 1570.3,1527.9 1587.0,1527.9 1603.7,1527.9 1620.4,1527.9 1637.1,1527.9 1653.8,1527.9 1670.5,1527.9 1687.2,1527.9 1703.9,1527.9 1720.6,1527.9 1737.3,1527.9 1754.0,1527.9 1770.7,1527.9 1787.4,1527.9 1804.1,1527.9 1820.8,1527.9 1837.5,1527.9 1854.2,1527.9 1870.9,1527.9 1887.6,1527.9 1904.3,1527.9 1921.0,1527.9 1937.7,1527.9 1954.4,1527.9 1971.1,1527.9 1987.8,1527.9 2004.5,1527.9"/>
<polyline class="o" points="1152.8,1514.8 1169.5,1515.2 1186.2,1515.8 1202.9,1516.6 1219.6,1517.6 1236.3,1518.8 1253.0,1520.1 1269.7,1521.4 1286.4,1522.7 1303.1,1523.9 1319.8,1524.9 1336.5,1525.7 1353.2,1526.3 1369.9,1526.8 1386.6,1527.1 1403.3,1527.3 1420.0,1527.5 1436.7,1527.6 1453.4,1527.7 1470.1,1527.8 1486.8,1527.8 1503.5,1527.8 1520.2,1527.9 1536.9,1527.9 1553.6,1527.9 1570.3,1527.9 1587.0,1527.9 1603.7,1527.9 1620.4,1527.9 1637.1,1527.9 1653.8,1527.9 1670.5,1527.9 1687.2,1527.9 1703.9,1527.9 1720.6,1527.9 1737.3,1527.9 1754.0,1527.9 1770.7,1527.9 1787.4,1527.9 1804.1,1527.9 1820.8,1527.9 1837.5,1527.9 1854.2,1527.9 1870.9,1527.9 1887.6,1527.9 1904.3,1527.9 1921.0,1527.9 1937.7,1527.9 1954.4,1527.9 1971.1,1527.9 1987.8,1527.9 2004.5,1527.9"/>
<polyline class="o" points="1152.8,1517.4 1169.5,1517.7 1186.2,1518.1 1202.9,1518.7 1219.6,1519.4 1236.3,1520.2 1253.0,1521.2 1269.7,1522.2 1286.4,1523.3 1303.1,1524.3 1319.8,1525.1 1336.5,1525.9 1353.2,1526.4 1369.9,1526.8 1386.6,1527.2 1403.3,1527.4 1420.0,1527.5 1436.7,1527.6 1453.4,1527.7 1470.1,1527.8 1486.8,1527.8 1503.5,1527.8 1520.2,1527.9 1536.9,1527.9 1553.6,1527.9 1570.3,1527.9 1587.0,1527.9 1603.7,1527.9 1620.4,1527.9 1637.1,1527.9 1653.8,1527.9 1670.5,1527.9 1687.2,1527.9 1703.9,1527.9 1720.6,1527.9 1737.3,1527.9 1754.0,1527.9 1770.7,1527.9 1787.4,1527.9 1804.1,1527.9 1820.8,1527.9 1837.5,1527.9 1854.2,1527.9 1870.9,1527.9 1887.6,1527.9 1904.3,1527.9 1921.0,1527.9 1937.7,1527.9 1954.4,1527.9 1971.1,1527.9 1987.8,1527.9 2004.5,1527.9"/>
<polyline class="o" points="1152.8,1517.6 1169.5,1517.9 1186.2,1518.3 1202.9,1518.8 1219.6,1519.4 1236.3,1520.2 1253.0,1521.1 1269.7,1522.1 1286.4,1523.1 1303.1,1524.0 1319.8,1524.9 1336.5,1525.6 1353.2,1526.2 1369.9,1526.6 1386.6,1527.0 1403.3,1527.3 1420.0,1527.4 1436.7,1527.6 1453.4,1527.7 1470.1,1527.7 1486.8,1527.8 1503.5,1527.8 1520.2,1527.8 1536.9,1527.9 1553.6,1527.9 1570.3,1527.9 1587.0,1527.9 1603.7,1527.9 1620.4,1527.9 1637.1,1527.9 1653.8,1527.9 1670.5,1527.9 1687.2,1527.9 1703.9,1527.9 1720.6,1527.9 1737.3,1527.9 1754.0,1527.9 1770.7,1527.9 1787.4,1527.9 1804.1,1527.9 1820.8,1527.9 1837.5,1527.9 1854.2,1527.9 1870.9,1527.9 1887.6,1527.9 1904.3,1527.9 1921.0,1527.9 1937.7,1527.9 1954.4,1527.9 1971.1,1527.9 1987.8,1527.9 2004.5,1527.9"/>
<polyline class="o" points="1152.8,1518.3 1169.5,1518.6 1186.2,1518.9 1202.9,1519.4 1219.6,1520.1 1236.3,1520.9 1253.0,1521.8 1269.7,1522.8 1286.4,1523.8 1303.1,1524.7 1319.8,1525.5 1336.5,1526.2 1353.2,1526.7 1369.9,1527.0 1386.6,1527.3 1403.3,1527.5 1420.0,1527.6 1436.7,1527.7 1453.4,1527.8 1470.1,1527.8 1486.8,1527.8 1503.5,1527.9 1520.2,1527.9 1536.9,1527.9 1553.6,1527.9 1570.3,1527.9 1587.0,1527.9 1603.7,1527.9 1620.4,1527.9 1637.1,1527.9 1653.8,1527.9 1670.5,1527.9 1687.2,1527.9 1703.9,1527.9 1720.6,1527.9 1737.3,1527.9 1754.0,1527.9 1770.7,1527.9 1787.4,1527.9 1804.1,1527.9 1820.8,1527.9 1837.5,1527.9 1854.2,1527.9 1870.9,1527.9 1887.6,1527.9 1904.3,1527.9 1921.0,1527.9 1937.7,1527.9 1954.4,1527.9 1971.1,1527.9 1987.8,1527.9 2004.5,1527.9"/>
<polyline class="o" points="1152.8,1518.9 1169.5,1519.1 1186.2,1519.5 1202.9,1519.9 1219.6,1520.4 1236.3,1521.1 1253.0,1521.9 1269.7,1522.8 1286.4,1523.7 1303.1,1524.6 1319.8,1525.3 1336.5,1526.0 1353.2,1526.5 1369.9,1526.9 1386.6,1527.2 1403.3,1527.4 1420.0,1527.6 1436.7,1527.7 1453.4,1527.7 1470.1,1527.8 1486.8,1527.8 1503.5,1527.8 1520.2,1527.9 1536.9,1527.9 1553.6,1527.9 1570.3,1527.9 1587.0,1527.9 1603.7,1527.9 1620.4,1527.9 1637.1,1527.9 1653.8,1527.9 1670.5,1527.9 1687.2,1527.9 1703.9,1527.9 1720.6,1527.9 1737.3,1527.9 1754.0,1527.9 1770.7,1527.9 1787.4,1527.9 1804.1,1527.9 1820.8,1527.9 1837.5,1527.9 1854.2,1527.9 1870.9,1527.9 1887.6,1527.9 1904.3,1527.9 1921.0,1527.9 1937.7,1527.9 1954.4,1527.9 1971.1,1527.9 1987.8,1527.9 2004.5,1527.9"/>
<polyline class="o" points="1152.8,1519.5 1169.5,1519.8 1186.2,1520.1 1202.9,1520.5 1219.6,1521.1 1236.3,1521.8 1253.0,1522.6 1269.7,1523.5 1286.4,1524.4 1303.1,1525.2 1319.8,1525.9 1336.5,1526.4 1353.2,1526.9 1369.9,1527.2 1386.6,1527.4 1403.3,1527.6 1420.0,1527.7 1436.7,1527.8 1453.4,1527.8 1470.1,1527.8 1486.8,1527.9 1503.5,1527.9 1520.2,1527.9 1536.9,1527.9 1553.6,1527.9 1570.3,1527.9 1587.0,1527.9 1603.7,1527.9 1620.4,1527.9 1637.1,1527.9 1653.8,1527.9 1670.5,1527.9 1687.2,1527.9 1703.9,1527.9 1720.6,1527.9 1737.3,1527.9 1754.0,1527.9 1770.7,1527.9 1787.4,1527.9 1804.1,1527.9 1820.8,1527.9 1837.5,1527.9 1854.2,1527.9 1870.9,1527.9 1887.6,1527.9 1904.3,1527.9 1921.0,1527.9 1937.7,1527.9 1954.4,1527.9 1971.1,1527.9 1987.8,1527.9 2004.5,1527.9"/>
<polyline class="o" points="1152.8,1517.6 1169.5,1517.9 1186.2,1518.3 1202.9,1518.9 1219.6,1519.7 1236.3,1520.5 1253.0,1521.5 1269.7,1522.5 1286.4,1523.6 1303.1,1524.5 1319.8,1525.3 1336.5,1526.0 1353.2,1526.5 1369.9,1526.9 1386.6,1527.2 1403.3,1527.4 1420.0,1527.6 1436.7,1527.7 1453.4,1527.7 1470.1,1527.8 1486.8,1527.8 1503.5,1527.8 1520.2,1527.9 1536.9,1527.9 1553.6,1527.9 1570.3,1527.9 1587.0,1527.9 1603.7,1527.9 1620.4,1527.9 1637.1,1527.9 1653.8,1527.9 1670.5,1527.9 1687.2,1527.9 1703.9,1527.9 1720.6,1527.9 1737.3,1527.9 1754.0,1527.9 1770.7,1527.9 1787.4,1527.9 1804.1,1527.9 1820.8,1527.9 1837.5,1527.9 1854.2,1527.9 1870.9,1527.9 1887.6,1527.9 1904.3,1527.9 1921.0,1527.9 1937.7,1527.9 1954.4,1527.9 1971.1,1527.9 1987.8,1527.9 2004.5,1527.9"/>
<polyline class="o" points="1152.8,1519.0 1169.5,1519.3 1186.2,1519.6 1202.9,1520.1 1219.6,1520.7 1236.3,1521.4 1253.0,1522.2 1269.7,1523.1 1286.4,1524.0 1303.1,1524.9 1319.8,1525.6 1336.5,1526.2 1353.2,1526.7 1369.9,1527.0 1386.6,1527.3 1403.3,1527.5 1420.0,1527.6 1436.7,1527.7 1453.4,1527.8 1470.1,1527.8 1486.8,1527.8 1503.5,1527.9 1520.2,1527.9 1536.9,1527.9 1553.6,1527.9 1570.3,1527.9 1587.0,1527.9 1603.7,1527.9 1620.4,1527.9 1637.1,1527.9 1653.8,1527.9 1670.5,1527.9 1687.2,1527.9 1703.9,1527.9 1720.6,1527.9 1737.3,1527.9 1754.0,1527.9 1770.7,1527.9 1787.4,1527.9 1804.1,1527.9 1820.8,1527.9 1837.5,1527.9 1854.2,1527.9 1870.9,1527.9 1887.6,1527.9 1904.3,1527.9 1921.0,1527.9 1937.7,1527.9 1954.4,1527.9 1971.1,1527.9 1987.8,1527.9 2004.5,1527.9"/>
<polyline class="o" points="1152.8,1519.7 1169.5,1519.9 1186.2,1520.2 1202.9,1520.6 1219.6,1521.1 1236.3,1521.8 1253.0,1522.5 1269.7,1523.2 1286.4,1524.0 1303.1,1524.8 1319.8,1525.5 1336.5,1526.1 1353.2,1526.5 1369.9,1526.9 1386.6,1527.2 1403.3,1527.4 1420.0,1527.5 1436.7,1527.6 1453.4,1527.7 1470.1,1527.8 1486.8,1527.8 1503.5,1527.8 1520.2,1527.9 1536.9,1527.9 1553.6,1527.9 1570.3,1527.9 1587.0,1527.9 1603.7,1527.9 1620.4,1527.9 1637.1,1527.9 1653.8,1527.9 1670.5,1527.9 1687.2,1527.9 1703.9,1527.9 1720.6,1527.9 1737.3,1527.9 1754.0,1527.9 1770.7,1527.9 1787.4,1527.9 1804.1,1527.9 1820.8,1527.9 1837.5,1527.9 1854.2,1527.9 1870.9,1527.9 1887.6,1527.9 1904.3,1527.9 1921.0,1527.9 1937.7,1527.9 1954.4,1527.9 1971.1,1527.9 1987.8,1527.9 2004.5,1527.9"/>
<polyline class="gr" points="1152.8,1527.9 1169.5,1523.0 1186.2,1516.8 1202.9,1509.5 1219.6,1501.7 1236.3,1494.5 1253.0,1489.1 1269.7,1486.8 1286.4,1487.9 1303.1,1491.8 1319.8,1497.5 1336.5,1503.7 1353.2,1509.4 1369.9,1514.2 1386.6,1518.0 1403.3,1520.9 1420.0,1523.0 1436.7,1524.5 1453.4,1525.6 1470.1,1526.3 1486.8,1526.8 1503.5,1527.1 1520.2,1527.4 1536.9,1527.5 1553.6,1527.7 1570.3,1527.7 1587.0,1527.8 1603.7,1527.8 1620.4,1527.8 1637.1,1527.9 1653.8,1527.9 1670.5,1527.9 1687.2,1527.9 1703.9,1527.9 1720.6,1527.9 1737.3,1527.9 1754.0,1527.9 1770.7,1527.9 1787.4,1527.9 1804.1,1527.9 1820.8,1527.9 1837.5,1527.9 1854.2,1527.9 1870.9,1527.9 1887.6,1527.9 1904.3,1527.9 1921.0,1527.9 1937.7,1527.9 1954.4,1527.9 1971.1,1527.9 1987.8,1527.9 2004.5,1527.9"/>
<polyline class="gr" points="1152.8,1527.9 1169.5,1522.7 1186.2,1516.4 1202.9,1509.2 1219.6,1501.9 1236.3,1495.4 1253.0,1491.1 1269.7,1489.8 1286.4,1491.5 1303.1,1495.6 1319.8,1501.0 1336.5,1506.6 1353.2,1511.6 1369.9,1515.9 1386.6,1519.2 1403.3,1521.7 1420.0,1523.6 1436.7,1524.9 1453.4,1525.8 1470.1,1526.4 1486.8,1526.9 1503.5,1527.2 1520.2,1527.4 1536.9,1527.6 1553.6,1527.7 1570.3,1527.7 1587.0,1527.8 1603.7,1527.8 1620.4,1527.9 1637.1,1527.9 1653.8,1527.9 1670.5,1527.9 1687.2,1527.9 1703.9,1527.9 1720.6,1527.9 1737.3,1527.9 1754.0,1527.9 1770.7,1527.9 1787.4,1527.9 1804.1,1527.9 1820.8,1527.9 1837.5,1527.9 1854.2,1527.9 1870.9,1527.9 1887.6,1527.9 1904.3,1527.9 1921.0,1527.9 1937.7,1527.9 1954.4,1527.9 1971.1,1527.9 1987.8,1527.9 2004.5,1527.9"/>
<polyline class="gr" points="1152.8,1527.9 1169.5,1523.6 1186.2,1518.2 1202.9,1511.8 1219.6,1504.8 1236.3,1498.0 1253.0,1492.7 1269.7,1490.0 1286.4,1490.3 1303.1,1493.4 1319.8,1498.3 1336.5,1503.9 1353.2,1509.4 1369.9,1514.0 1386.6,1517.8 1403.3,1520.7 1420.0,1522.8 1436.7,1524.3 1453.4,1525.4 1470.1,1526.2 1486.8,1526.7 1503.5,1527.1 1520.2,1527.3 1536.9,1527.5 1553.6,1527.6 1570.3,1527.7 1587.0,1527.8 1603.7,1527.8 1620.4,1527.8 1637.1,1527.9 1653.8,1527.9 1670.5,1527.9 1687.2,1527.9 1703.9,1527.9 1720.6,1527.9 1737.3,1527.9 1754.0,1527.9 1770.7,1527.9 1787.4,1527.9 1804.1,1527.9 1820.8,1527.9 1837.5,1527.9 1854.2,1527.9 1870.9,1527.9 1887.6,1527.9 1904.3,1527.9 1921.0,1527.9 1937.7,1527.9 1954.4,1527.9 1971.1,1527.9 1987.8,1527.9 2004.5,1527.9"/>
<polyline class="gr" points="1152.8,1527.9 1169.5,1524.0 1186.2,1519.0 1202.9,1513.2 1219.6,1506.9 1236.3,1500.7 1253.0,1495.6 1269.7,1492.6 1286.4,1492.1 1303.1,1494.1 1319.8,1498.0 1336.5,1502.9 1353.2,1507.9 1369.9,1512.5 1386.6,1516.3 1403.3,1519.4 1420.0,1521.8 1436.7,1523.5 1453.4,1524.8 1470.1,1525.7 1486.8,1526.3 1503.5,1526.8 1520.2,1527.1 1536.9,1527.4 1553.6,1527.5 1570.3,1527.6 1587.0,1527.7 1603.7,1527.8 1620.4,1527.8 1637.1,1527.8 1653.8,1527.9 1670.5,1527.9 1687.2,1527.9 1703.9,1527.9 1720.6,1527.9 1737.3,1527.9 1754.0,1527.9 1770.7,1527.9 1787.4,1527.9 1804.1,1527.9 1820.8,1527.9 1837.5,1527.9 1854.2,1527.9 1870.9,1527.9 1887.6,1527.9 1904.3,1527.9 1921.0,1527.9 1937.7,1527.9 1954.4,1527.9 1971.1,1527.9 1987.8,1527.9 2004.5,1527.9"/>
<polyline class="gr" points="1152.8,1527.9 1169.5,1523.8 1186.2,1518.4 1202.9,1512.0 1219.6,1504.8 1236.3,1497.9 1253.0,1492.6 1269.7,1490.0 1286.4,1490.7 1303.1,1494.2 1319.8,1499.6 1336.5,1505.4 1353.2,1510.8 1369.9,1515.4 1386.6,1519.0 1403.3,1521.6 1420.0,1523.6 1436.7,1524.9 1453.4,1525.9 1470.1,1526.5 1486.8,1527.0 1503.5,1527.3 1520.2,1527.5 1536.9,1527.6 1553.6,1527.7 1570.3,1527.8 1587.0,1527.8 1603.7,1527.8 1620.4,1527.9 1637.1,1527.9 1653.8,1527.9 1670.5,1527.9 1687.2,1527.9 1703.9,1527.9 1720.6,1527.9 1737.3,1527.9 1754.0,1527.9 1770.7,1527.9 1787.4,1527.9 1804.1,1527.9 1820.8,1527.9 1837.5,1527.9 1854.2,1527.9 1870.9,1527.9 1887.6,1527.9 1904.3,1527.9 1921.0,1527.9 1937.7,1527.9 1954.4,1527.9 1971.1,1527.9 1987.8,1527.9 2004.5,1527.9"/>
<polyline class="gr" points="1152.8,1527.9 1169.5,1524.2 1186.2,1519.4 1202.9,1513.7 1219.6,1507.2 1236.3,1500.7 1253.0,1495.3 1269.7,1492.1 1286.4,1491.6 1303.1,1493.9 1319.8,1498.2 1336.5,1503.5 1353.2,1508.8 1369.9,1513.5 1386.6,1517.3 1403.3,1520.3 1420.0,1522.5 1436.7,1524.1 1453.4,1525.3 1470.1,1526.1 1486.8,1526.6 1503.5,1527.0 1520.2,1527.3 1536.9,1527.5 1553.6,1527.6 1570.3,1527.7 1587.0,1527.8 1603.7,1527.8 1620.4,1527.8 1637.1,1527.9 1653.8,1527.9 1670.5,1527.9 1687.2,1527.9 1703.9,1527.9 1720.6,1527.9 1737.3,1527.9 1754.0,1527.9 1770.7,1527.9 1787.4,1527.9 1804.1,1527.9 1820.8,1527.9 1837.5,1527.9 1854.2,1527.9 1870.9,1527.9 1887.6,1527.9 1904.3,1527.9 1921.0,1527.9 1937.7,1527.9 1954.4,1527.9 1971.1,1527.9 1987.8,1527.9 2004.5,1527.9"/>
<polyline class="gr" points="1152.8,1527.9 1169.5,1524.1 1186.2,1519.2 1202.9,1513.1 1219.6,1506.2 1236.3,1499.5 1253.0,1494.2 1269.7,1491.6 1286.4,1492.3 1303.1,1495.8 1319.8,1501.1 1336.5,1506.9 1353.2,1512.2 1369.9,1516.6 1386.6,1519.9 1403.3,1522.4 1420.0,1524.1 1436.7,1525.3 1453.4,1526.2 1470.1,1526.7 1486.8,1527.1 1503.5,1527.4 1520.2,1527.6 1536.9,1527.7 1553.6,1527.7 1570.3,1527.8 1587.0,1527.8 1603.7,1527.9 1620.4,1527.9 1637.1,1527.9 1653.8,1527.9 1670.5,1527.9 1687.2,1527.9 1703.9,1527.9 1720.6,1527.9 1737.3,1527.9 1754.0,1527.9 1770.7,1527.9 1787.4,1527.9 1804.1,1527.9 1820.8,1527.9 1837.5,1527.9 1854.2,1527.9 1870.9,1527.9 1887.6,1527.9 1904.3,1527.9 1921.0,1527.9 1937.7,1527.9 1954.4,1527.9 1971.1,1527.9 1987.8,1527.9 2004.5,1527.9"/>
<polyline class="gr" points="1152.8,1527.9 1169.5,1523.8 1186.2,1518.8 1202.9,1512.9 1219.6,1506.8 1236.3,1501.2 1253.0,1497.0 1269.7,1495.2 1286.4,1496.0 1303.1,1499.0 1319.8,1503.4 1336.5,1508.1 1353.2,1512.6 1369.9,1516.5 1386.6,1519.6 1403.3,1521.9 1420.0,1523.7 1436.7,1524.9 1453.4,1525.8 1470.1,1526.5 1486.8,1526.9 1503.5,1527.2 1520.2,1527.4 1536.9,1527.6 1553.6,1527.7 1570.3,1527.7 1587.0,1527.8 1603.7,1527.8 1620.4,1527.8 1637.1,1527.9 1653.8,1527.9 1670.5,1527.9 1687.2,1527.9 1703.9,1527.9 1720.6,1527.9 1737.3,1527.9 1754.0,1527.9 1770.7,1527.9 1787.4,1527.9 1804.1,1527.9 1820.8,1527.9 1837.5,1527.9 1854.2,1527.9 1870.9,1527.9 1887.6,1527.9 1904.3,1527.9 1921.0,1527.9 1937.7,1527.9 1954.4,1527.9 1971.1,1527.9 1987.8,1527.9 2004.5,1527.9"/>
<polyline class="gr" points="1152.8,1527.9 1169.5,1524.2 1186.2,1519.3 1202.9,1513.6 1219.6,1507.2 1236.3,1501.0 1253.0,1496.1 1269.7,1493.6 1286.4,1494.0 1303.1,1497.0 1319.8,1501.6 1336.5,1506.8 1353.2,1511.7 1369.9,1515.9 1386.6,1519.3 1403.3,1521.8 1420.0,1523.6 1436.7,1525.0 1453.4,1525.9 1470.1,1526.5 1486.8,1527.0 1503.5,1527.3 1520.2,1527.5 1536.9,1527.6 1553.6,1527.7 1570.3,1527.8 1587.0,1527.8 1603.7,1527.8 1620.4,1527.9 1637.1,1527.9 1653.8,1527.9 1670.5,1527.9 1687.2,1527.9 1703.9,1527.9 1720.6,1527.9 1737.3,1527.9 1754.0,1527.9 1770.7,1527.9 1787.4,1527.9 1804.1,1527.9 1820.8,1527.9 1837.5,1527.9 1854.2,1527.9 1870.9,1527.9 1887.6,1527.9 1904.3,1527.9 1921.0,1527.9 1937.7,1527.9 1954.4,1527.9 1971.1,1527.9 1987.8,1527.9 2004.5,1527.9"/>
<polyline class="gr" points="1152.8,1527.9 1169.5,1524.8 1186.2,1520.8 1202.9,1516.2 1219.6,1511.1 1236.3,1506.1 1253.0,1502.1 1269.7,1499.6 1286.4,1499.2 1303.1,1500.8 1319.8,1503.9 1336.5,1507.8 1353.2,1511.9 1369.9,1515.5 1386.6,1518.6 1403.3,1521.1 1420.0,1523.0 1436.7,1524.4 1453.4,1525.4 1470.1,1526.1 1486.8,1526.7 1503.5,1527.0 1520.2,1527.3 1536.9,1527.5 1553.6,1527.6 1570.3,1527.7 1587.0,1527.8 1603.7,1527.8 1620.4,1527.8 1637.1,1527.9 1653.8,1527.9 1670.5,1527.9 1687.2,1527.9 1703.9,1527.9 1720.6,1527.9 1737.3,1527.9 1754.0,1527.9 1770.7,1527.9 1787.4,1527.9 1804.1,1527.9 1820.8,1527.9 1837.5,1527.9 1854.2,1527.9 1870.9,1527.9 1887.6,1527.9 1904.3,1527.9 1921.0,1527.9 1937.7,1527.9 1954.4,1527.9 1971.1,1527.9 1987.8,1527.9 2004.5,1527.9"/>
<polyline class="k" points="1152.8,1520.5 1169.5,1506.7 1186.2,1494.0 1202.9,1442.8 1219.6,1406.4 1236.3,1393.3 1253.0,1365.1 1269.7,1315.0 1286.4,1287.4 1303.1,1278.9 1319.8,1221.5 1336.5,1145.1 1353.2,1142.7 1369.9,1138.2 1386.6,1117.5 1403.3,1105.8 1420.0,1100.8 1436.7,1097.5 1453.4,1096.5 1470.1,1095.5 1486.8,1094.5 1503.5,1093.9 1520.2,1093.6 1536.9,1093.1 1553.6,1092.8 1570.3,1092.6 1587.0,1092.5 1603.7,1092.4 1620.4,1092.4 1637.1,1092.3 1653.8,1092.3 1670.5,1092.3 1687.2,1092.3 1703.9,1092.3 1720.6,1092.3 1737.3,1092.3 1754.0,1092.3 1770.7,1092.3 1787.4,1092.3 1804.1,1092.3 1820.8,1092.3 1837.5,1092.3 1854.2,1092.3 1870.9,1092.3 1887.6,1092.3 1904.3,1092.3 1921.0,1092.3 1937.7,1092.3 1954.4,1092.3 1971.1,1092.3 1987.8,1092.3 2004.5,1092.3"/>
</g>
<g id="p5">
<rect x="2067.0" y="881.0" width="936.0" height="678.0" fill="#eeeeee"/>
<path class="g" d="M2109 881.0V1559.0M2276 881.0V1559.0M2443 881.0V1559.0M2610 881.0V1559.0M2777 881.0V1559.0M2944 881.0V1559.0M2067.0 1528H3003.0M2067.0 1375H3003.0M2067.0 1222H3003.0M2067.0 1069H3003.0M2067.0 916H3003.0"/>
<text class="ti" x="2535.0" y="865.2" text-anchor="middle">product=P5</text>
<polygon class="hd" points="2109.2,1514.6 2125.9,1498.9 2142.6,1476.3 2159.3,1446.7 2176.0,1411.4 2192.7,1368.0 2209.4,1318.9 2226.1,1267.7 2242.8,1220.9 2259.5,1179.6 2276.2,1147.1 2292.9,1119.5 2309.6,1098.9 2326.3,1081.2 2343.0,1071.7 2359.7,1062.5 2376.4,1056.0 2393.1,1053.6 2409.8,1050.9 2426.5,1050.1 2443.2,1049.3 2459.9,1049.0 2476.6,1048.8 2493.3,1048.7 2510.0,1048.6 2526.7,1048.6 2543.4,1048.5 2560.1,1048.5 2576.8,1048.5 2593.5,1048.5 2610.2,1048.5 2626.9,1048.5 2643.6,1048.5 2660.3,1048.5 2677.0,1048.5 2693.7,1048.5 2710.4,1048.5 2727.1,1048.5 2743.8,1048.5 2760.5,1048.5 2777.2,1048.5 2793.9,1048.5 2810.6,1048.5 2827.3,1048.5 2844.0,1048.5 2860.7,1048.5 2877.4,1048.5 2894.1,1048.5 2910.8,1048.5 2927.5,1048.5 2944.2,1048.5 2960.9,1048.5 2960.9,1181.2 2944.2,1181.2 2927.5,1181.2 2910.8,1181.2 2894.1,1181.2 2877.4,1181.2 2860.7,1181.2 2844.0,1181.2 2827.3,1181.2 2810.6,1181.2 2793.9,1181.2 2777.2,1181.2 2760.5,1181.2 2743.8,1181.2 2727.1,1181.2 2710.4,1181.2 2693.7,1181.2 2677.0,1181.2 2660.3,1181.2 2643.6,1181.2 2626.9,1181.2 2610.2,1181.2 2593.5,1181.3 2576.8,1181.3 2560.1,1181.3 2543.4,1181.3 2526.7,1181.4 2510.0,1181.5 2493.3,1181.7 2476.6,1182.1 2459.9,1182.7 2443.2,1183.4 2426.5,1184.4 2409.8,1184.4 2393.1,1187.4 2376.4,1190.3 2359.7,1196.7 2343.0,1204.1 2326.3,1212.9 2309.6,1227.4 2292.9,1245.1 2276.2,1267.7 2259.5,1296.3 2242.8,1328.7 2226.1,1362.2 2209.4,1395.6 2192.7,1428.1 2176.0,1456.6 2159.3,1481.2 2142.6,1499.9 2125.9,1513.6 2109.2,1523.5"/>
<polyline class="b" points="2109.2,1515.8 2125.9,1498.9 2142.6,1475.9 2159.3,1445.9 2176.0,1408.5 2192.7,1364.6 2209.4,1316.6 2226.1,1268.1 2242.8,1222.6 2259.5,1182.9 2276.2,1150.5 2292.9,1125.4 2309.6,1106.7 2326.3,1093.1 2343.0,1083.6 2359.7,1077.0 2376.4,1072.4 2393.1,1069.3 2409.8,1067.2 2426.5,1065.7 2443.2,1064.8 2459.9,1064.1 2476.6,1063.7 2493.3,1063.4 2510.0,1063.2 2526.7,1063.0 2543.4,1063.0 2560.1,1062.9 2576.8,1062.9 2593.5,1062.8 2610.2,1062.8 2626.9,1062.8 2643.6,1062.8 2660.3,1062.8 2677.0,1062.8 2693.7,1062.8 2710.4,1062.8 2727.1,1062.8 2743.8,1062.8 2760.5,1062.8 2777.2,1062.8 2793.9,1062.8 2810.6,1062.8 2827.3,1062.8 2844.0,1062.8 2860.7,1062.8 2877.4,1062.8 2894.1,1062.8 2910.8,1062.8 2927.5,1062.8 2944.2,1062.8 2960.9,1062.8"/>
<polyline class="b" points="2109.2,1514.3 2125.9,1496.3 2142.6,1473.3 2159.3,1444.7 2176.0,1410.6 2192.7,1371.6 2209.4,1329.4 2226.1,1286.3 2242.8,1244.8 2259.5,1207.1 2276.2,1174.4 2292.9,1147.5 2309.6,1126.0 2326.3,1109.3 2343.0,1096.8 2359.7,1087.5 2376.4,1080.6 2393.1,1075.7 2409.8,1072.1 2426.5,1069.5 2443.2,1067.7 2459.9,1066.4 2476.6,1065.4 2493.3,1064.8 2510.0,1064.3 2526.7,1064.0 2543.4,1063.7 2560.1,1063.6 2576.8,1063.4 2593.5,1063.4 2610.2,1063.3 2626.9,1063.3 2643.6,1063.2 2660.3,1063.2 2677.0,1063.2 2693.7,1063.2 2710.4,1063.2 2727.1,1063.2 2743.8,1063.2 2760.5,1063.2 2777.2,1063.2 2793.9,1063.2 2810.6,1063.2 2827.3,1063.2 2844.0,1063.2 2860.7,1063.2 2877.4,1063.2 2894.1,1063.2 2910.8,1063.2 2927.5,1063.2 2944.2,1063.2 2960.9,1063.2"/>
<polyline class="b" points="2109.2,1516.7 2125.9,1501.7 2142.6,1482.1 2159.3,1457.1 2176.0,1426.4 2192.7,1390.4 2209.4,1350.3 2226.1,1308.2 2242.8,1266.5 2259.5,1227.8 2276.2,1193.7 2292.9,1165.2 2309.6,1142.3 2326.3,1124.5 2343.0,1111.1 2359.7,1101.2 2376.4,1093.9 2393.1,1088.7 2409.8,1084.9 2426.5,1082.2 2443.2,1080.3 2459.9,1079.0 2476.6,1078.0 2493.3,1077.4 2510.0,1076.9 2526.7,1076.5 2543.4,1076.3 2560.1,1076.2 2576.8,1076.0 2593.5,1076.0 2610.2,1075.9 2626.9,1075.9 2643.6,1075.8 2660.3,1075.8 2677.0,1075.8 2693.7,1075.8 2710.4,1075.8 2727.1,1075.8 2743.8,1075.8 2760.5,1075.8 2777.2,1075.8 2793.9,1075.8 2810.6,1075.8 2827.3,1075.8 2844.0,1075.8 2860.7,1075.8 2877.4,1075.8 2894.1,1075.8 2910.8,1075.8 2927.5,1075.8 2944.2,1075.8 2960.9,1075.8"/>
<polyline class="b" points="2109.2,1515.9 2125.9,1500.2 2142.6,1480.2 2159.3,1455.2 2176.0,1425.2 2192.7,1390.7 2209.4,1352.9 2226.1,1313.7 2242.8,1275.0 2259.5,1239.1 2276.2,1207.3 2292.9,1180.4 2309.6,1158.4 2326.3,1141.1 2343.0,1127.8 2359.7,1117.7 2376.4,1110.2 2393.1,1104.7 2409.8,1100.7 2426.5,1097.7 2443.2,1095.6 2459.9,1094.1 2476.6,1093.0 2493.3,1092.2 2510.0,1091.6 2526.7,1091.2 2543.4,1090.9 2560.1,1090.7 2576.8,1090.6 2593.5,1090.5 2610.2,1090.4 2626.9,1090.3 2643.6,1090.3 2660.3,1090.3 2677.0,1090.2 2693.7,1090.2 2710.4,1090.2 2727.1,1090.2 2743.8,1090.2 2760.5,1090.2 2777.2,1090.2 2793.9,1090.2 2810.6,1090.2 2827.3,1090.2 2844.0,1090.2 2860.7,1090.2 2877.4,1090.2 2894.1,1090.2 2910.8,1090.2 2927.5,1090.2 2944.2,1090.2 2960.9,1090.2"/>
<polyline class="b" points="2109.2,1517.9 2125.9,1504.3 2142.6,1486.4 2159.3,1463.2 2176.0,1434.5 2192.7,1400.5 2209.4,1362.4 2226.1,1322.2 2242.8,1282.4 2259.5,1245.5 2276.2,1213.1 2292.9,1186.2 2309.6,1164.8 2326.3,1148.4 2343.0,1136.1 2359.7,1127.0 2376.4,1120.5 2393.1,1115.8 2409.8,1112.5 2426.5,1110.2 2443.2,1108.5 2459.9,1107.4 2476.6,1106.6 2493.3,1106.0 2510.0,1105.6 2526.7,1105.3 2543.4,1105.1 2560.1,1105.0 2576.8,1104.9 2593.5,1104.9 2610.2,1104.8 2626.9,1104.8 2643.6,1104.8 2660.3,1104.7 2677.0,1104.7 2693.7,1104.7 2710.4,1104.7 2727.1,1104.7 2743.8,1104.7 2760.5,1104.7 2777.2,1104.7 2793.9,1104.7 2810.6,1104.7 2827.3,1104.7 2844.0,1104.7 2860.7,1104.7 2877.4,1104.7 2894.1,1104.7 2910.8,1104.7 2927.5,1104.7 2944.2,1104.7 2960.9,1104.7"/>
<polyline class="b" points="2109.2,1517.2 2125.9,1503.0 2142.6,1484.5 2159.3,1461.1 2176.0,1432.5 2192.7,1399.2 2209.4,1362.4 2226.1,1323.9 2242.8,1286.0 2259.5,1250.9 2276.2,1220.2 2292.9,1194.5 2309.6,1173.8 2326.3,1157.8 2343.0,1145.7 2359.7,1136.6 2376.4,1130.1 2393.1,1125.3 2409.8,1121.8 2426.5,1119.4 2443.2,1117.6 2459.9,1116.4 2476.6,1115.5 2493.3,1114.9 2510.0,1114.5 2526.7,1114.2 2543.4,1113.9 2560.1,1113.8 2576.8,1113.7 2593.5,1113.6 2610.2,1113.5 2626.9,1113.5 2643.6,1113.5 2660.3,1113.5 2677.0,1113.4 2693.7,1113.4 2710.4,1113.4 2727.1,1113.4 2743.8,1113.4 2760.5,1113.4 2777.2,1113.4 2793.9,1113.4 2810.6,1113.4 2827.3,1113.4 2844.0,1113.4 2860.7,1113.4 2877.4,1113.4 2894.1,1113.4 2910.8,1113.4 2927.5,1113.4 2944.2,1113.4 2960.9,1113.4"/>
<polyline class="b" points="2109.2,1515.9 2125.9,1500.3 2142.6,1480.5 2159.3,1456.3 2176.0,1427.6 2192.7,1394.9 2209.4,1359.6 2226.1,1323.2 2242.8,1287.8 2259.5,1255.0 2276.2,1226.1 2292.9,1201.7 2309.6,1181.8 2326.3,1166.0 2343.0,1153.8 2359.7,1144.6 2376.4,1137.7 2393.1,1132.6 2409.8,1128.8 2426.5,1126.1 2443.2,1124.1 2459.9,1122.6 2476.6,1121.6 2493.3,1120.8 2510.0,1120.3 2526.7,1119.9 2543.4,1119.6 2560.1,1119.4 2576.8,1119.2 2593.5,1119.1 2610.2,1119.0 2626.9,1119.0 2643.6,1118.9 2660.3,1118.9 2677.0,1118.9 2693.7,1118.9 2710.4,1118.9 2727.1,1118.9 2743.8,1118.8 2760.5,1118.8 2777.2,1118.8 2793.9,1118.8 2810.6,1118.8 2827.3,1118.8 2844.0,1118.8 2860.7,1118.8 2877.4,1118.8 2894.1,1118.8 2910.8,1118.8 2927.5,1118.8 2944.2,1118.8 2960.9,1118.8"/>
<polyline class="b" points="2109.2,1518.8 2125.9,1506.5 2142.6,1490.0 2159.3,1468.7 2176.0,1442.1 2192.7,1410.7 2209.4,1375.4 2226.1,1338.4 2242.8,1301.9 2259.5,1268.4 2276.2,1239.3 2292.9,1215.3 2309.6,1196.5 2326.3,1182.2 2343.0,1171.5 2359.7,1163.8 2376.4,1158.3 2393.1,1154.4 2409.8,1151.6 2426.5,1149.7 2443.2,1148.3 2459.9,1147.4 2476.6,1146.7 2493.3,1146.3 2510.0,1146.0 2526.7,1145.8 2543.4,1145.6 2560.1,1145.5 2576.8,1145.4 2593.5,1145.4 2610.2,1145.3 2626.9,1145.3 2643.6,1145.3 2660.3,1145.3 2677.0,1145.3 2693.7,1145.3 2710.4,1145.3 2727.1,1145.3 2743.8,1145.3 2760.5,1145.3 2777.2,1145.3 2793.9,1145.3 2810.6,1145.3 2827.3,1145.3 2844.0,1145.3 2860.7,1145.3 2877.4,1145.3 2894.1,1145.3 2910.8,1145.3 2927.5,1145.3 2944.2,1145.3 2960.9,1145.3"/>
<polyline class="b" points="2109.2,1517.7 2125.9,1504.1 2142.6,1486.4 2159.3,1464.1 2176.0,1437.0 2192.7,1405.8 2209.4,1371.5 2226.1,1336.0 2242.8,1301.6 2259.5,1269.9 2276.2,1242.5 2292.9,1219.7 2309.6,1201.6 2326.3,1187.6 2343.0,1177.1 2359.7,1169.3 2376.4,1163.6 2393.1,1159.5 2409.8,1156.6 2426.5,1154.5 2443.2,1153.0 2459.9,1151.9 2476.6,1151.2 2493.3,1150.6 2510.0,1150.3 2526.7,1150.0 2543.4,1149.8 2560.1,1149.7 2576.8,1149.6 2593.5,1149.5 2610.2,1149.5 2626.9,1149.5 2643.6,1149.4 2660.3,1149.4 2677.0,1149.4 2693.7,1149.4 2710.4,1149.4 2727.1,1149.4 2743.8,1149.4 2760.5,1149.4 2777.2,1149.4 2793.9,1149.4 2810.6,1149.4 2827.3,1149.4 2844.0,1149.4 2860.7,1149.4 2877.4,1149.4 2894.1,1149.4 2910.8,1149.4 2927.5,1149.4 2944.2,1149.4 2960.9,1149.4"/>
<polyline class="b" points="2109.2,1520.2 2125.9,1509.7 2142.6,1495.7 2159.3,1477.6 2176.0,1454.9 2192.7,1427.6 2209.4,1396.2 2226.1,1362.3 2242.8,1327.7 2259.5,1294.6 2276.2,1264.7 2292.9,1239.2 2309.6,1218.3 2326.3,1202.0 2343.0,1189.5 2359.7,1180.2 2376.4,1173.4 2393.1,1168.4 2409.8,1164.9 2426.5,1162.4 2443.2,1160.6 2459.9,1159.3 2476.6,1158.4 2493.3,1157.8 2510.0,1157.4 2526.7,1157.1 2543.4,1156.8 2560.1,1156.7 2576.8,1156.6 2593.5,1156.5 2610.2,1156.5 2626.9,1156.4 2643.6,1156.4 2660.3,1156.4 2677.0,1156.4 2693.7,1156.4 2710.4,1156.4 2727.1,1156.3 2743.8,1156.3 2760.5,1156.3 2777.2,1156.3 2793.9,1156.3 2810.6,1156.3 2827.3,1156.3 2844.0,1156.3 2860.7,1156.3 2877.4,1156.3 2894.1,1156.3 2910.8,1156.3 2927.5,1156.3 2944.2,1156.3 2960.9,1156.3"/>
<polyline class="o" points="2109.2,1515.7 2125.9,1516.1 2142.6,1516.6 2159.3,1517.3 2176.0,1518.2 2192.7,1519.3 2209.4,1520.5 2226.1,1521.8 2242.8,1523.1 2259.5,1524.2 2276.2,1525.2 2292.9,1525.9 2309.6,1526.5 2326.3,1526.9 2343.0,1527.2 2359.7,1527.4 2376.4,1527.6 2393.1,1527.7 2409.8,1527.8 2426.5,1527.8 2443.2,1527.8 2459.9,1527.9 2476.6,1527.9 2493.3,1527.9 2510.0,1527.9 2526.7,1527.9 2543.4,1527.9 2560.1,1527.9 2576.8,1527.9 2593.5,1527.9 2610.2,1527.9 2626.9,1527.9 2643.6,1527.9 2660.3,1527.9 2677.0,1527.9 2693.7,1527.9 2710.4,1527.9 2727.1,1527.9 2743.8,1527.9 2760.5,1527.9 2777.2,1527.9 2793.9,1527.9 2810.6,1527.9 2827.3,1527.9 2844.0,1527.9 2860.7,1527.9 2877.4,1527.9 2894.1,1527.9 2910.8,1527.9 2927.5,1527.9 2944.2,1527.9 2960.9,1527.9"/>
<polyline class="o" points="2109.2,1514.1 2125.9,1514.6 2142.6,1515.2 2159.3,1516.0 2176.0,1516.9 2192.7,1518.0 2209.4,1519.3 2226.1,1520.5 2242.8,1521.8 2259.5,1523.0 2276.2,1524.1 2292.9,1525.0 2309.6,1525.7 2326.3,1526.3 2343.0,1526.7 2359.7,1527.0 2376.4,1527.3 2393.1,1527.5 2409.8,1527.6 2426.5,1527.7 2443.2,1527.7 2459.9,1527.8 2476.6,1527.8 2493.3,1527.8 2510.0,1527.9 2526.7,1527.9 2543.4,1527.9 2560.1,1527.9 2576.8,1527.9 2593.5,1527.9 2610.2,1527.9 2626.9,1527.9 2643.6,1527.9 2660.3,1527.9 2677.0,1527.9 2693.7,1527.9 2710.4,1527.9 2727.1,1527.9 2743.8,1527.9 2760.5,1527.9 2777.2,1527.9 2793.9,1527.9 2810.6,1527.9 2827.3,1527.9 2844.0,1527.9 2860.7,1527.9 2877.4,1527.9 2894.1,1527.9 2910.8,1527.9 2927.5,1527.9 2944.2,1527.9 2960.9,1527.9"/>
<polyline class="o" points="2109.2,1516.6 2125.9,1517.0 2142.6,1517.4 2159.3,1518.0 2176.0,1518.7 2192.7,1519.5 2209.4,1520.5 2226.1,1521.5 2242.8,1522.6 2259.5,1523.6 2276.2,1524.5 2292.9,1525.3 2309.6,1526.0 2326.3,1526.5 2343.0,1526.9 2359.7,1527.1 2376.4,1527.4 2393.1,1527.5 2409.8,1527.6 2426.5,1527.7 2443.2,1527.8 2459.9,1527.8 2476.6,1527.8 2493.3,1527.9 2510.0,1527.9 2526.7,1527.9 2543.4,1527.9 2560.1,1527.9 2576.8,1527.9 2593.5,1527.9 2610.2,1527.9 2626.9,1527.9 2643.6,1527.9 2660.3,1527.9 2677.0,1527.9 2693.7,1527.9 2710.4,1527.9 2727.1,1527.9 2743.8,1527.9 2760.5,1527.9 2777.2,1527.9 2793.9,1527.9 2810.6,1527.9 2827.3,1527.9 2844.0,1527.9 2860.7,1527.9 2877.4,1527.9 2894.1,1527.9 2910.8,1527.9 2927.5,1527.9 2944.2,1527.9 2960.9,1527.9"/>
<polyline class="o" points="2109.2,1515.8 2125.9,1516.2 2142.6,1516.7 2159.3,1517.3 2176.0,1518.1 2192.7,1519.0 2209.4,1520.0 2226.1,1521.1 2242.8,1522.2 2259.5,1523.2 2276.2,1524.2 2292.9,1525.0 2309.6,1525.7 2326.3,1526.2 2343.0,1526.7 2359.7,1527.0 2376.4,1527.2 2393.1,1527.4 2409.8,1527.6 2426.5,1527.7 2443.2,1527.7 2459.9,1527.8 2476.6,1527.8 2493.3,1527.8 2510.0,1527.9 2526.7,1527.9 2543.4,1527.9 2560.1,1527.9 2576.8,1527.9 2593.5,1527.9 2610.2,1527.9 2626.9,1527.9 2643.6,1527.9 2660.3,1527.9 2677.0,1527.9 2693.7,1527.9 2710.4,1527.9 2727.1,1527.9 2743.8,1527.9 2760.5,1527.9 2777.2,1527.9 2793.9,1527.9 2810.6,1527.9 2827.3,1527.9 2844.0,1527.9 2860.7,1527.9 2877.4,1527.9 2894.1,1527.9 2910.8,1527.9 2927.5,1527.9 2944.2,1527.9 2960.9,1527.9"/>
<polyline class="o" points="2109.2,1517.8 2125.9,1518.1 2142.6,1518.5 2159.3,1519.0 2176.0,1519.6 2192.7,1520.4 2209.4,1521.2 2226.1,1522.2 2242.8,1523.1 2259.5,1524.1 2276.2,1524.9 2292.9,1525.6 2309.6,1526.2 2326.3,1526.7 2343.0,1527.0 2359.7,1527.3 2376.4,1527.4 2393.1,1527.6 2409.8,1527.7 2426.5,1527.7 2443.2,1527.8 2459.9,1527.8 2476.6,1527.8 2493.3,1527.9 2510.0,1527.9 2526.7,1527.9 2543.4,1527.9 2560.1,1527.9 2576.8,1527.9 2593.5,1527.9 2610.2,1527.9 2626.9,1527.9 2643.6,1527.9 2660.3,1527.9 2677.0,1527.9 2693.7,1527.9 2710.4,1527.9 2727.1,1527.9 2743.8,1527.9 2760.5,1527.9 2777.2,1527.9 2793.9,1527.9 2810.6,1527.9 2827.3,1527.9 2844.0,1527.9 2860.7,1527.9 2877.4,1527.9 2894.1,1527.9 2910.8,1527.9 2927.5,1527.9 2944.2,1527.9 2960.9,1527.9"/>
<polyline class="o" points="2109.2,1517.2 2125.9,1517.5 2142.6,1517.9 2159.3,1518.5 2176.0,1519.1 2192.7,1519.9 2209.4,1520.9 2226.1,1521.9 2242.8,1522.9 2259.5,1523.8 2276.2,1524.7 2292.9,1525.5 2309.6,1526.1 2326.3,1526.5 2343.0,1526.9 2359.7,1527.2 2376.4,1527.4 2393.1,1527.5 2409.8,1527.6 2426.5,1527.7 2443.2,1527.8 2459.9,1527.8 2476.6,1527.8 2493.3,1527.9 2510.0,1527.9 2526.7,1527.9 2543.4,1527.9 2560.1,1527.9 2576.8,1527.9 2593.5,1527.9 2610.2,1527.9 2626.9,1527.9 2643.6,1527.9 2660.3,1527.9 2677.0,1527.9 2693.7,1527.9 2710.4,1527.9 2727.1,1527.9 2743.8,1527.9 2760.5,1527.9 2777.2,1527.9 2793.9,1527.9 2810.6,1527.9 2827.3,1527.9 2844.0,1527.9 2860.7,1527.9 2877.4,1527.9 2894.1,1527.9 2910.8,1527.9 2927.5,1527.9 2944.2,1527.9 2960.9,1527.9"/>
<polyline class="o" points="2109.2,1515.7 2125.9,1516.1 2142.6,1516.7 2159.3,1517.3 2176.0,1518.1 2192.7,1519.1 2209.4,1520.1 2226.1,1521.2 2242.8,1522.3 2259.5,1523.3 2276.2,1524.2 2292.9,1525.0 2309.6,1525.7 2326.3,1526.3 2343.0,1526.7 2359.7,1527.0 2376.4,1527.2 2393.1,1527.4 2409.8,1527.5 2426.5,1527.6 2443.2,1527.7 2459.9,1527.8 2476.6,1527.8 2493.3,1527.8 2510.0,1527.8 2526.7,1527.9 2543.4,1527.9 2560.1,1527.9 2576.8,1527.9 2593.5,1527.9 2610.2,1527.9 2626.9,1527.9 2643.6,1527.9 2660.3,1527.9 2677.0,1527.9 2693.7,1527.9 2710.4,1527.9 2727.1,1527.9 2743.8,1527.9 2760.5,1527.9 2777.2,1527.9 2793.9,1527.9 2810.6,1527.9 2827.3,1527.9 2844.0,1527.9 2860.7,1527.9 2877.4,1527.9 2894.1,1527.9 2910.8,1527.9 2927.5,1527.9 2944.2,1527.9 2960.9,1527.9"/>
<polyline class="o" points="2109.2,1518.8 2125.9,1519.0 2142.6,1519.4 2159.3,1519.8 2176.0,1520.4 2192.7,1521.1 2209.4,1521.9 2226.1,1522.8 2242.8,1523.7 2259.5,1524.5 2276.2,1525.3 2292.9,1525.9 2309.6,1526.5 2326.3,1526.8 2343.0,1527.1 2359.7,1527.4 2376.4,1527.5 2393.1,1527.6 2409.8,1527.7 2426.5,1527.8 2443.2,1527.8 2459.9,1527.8 2476.6,1527.9 2493.3,1527.9 2510.0,1527.9 2526.7,1527.9 2543.4,1527.9 2560.1,1527.9 2576.8,1527.9 2593.5,1527.9 2610.2,1527.9 2626.9,1527.9 2643.6,1527.9 2660.3,1527.9 2677.0,1527.9 2693.7,1527.9 2710.4,1527.9 2727.1,1527.9 2743.8,1527.9 2760.5,1527.9 2777.2,1527.9 2793.9,1527.9 2810.6,1527.9 2827.3,1527.9 2844.0,1527.9 2860.7,1527.9 2877.4,1527.9 2894.1,1527.9 2910.8,1527.9 2927.5,1527.9 2944.2,1527.9 2960.9,1527.9"/>
<polyline class="o" points="2109.2,1517.6 2125.9,1517.9 2142.6,1518.3 2159.3,1518.9 2176.0,1519.6 2192.7,1520.4 2209.4,1521.3 2226.1,1522.3 2242.8,1523.2 2259.5,1524.1 2276.2,1525.0 2292.9,1525.7 2309.6,1526.2 2326.3,1526.7 2343.0,1527.0 2359.7,1527.3 2376.4,1527.4 2393.1,1527.6 2409.8,1527.7 2426.5,1527.7 2443.2,1527.8 2459.9,1527.8 2476.6,1527.8 2493.3,1527.9 2510.0,1527.9 2526.7,1527.9 2543.4,1527.9 2560.1,1527.9 2576.8,1527.9 2593.5,1527.9 2610.2,1527.9 2626.9,1527.9 2643.6,1527.9 2660.3,1527.9 2677.0,1527.9 2693.7,1527.9 2710.4,1527.9 2727.1,1527.9 2743.8,1527.9 2760.5,1527.9 2777.2,1527.9 2793.9,1527.9 2810.6,1527.9 2827.3,1527.9 2844.0,1527.9 2860.7,1527.9 2877.4,1527.9 2894.1,1527.9 2910.8,1527.9 2927.5,1527.9 2944.2,1527.9 2960.9,1527.9"/>
<polyline class="o" points="2109.2,1520.1 2125.9,1520.3 2142.6,1520.6 2159.3,1520.9 2176.0,1521.3 2192.7,1521.9 2209.4,1522.5 2226.1,1523.2 2242.8,1523.9 2259.5,1524.6 2276.2,1525.3 2292.9,1525.9 2309.6,1526.4 2326.3,1526.8 2343.0,1527.1 2359.7,1527.3 2376.4,1527.5 2393.1,1527.6 2409.8,1527.7 2426.5,1527.7 2443.2,1527.8 2459.9,1527.8 2476.6,1527.8 2493.3,1527.9 2510.0,1527.9 2526.7,1527.9 2543.4,1527.9 2560.1,1527.9 2576.8,1527.9 2593.5,1527.9 2610.2,1527.9 2626.9,1527.9 2643.6,1527.9 2660.3,1527.9 2677.0,1527.9 2693.7,1527.9 2710.4,1527.9 2727.1,1527.9 2743.8,1527.9 2760.5,1527.9 2777.2,1527.9 2793.9,1527.9 2810.6,1527.9 2827.3,1527.9 2844.0,1527.9 2860.7,1527.9 2877.4,1527.9 2894.1,1527.9 2910.8,1527.9 2927.5,1527.9 2944.2,1527.9 2960.9,1527.9"/>
<polyline class="gr" points="2109.2,1527.9 2125.9,1522.7 2142.6,1516.0 2159.3,1508.1 2176.0,1499.7 2192.7,1492.0 2209.4,1486.6 2226.1,1484.7 2242.8,1486.6 2259.5,1491.4 2276.2,1497.8 2292.9,1504.5 2309.6,1510.4 2326.3,1515.2 2343.0,1519.0 2359.7,1521.7 2376.4,1523.6 2393.1,1525.0 2409.8,1525.9 2426.5,1526.6 2443.2,1527.0 2459.9,1527.3 2476.6,1527.5 2493.3,1527.6 2510.0,1527.7 2526.7,1527.8 2543.4,1527.8 2560.1,1527.8 2576.8,1527.9 2593.5,1527.9 2610.2,1527.9 2626.9,1527.9 2643.6,1527.9 2660.3,1527.9 2677.0,1527.9 2693.7,1527.9 2710.4,1527.9 2727.1,1527.9 2743.8,1527.9 2760.5,1527.9 2777.2,1527.9 2793.9,1527.9 2810.6,1527.9 2827.3,1527.9 2844.0,1527.9 2860.7,1527.9 2877.4,1527.9 2894.1,1527.9 2910.8,1527.9 2927.5,1527.9 2944.2,1527.9 2960.9,1527.9"/>
<polyline class="gr" points="2109.2,1527.9 2125.9,1523.1 2142.6,1517.3 2159.3,1510.8 2176.0,1504.2 2192.7,1498.2 2209.4,1493.7 2226.1,1491.5 2242.8,1491.8 2259.5,1494.4 2276.2,1498.6 2292.9,1503.5 2309.6,1508.3 2326.3,1512.7 2343.0,1516.4 2359.7,1519.3 2376.4,1521.6 2393.1,1523.3 2409.8,1524.6 2426.5,1525.5 2443.2,1526.2 2459.9,1526.7 2476.6,1527.0 2493.3,1527.3 2510.0,1527.5 2526.7,1527.6 2543.4,1527.7 2560.1,1527.7 2576.8,1527.8 2593.5,1527.8 2610.2,1527.8 2626.9,1527.9 2643.6,1527.9 2660.3,1527.9 2677.0,1527.9 2693.7,1527.9 2710.4,1527.9 2727.1,1527.9 2743.8,1527.9 2760.5,1527.9 2777.2,1527.9 2793.9,1527.9 2810.6,1527.9 2827.3,1527.9 2844.0,1527.9 2860.7,1527.9 2877.4,1527.9 2894.1,1527.9 2910.8,1527.9 2927.5,1527.9 2944.2,1527.9 2960.9,1527.9"/>
<polyline class="gr" points="2109.2,1527.9 2125.9,1523.7 2142.6,1518.6 2159.3,1512.6 2176.0,1506.1 2192.7,1499.8 2209.4,1494.7 2226.1,1491.6 2242.8,1491.0 2259.5,1492.9 2276.2,1496.8 2292.9,1501.7 2309.6,1506.7 2326.3,1511.4 2343.0,1515.4 2359.7,1518.6 2376.4,1521.1 2393.1,1523.0 2409.8,1524.4 2426.5,1525.4 2443.2,1526.1 2459.9,1526.6 2476.6,1527.0 2493.3,1527.3 2510.0,1527.5 2526.7,1527.6 2543.4,1527.7 2560.1,1527.7 2576.8,1527.8 2593.5,1527.8 2610.2,1527.8 2626.9,1527.9 2643.6,1527.9 2660.3,1527.9 2677.0,1527.9 2693.7,1527.9 2710.4,1527.9 2727.1,1527.9 2743.8,1527.9 2760.5,1527.9 2777.2,1527.9 2793.9,1527.9 2810.6,1527.9 2827.3,1527.9 2844.0,1527.9 2860.7,1527.9 2877.4,1527.9 2894.1,1527.9 2910.8,1527.9 2927.5,1527.9 2944.2,1527.9 2960.9,1527.9"/>
<polyline class="gr" points="2109.2,1527.9 2125.9,1523.8 2142.6,1518.8 2159.3,1513.2 2176.0,1507.3 2192.7,1501.8 2209.4,1497.4 2226.1,1494.8 2242.8,1494.4 2259.5,1496.1 2276.2,1499.3 2292.9,1503.5 2309.6,1507.9 2326.3,1512.1 2343.0,1515.7 2359.7,1518.6 2376.4,1521.0 2393.1,1522.8 2409.8,1524.2 2426.5,1525.2 2443.2,1525.9 2459.9,1526.5 2476.6,1526.9 2493.3,1527.2 2510.0,1527.4 2526.7,1527.5 2543.4,1527.6 2560.1,1527.7 2576.8,1527.8 2593.5,1527.8 2610.2,1527.8 2626.9,1527.8 2643.6,1527.9 2660.3,1527.9 2677.0,1527.9 2693.7,1527.9 2710.4,1527.9 2727.1,1527.9 2743.8,1527.9 2760.5,1527.9 2777.2,1527.9 2793.9,1527.9 2810.6,1527.9 2827.3,1527.9 2844.0,1527.9 2860.7,1527.9 2877.4,1527.9 2894.1,1527.9 2910.8,1527.9 2927.5,1527.9 2944.2,1527.9 2960.9,1527.9"/>
<polyline class="gr" points="2109.2,1527.9 2125.9,1524.0 2142.6,1519.2 2159.3,1513.5 2176.0,1507.2 2192.7,1501.0 2209.4,1496.0 2226.1,1492.9 2242.8,1492.3 2259.5,1494.3 2276.2,1498.1 2292.9,1503.0 2309.6,1508.0 2326.3,1512.5 2343.0,1516.4 2359.7,1519.4 2376.4,1521.8 2393.1,1523.5 2409.8,1524.8 2426.5,1525.7 2443.2,1526.4 2459.9,1526.8 2476.6,1527.1 2493.3,1527.4 2510.0,1527.5 2526.7,1527.6 2543.4,1527.7 2560.1,1527.8 2576.8,1527.8 2593.5,1527.8 2610.2,1527.9 2626.9,1527.9 2643.6,1527.9 2660.3,1527.9 2677.0,1527.9 2693.7,1527.9 2710.4,1527.9 2727.1,1527.9 2743.8,1527.9 2760.5,1527.9 2777.2,1527.9 2793.9,1527.9 2810.6,1527.9 2827.3,1527.9 2844.0,1527.9 2860.7,1527.9 2877.4,1527.9 2894.1,1527.9 2910.8,1527.9 2927.5,1527.9 2944.2,1527.9 2960.9,1527.9"/>
<polyline class="gr" points="2109.2,1527.9 2125.9,1524.0 2142.6,1519.2 2159.3,1513.7 2176.0,1507.7 2192.7,1502.1 2209.4,1497.5 2226.1,1494.9 2242.8,1494.5 2259.5,1496.4 2276.2,1499.9 2292.9,1504.3 2309.6,1508.9 2326.3,1513.1 2343.0,1516.6 2359.7,1519.5 2376.4,1521.8 2393.1,1523.5 2409.8,1524.7 2426.5,1525.6 2443.2,1526.3 2459.9,1526.7 2476.6,1527.1 2493.3,1527.3 2510.0,1527.5 2526.7,1527.6 2543.4,1527.7 2560.1,1527.8 2576.8,1527.8 2593.5,1527.8 2610.2,1527.8 2626.9,1527.9 2643.6,1527.9 2660.3,1527.9 2677.0,1527.9 2693.7,1527.9 2710.4,1527.9 2727.1,1527.9 2743.8,1527.9 2760.5,1527.9 2777.2,1527.9 2793.9,1527.9 2810.6,1527.9 2827.3,1527.9 2844.0,1527.9 2860.7,1527.9 2877.4,1527.9 2894.1,1527.9 2910.8,1527.9 2927.5,1527.9 2944.2,1527.9 2960.9,1527.9"/>
<polyline class="gr" points="2109.2,1527.9 2125.9,1523.9 2142.6,1519.1 2159.3,1513.9 2176.0,1508.5 2192.7,1503.6 2209.4,1499.8 2226.1,1497.7 2242.8,1497.5 2259.5,1499.2 2276.2,1502.2 2292.9,1506.0 2309.6,1509.9 2326.3,1513.6 2343.0,1516.8 2359.7,1519.5 2376.4,1521.6 2393.1,1523.2 2409.8,1524.5 2426.5,1525.4 2443.2,1526.1 2459.9,1526.6 2476.6,1526.9 2493.3,1527.2 2510.0,1527.4 2526.7,1527.5 2543.4,1527.6 2560.1,1527.7 2576.8,1527.8 2593.5,1527.8 2610.2,1527.8 2626.9,1527.8 2643.6,1527.9 2660.3,1527.9 2677.0,1527.9 2693.7,1527.9 2710.4,1527.9 2727.1,1527.9 2743.8,1527.9 2760.5,1527.9 2777.2,1527.9 2793.9,1527.9 2810.6,1527.9 2827.3,1527.9 2844.0,1527.9 2860.7,1527.9 2877.4,1527.9 2894.1,1527.9 2910.8,1527.9 2927.5,1527.9 2944.2,1527.9 2960.9,1527.9"/>
<polyline class="gr" points="2109.2,1527.9 2125.9,1524.3 2142.6,1519.8 2159.3,1514.4 2176.0,1508.6 2192.7,1502.8 2209.4,1498.2 2226.1,1495.4 2242.8,1495.2 2259.5,1497.3 2276.2,1501.1 2292.9,1505.7 2309.6,1510.3 2326.3,1514.5 2343.0,1517.9 2359.7,1520.7 2376.4,1522.7 2393.1,1524.2 2409.8,1525.3 2426.5,1526.1 2443.2,1526.6 2459.9,1527.0 2476.6,1527.3 2493.3,1527.5 2510.0,1527.6 2526.7,1527.7 2543.4,1527.8 2560.1,1527.8 2576.8,1527.8 2593.5,1527.9 2610.2,1527.9 2626.9,1527.9 2643.6,1527.9 2660.3,1527.9 2677.0,1527.9 2693.7,1527.9 2710.4,1527.9 2727.1,1527.9 2743.8,1527.9 2760.5,1527.9 2777.2,1527.9 2793.9,1527.9 2810.6,1527.9 2827.3,1527.9 2844.0,1527.9 2860.7,1527.9 2877.4,1527.9 2894.1,1527.9 2910.8,1527.9 2927.5,1527.9 2944.2,1527.9 2960.9,1527.9"/>
<polyline class="gr" points="2109.2,1527.9 2125.9,1524.1 2142.6,1519.6 2159.3,1514.4 2176.0,1508.9 2192.7,1503.7 2209.4,1499.7 2226.1,1497.6 2242.8,1497.6 2259.5,1499.6 2276.2,1503.0 2292.9,1507.1 2309.6,1511.2 2326.3,1515.0 2343.0,1518.2 2359.7,1520.7 2376.4,1522.6 2393.1,1524.1 2409.8,1525.2 2426.5,1526.0 2443.2,1526.5 2459.9,1526.9 2476.6,1527.2 2493.3,1527.4 2510.0,1527.6 2526.7,1527.7 2543.4,1527.7 2560.1,1527.8 2576.8,1527.8 2593.5,1527.8 2610.2,1527.9 2626.9,1527.9 2643.6,1527.9 2660.3,1527.9 2677.0,1527.9 2693.7,1527.9 2710.4,1527.9 2727.1,1527.9 2743.8,1527.9 2760.5,1527.9 2777.2,1527.9 2793.9,1527.9 2810.6,1527.9 2827.3,1527.9 2844.0,1527.9 2860.7,1527.9 2877.4,1527.9 2894.1,1527.9 2910.8,1527.9 2927.5,1527.9 2944.2,1527.9 2960.9,1527.9"/>
<polyline class="gr" points="2109.2,1527.9 2125.9,1524.9 2142.6,1521.2 2159.3,1516.6 2176.0,1511.5 2192.7,1506.3 2209.4,1501.6 2226.1,1498.3 2242.8,1496.9 2259.5,1497.7 2276.2,1500.3 2292.9,1504.1 2309.6,1508.4 2326.3,1512.5 2343.0,1516.2 2359.7,1519.1 2376.4,1521.5 2393.1,1523.2 2409.8,1524.6 2426.5,1525.5 2443.2,1526.2 2459.9,1526.7 2476.6,1527.1 2493.3,1527.3 2510.0,1527.5 2526.7,1527.6 2543.4,1527.7 2560.1,1527.8 2576.8,1527.8 2593.5,1527.8 2610.2,1527.9 2626.9,1527.9 2643.6,1527.9 2660.3,1527.9 2677.0,1527.9 2693.7,1527.9 2710.4,1527.9 2727.1,1527.9 2743.8,1527.9 2760.5,1527.9 2777.2,1527.9 2793.9,1527.9 2810.6,1527.9 2827.3,1527.9 2844.0,1527.9 2860.7,1527.9 2877.4,1527.9 2894.1,1527.9 2910.8,1527.9 2927.5,1527.9 2944.2,1527.9 2960.9,1527.9"/>
<polyline class="k" points="2109.2,1527.4 2125.9,1511.7 2142.6,1497.5 2159.3,1492.0 2176.0,1445.8 2192.7,1383.2 2209.4,1365.1 2226.1,1336.6 2242.8,1232.3 2259.5,1210.0 2276.2,1188.4 2292.9,1156.9 2309.6,1145.1 2326.3,1121.5 2343.0,1100.8 2359.7,1085.1 2376.4,1077.2 2393.1,1070.3 2409.8,1062.1 2426.5,1060.1 2443.2,1059.5 2459.9,1059.0 2476.6,1058.5 2493.3,1058.5 2510.0,1058.4 2526.7,1058.4 2543.4,1058.4 2560.1,1058.4 2576.8,1058.4 2593.5,1058.4 2610.2,1058.3 2626.9,1058.3 2643.6,1058.3 2660.3,1058.3 2677.0,1058.3 2693.7,1058.3 2710.4,1058.3 2727.1,1058.3 2743.8,1058.3 2760.5,1058.3 2777.2,1058.3 2793.9,1058.3 2810.6,1058.3 2827.3,1058.3 2844.0,1058.3 2860.7,1058.3 2877.4,1058.3 2894.1,1058.3 2910.8,1058.3 2927.5,1058.3 2944.2,1058.3 2960.9,1058.3"/>
</g>
<g id="p6">
<rect x="153.0" y="1626.0" width="937.0" height="678.0" fill="#eeeeee"/>
<path class="g" d="M196 1626.0V2304.0M363 1626.0V2304.0M530 1626.0V2304.0M697 1626.0V2304.0M864 1626.0V2304.0M1031 1626.0V2304.0M153.0 2273H1090.0M153.0 2120H1090.0M153.0 1968H1090.0M153.0 1815H1090.0M153.0 1662H1090.0"/>
<text class="ti" x="621.5" y="1610.2" text-anchor="middle">product=P6</text>
<text class="tk" x="143.7" y="2287.5" text-anchor="end">0</text>
<text class="tk" x="143.7" y="2134.8" text-anchor="end">20000</text>
<text class="tk" x="143.7" y="1982.0" text-anchor="end">40000</text>
<text class="tk" x="143.7" y="1829.2" text-anchor="end">60000</text>
<text class="tk" x="143.7" y="1676.5" text-anchor="end">80000</text>
<text class="tk" x="195.8" y="2344.0" text-anchor="middle">0</text>
<text class="tk" x="362.8" y="2344.0" text-anchor="middle">10</text>
<text class="tk" x="529.8" y="2344.0" text-anchor="middle">20</text>
<text class="tk" x="696.8" y="2344.0" text-anchor="middle">30</text>
<text class="tk" x="863.8" y="2344.0" text-anchor="middle">40</text>
<text class="tk" x="1030.8" y="2344.0" text-anchor="middle">50</text>
<text class="xl" x="622.7" y="2394.2" text-anchor="middle">T</text>
<polygon class="hd" points="195.8,2255.2 212.5,2235.6 229.2,2205.0 245.9,2164.7 262.6,2111.6 279.3,2050.6 296.0,1987.6 312.7,1938.8 329.4,1895.5 346.1,1860.1 362.8,1837.5 379.5,1822.7 396.2,1811.9 412.9,1802.5 429.6,1799.1 446.3,1796.2 463.0,1794.6 479.7,1794.8 496.4,1794.4 513.1,1794.0 529.8,1793.8 546.5,1793.7 563.2,1793.7 579.9,1793.6 596.6,1793.6 613.3,1793.6 630.0,1793.6 646.7,1793.6 663.4,1793.6 680.1,1793.6 696.8,1793.6 713.5,1793.6 730.2,1793.6 746.9,1793.6 763.6,1793.6 780.3,1793.6 797.0,1793.6 813.7,1793.6 830.4,1793.6 847.1,1793.6 863.8,1793.6 880.5,1793.6 897.2,1793.6 913.9,1793.6 930.6,1793.6 947.3,1793.6 964.0,1793.6 980.7,1793.6 997.4,1793.6 1014.1,1793.6 1030.8,1793.6 1047.5,1793.6 1047.5,1928.1 1030.8,1928.1 1014.1,1928.1 997.4,1928.1 980.7,1928.1 964.0,1928.1 947.3,1928.1 930.6,1928.1 913.9,1928.1 897.2,1928.1 880.5,1928.1 863.8,1928.1 847.1,1928.1 830.4,1928.1 813.7,1928.1 797.0,1928.1 780.3,1928.1 763.6,1928.1 746.9,1928.1 730.2,1928.1 713.5,1928.1 696.8,1928.1 680.1,1928.1 663.4,1928.1 646.7,1928.1 630.0,1928.1 613.3,1928.1 596.6,1928.1 579.9,1928.2 563.2,1928.3 546.5,1928.4 529.8,1928.6 513.1,1929.0 496.4,1929.4 479.7,1930.0 463.0,1929.6 446.3,1931.0 429.6,1933.3 412.9,1936.9 396.2,1945.7 379.5,1954.6 362.8,1967.5 346.1,1985.7 329.4,2010.2 312.7,2044.7 296.0,2088.0 279.3,2133.2 262.6,2174.5 245.9,2209.0 229.2,2237.5 212.5,2257.2 195.8,2269.0"/>
<polyline class="b" points="195.8,2257.3 212.5,2234.6 229.2,2203.0 245.9,2161.6 262.6,2111.4 279.3,2055.9 296.0,2000.5 312.7,1950.5 329.4,1909.4 346.1,1878.0 362.8,1855.6 379.5,1840.1 396.2,1829.8 412.9,1823.0 429.6,1818.6 446.3,1815.8 463.0,1814.0 479.7,1812.9 496.4,1812.1 513.1,1811.7 529.8,1811.4 546.5,1811.2 563.2,1811.1 579.9,1811.0 596.6,1811.0 613.3,1811.0 630.0,1810.9 646.7,1810.9 663.4,1810.9 680.1,1810.9 696.8,1810.9 713.5,1810.9 730.2,1810.9 746.9,1810.9 763.6,1810.9 780.3,1810.9 797.0,1810.9 813.7,1810.9 830.4,1810.9 847.1,1810.9 863.8,1810.9 880.5,1810.9 897.2,1810.9 913.9,1810.9 930.6,1810.9 947.3,1810.9 964.0,1810.9 980.7,1810.9 997.4,1810.9 1014.1,1810.9 1030.8,1810.9 1047.5,1810.9"/>
<polyline class="b" points="195.8,2258.6 212.5,2238.2 229.2,2210.4 245.9,2174.4 262.6,2130.7 279.3,2081.9 296.0,2032.1 312.7,1985.7 329.4,1946.0 346.1,1914.5 362.8,1890.8 379.5,1873.9 396.2,1862.2 412.9,1854.2 429.6,1848.9 446.3,1845.4 463.0,1843.1 479.7,1841.6 496.4,1840.6 513.1,1840.0 529.8,1839.6 546.5,1839.3 563.2,1839.1 579.9,1839.0 596.6,1838.9 613.3,1838.9 630.0,1838.8 646.7,1838.8 663.4,1838.8 680.1,1838.8 696.8,1838.8 713.5,1838.8 730.2,1838.8 746.9,1838.8 763.6,1838.8 780.3,1838.8 797.0,1838.8 813.7,1838.8 830.4,1838.8 847.1,1838.8 863.8,1838.8 880.5,1838.8 897.2,1838.8 913.9,1838.8 930.6,1838.8 947.3,1838.8 964.0,1838.8 980.7,1838.8 997.4,1838.8 1014.1,1838.8 1030.8,1838.8 1047.5,1838.8"/>
<polyline class="b" points="195.8,2258.7 212.5,2237.5 229.2,2207.6 245.9,2167.8 262.6,2119.1 279.3,2065.4 296.0,2012.5 312.7,1965.8 329.4,1928.4 346.1,1900.8 362.8,1881.6 379.5,1868.7 396.2,1860.4 412.9,1855.1 429.6,1851.7 446.3,1849.6 463.0,1848.3 479.7,1847.5 496.4,1847.0 513.1,1846.7 529.8,1846.5 546.5,1846.4 563.2,1846.3 579.9,1846.3 596.6,1846.2 613.3,1846.2 630.0,1846.2 646.7,1846.2 663.4,1846.2 680.1,1846.2 696.8,1846.2 713.5,1846.2 730.2,1846.2 746.9,1846.2 763.6,1846.2 780.3,1846.2 797.0,1846.2 813.7,1846.2 830.4,1846.2 847.1,1846.2 863.8,1846.2 880.5,1846.2 897.2,1846.2 913.9,1846.2 930.6,1846.2 947.3,1846.2 964.0,1846.2 980.7,1846.2 997.4,1846.2 1014.1,1846.2 1030.8,1846.2 1047.5,1846.2"/>
<polyline class="b" points="195.8,2260.9 212.5,2243.0 229.2,2217.4 245.9,2182.7 262.6,2139.1 279.3,2089.3 296.0,2037.9 312.7,1990.5 329.4,1951.0 346.1,1920.7 362.8,1898.9 379.5,1884.0 396.2,1874.1 412.9,1867.8 429.6,1863.7 446.3,1861.1 463.0,1859.5 479.7,1858.4 496.4,1857.8 513.1,1857.4 529.8,1857.1 546.5,1857.0 563.2,1856.9 579.9,1856.8 596.6,1856.8 613.3,1856.8 630.0,1856.8 646.7,1856.7 663.4,1856.7 680.1,1856.7 696.8,1856.7 713.5,1856.7 730.2,1856.7 746.9,1856.7 763.6,1856.7 780.3,1856.7 797.0,1856.7 813.7,1856.7 830.4,1856.7 847.1,1856.7 863.8,1856.7 880.5,1856.7 897.2,1856.7 913.9,1856.7 930.6,1856.7 947.3,1856.7 964.0,1856.7 980.7,1856.7 997.4,1856.7 1014.1,1856.7 1030.8,1856.7 1047.5,1856.7"/>
<polyline class="b" points="195.8,2257.0 212.5,2234.4 229.2,2203.8 245.9,2164.9 262.6,2119.2 279.3,2070.3 296.0,2022.7 312.7,1980.8 329.4,1946.9 346.1,1921.2 362.8,1902.8 379.5,1890.1 396.2,1881.6 412.9,1876.0 429.6,1872.3 446.3,1869.9 463.0,1868.4 479.7,1867.4 496.4,1866.8 513.1,1866.4 529.8,1866.1 546.5,1866.0 563.2,1865.9 579.9,1865.8 596.6,1865.7 613.3,1865.7 630.0,1865.7 646.7,1865.7 663.4,1865.7 680.1,1865.7 696.8,1865.7 713.5,1865.7 730.2,1865.7 746.9,1865.7 763.6,1865.7 780.3,1865.7 797.0,1865.7 813.7,1865.7 830.4,1865.7 847.1,1865.7 863.8,1865.7 880.5,1865.7 897.2,1865.7 913.9,1865.7 930.6,1865.7 947.3,1865.7 964.0,1865.7 980.7,1865.7 997.4,1865.7 1014.1,1865.7 1030.8,1865.7 1047.5,1865.7"/>
<polyline class="b" points="195.8,2259.1 212.5,2239.7 229.2,2213.5 245.9,2179.9 262.6,2139.5 279.3,2094.7 296.0,2049.0 312.7,2006.5 329.4,1970.1 346.1,1941.1 362.8,1919.1 379.5,1903.3 396.2,1892.3 412.9,1884.7 429.6,1879.6 446.3,1876.3 463.0,1874.0 479.7,1872.5 496.4,1871.6 513.1,1870.9 529.8,1870.5 546.5,1870.2 563.2,1870.1 579.9,1869.9 596.6,1869.9 613.3,1869.8 630.0,1869.8 646.7,1869.8 663.4,1869.7 680.1,1869.7 696.8,1869.7 713.5,1869.7 730.2,1869.7 746.9,1869.7 763.6,1869.7 780.3,1869.7 797.0,1869.7 813.7,1869.7 830.4,1869.7 847.1,1869.7 863.8,1869.7 880.5,1869.7 897.2,1869.7 913.9,1869.7 930.6,1869.7 947.3,1869.7 964.0,1869.7 980.7,1869.7 997.4,1869.7 1014.1,1869.7 1030.8,1869.7 1047.5,1869.7"/>
<polyline class="b" points="195.8,2263.3 212.5,2249.1 229.2,2228.9 245.9,2201.5 262.6,2166.3 279.3,2124.7 296.0,2079.7 312.7,2035.6 329.4,1996.3 346.1,1964.3 362.8,1940.0 379.5,1922.5 396.2,1910.3 412.9,1902.2 429.6,1896.8 446.3,1893.3 463.0,1891.0 479.7,1889.5 496.4,1888.6 513.1,1888.0 529.8,1887.6 546.5,1887.3 563.2,1887.2 579.9,1887.1 596.6,1887.0 613.3,1887.0 630.0,1886.9 646.7,1886.9 663.4,1886.9 680.1,1886.9 696.8,1886.9 713.5,1886.9 730.2,1886.9 746.9,1886.9 763.6,1886.9 780.3,1886.9 797.0,1886.9 813.7,1886.9 830.4,1886.9 847.1,1886.9 863.8,1886.9 880.5,1886.9 897.2,1886.9 913.9,1886.9 930.6,1886.9 947.3,1886.9 964.0,1886.9 980.7,1886.9 997.4,1886.9 1014.1,1886.9 1030.8,1886.9 1047.5,1886.9"/>
<polyline class="b" points="195.8,2258.7 212.5,2239.1 229.2,2213.4 245.9,2181.1 262.6,2143.0 279.3,2101.3 296.0,2059.2 312.7,2020.0 329.4,1986.1 346.1,1958.7 362.8,1937.7 379.5,1922.3 396.2,1911.3 412.9,1903.6 429.6,1898.3 446.3,1894.7 463.0,1892.3 479.7,1890.6 496.4,1889.6 513.1,1888.8 529.8,1888.3 546.5,1888.0 563.2,1887.8 579.9,1887.6 596.6,1887.6 613.3,1887.5 630.0,1887.4 646.7,1887.4 663.4,1887.4 680.1,1887.4 696.8,1887.4 713.5,1887.4 730.2,1887.4 746.9,1887.4 763.6,1887.4 780.3,1887.4 797.0,1887.4 813.7,1887.4 830.4,1887.4 847.1,1887.4 863.8,1887.4 880.5,1887.4 897.2,1887.4 913.9,1887.4 930.6,1887.4 947.3,1887.4 964.0,1887.4 980.7,1887.4 997.4,1887.4 1014.1,1887.4 1030.8,1887.4 1047.5,1887.4"/>
<polyline class="b" points="195.8,2258.9 212.5,2239.6 229.2,2214.0 245.9,2181.9 262.6,2143.9 279.3,2102.5 296.0,2060.7 312.7,2022.0 329.4,1988.7 346.1,1962.0 362.8,1941.6 379.5,1926.8 396.2,1916.2 412.9,1908.9 429.6,1903.9 446.3,1900.5 463.0,1898.2 479.7,1896.7 496.4,1895.7 513.1,1895.0 529.8,1894.6 546.5,1894.3 563.2,1894.1 579.9,1894.0 596.6,1893.9 613.3,1893.8 630.0,1893.8 646.7,1893.7 663.4,1893.7 680.1,1893.7 696.8,1893.7 713.5,1893.7 730.2,1893.7 746.9,1893.7 763.6,1893.7 780.3,1893.7 797.0,1893.7 813.7,1893.7 830.4,1893.7 847.1,1893.7 863.8,1893.7 880.5,1893.7 897.2,1893.7 913.9,1893.7 930.6,1893.7 947.3,1893.7 964.0,1893.7 980.7,1893.7 997.4,1893.7 1014.1,1893.7 1030.8,1893.7 1047.5,1893.7"/>
<polyline class="b" points="195.8,2260.5 212.5,2243.8 229.2,2221.9 245.9,2194.5 262.6,2161.8 279.3,2125.1 296.0,2086.8 312.7,2049.6 329.4,2015.8 346.1,1987.0 362.8,1963.8 379.5,1945.9 396.2,1932.6 412.9,1922.9 429.6,1916.0 446.3,1911.1 463.0,1907.7 479.7,1905.3 496.4,1903.7 513.1,1902.6 529.8,1901.8 546.5,1901.3 563.2,1901.0 579.9,1900.7 596.6,1900.5 613.3,1900.4 630.0,1900.4 646.7,1900.3 663.4,1900.3 680.1,1900.2 696.8,1900.2 713.5,1900.2 730.2,1900.2 746.9,1900.2 763.6,1900.2 780.3,1900.2 797.0,1900.2 813.7,1900.2 830.4,1900.2 847.1,1900.2 863.8,1900.2 880.5,1900.2 897.2,1900.2 913.9,1900.2 930.6,1900.2 947.3,1900.2 964.0,1900.2 980.7,1900.2 997.4,1900.2 1014.1,1900.2 1030.8,1900.2 1047.5,1900.2"/>
<polyline class="o" points="195.8,2257.1 212.5,2257.8 229.2,2258.7 245.9,2260.0 262.6,2261.6 279.3,2263.4 296.0,2265.4 312.7,2267.2 329.4,2268.8 346.1,2270.1 362.8,2271.0 379.5,2271.6 396.2,2272.1 412.9,2272.4 429.6,2272.6 446.3,2272.7 463.0,2272.8 479.7,2272.8 496.4,2272.8 513.1,2272.9 529.8,2272.9 546.5,2272.9 563.2,2272.9 579.9,2272.9 596.6,2272.9 613.3,2272.9 630.0,2272.9 646.7,2272.9 663.4,2272.9 680.1,2272.9 696.8,2272.9 713.5,2272.9 730.2,2272.9 746.9,2272.9 763.6,2272.9 780.3,2272.9 797.0,2272.9 813.7,2272.9 830.4,2272.9 847.1,2272.9 863.8,2272.9 880.5,2272.9 897.2,2272.9 913.9,2272.9 930.6,2272.9 947.3,2272.9 964.0,2272.9 980.7,2272.9 997.4,2272.9 1014.1,2272.9 1030.8,2272.9 1047.5,2272.9"/>
<polyline class="o" points="195.8,2258.4 212.5,2259.0 229.2,2259.8 245.9,2260.9 262.6,2262.2 279.3,2263.8 296.0,2265.5 312.7,2267.2 329.4,2268.6 346.1,2269.8 362.8,2270.8 379.5,2271.4 396.2,2271.9 412.9,2272.3 429.6,2272.5 446.3,2272.6 463.0,2272.7 479.7,2272.8 496.4,2272.8 513.1,2272.9 529.8,2272.9 546.5,2272.9 563.2,2272.9 579.9,2272.9 596.6,2272.9 613.3,2272.9 630.0,2272.9 646.7,2272.9 663.4,2272.9 680.1,2272.9 696.8,2272.9 713.5,2272.9 730.2,2272.9 746.9,2272.9 763.6,2272.9 780.3,2272.9 797.0,2272.9 813.7,2272.9 830.4,2272.9 847.1,2272.9 863.8,2272.9 880.5,2272.9 897.2,2272.9 913.9,2272.9 930.6,2272.9 947.3,2272.9 964.0,2272.9 980.7,2272.9 997.4,2272.9 1014.1,2272.9 1030.8,2272.9 1047.5,2272.9"/>
<polyline class="o" points="195.8,2258.5 212.5,2259.1 229.2,2260.0 245.9,2261.2 262.6,2262.7 279.3,2264.5 296.0,2266.3 312.7,2268.1 329.4,2269.5 346.1,2270.6 362.8,2271.4 379.5,2271.9 396.2,2272.3 412.9,2272.5 429.6,2272.7 446.3,2272.8 463.0,2272.8 479.7,2272.8 496.4,2272.9 513.1,2272.9 529.8,2272.9 546.5,2272.9 563.2,2272.9 579.9,2272.9 596.6,2272.9 613.3,2272.9 630.0,2272.9 646.7,2272.9 663.4,2272.9 680.1,2272.9 696.8,2272.9 713.5,2272.9 730.2,2272.9 746.9,2272.9 763.6,2272.9 780.3,2272.9 797.0,2272.9 813.7,2272.9 830.4,2272.9 847.1,2272.9 863.8,2272.9 880.5,2272.9 897.2,2272.9 913.9,2272.9 930.6,2272.9 947.3,2272.9 964.0,2272.9 980.7,2272.9 997.4,2272.9 1014.1,2272.9 1030.8,2272.9 1047.5,2272.9"/>
<polyline class="o" points="195.8,2260.8 212.5,2261.2 229.2,2261.9 245.9,2262.8 262.6,2263.9 279.3,2265.3 296.0,2266.8 312.7,2268.3 329.4,2269.6 346.1,2270.6 362.8,2271.4 379.5,2271.9 396.2,2272.3 412.9,2272.5 429.6,2272.6 446.3,2272.7 463.0,2272.8 479.7,2272.8 496.4,2272.9 513.1,2272.9 529.8,2272.9 546.5,2272.9 563.2,2272.9 579.9,2272.9 596.6,2272.9 613.3,2272.9 630.0,2272.9 646.7,2272.9 663.4,2272.9 680.1,2272.9 696.8,2272.9 713.5,2272.9 730.2,2272.9 746.9,2272.9 763.6,2272.9 780.3,2272.9 797.0,2272.9 813.7,2272.9 830.4,2272.9 847.1,2272.9 863.8,2272.9 880.5,2272.9 897.2,2272.9 913.9,2272.9 930.6,2272.9 947.3,2272.9 964.0,2272.9 980.7,2272.9 997.4,2272.9 1014.1,2272.9 1030.8,2272.9 1047.5,2272.9"/>
<polyline class="o" points="195.8,2256.8 212.5,2257.5 229.2,2258.6 245.9,2260.0 262.6,2261.7 279.3,2263.7 296.0,2265.6 312.7,2267.4 329.4,2269.0 346.1,2270.2 362.8,2271.1 379.5,2271.7 396.2,2272.1 412.9,2272.4 429.6,2272.6 446.3,2272.7 463.0,2272.8 479.7,2272.8 496.4,2272.8 513.1,2272.9 529.8,2272.9 546.5,2272.9 563.2,2272.9 579.9,2272.9 596.6,2272.9 613.3,2272.9 630.0,2272.9 646.7,2272.9 663.4,2272.9 680.1,2272.9 696.8,2272.9 713.5,2272.9 730.2,2272.9 746.9,2272.9 763.6,2272.9 780.3,2272.9 797.0,2272.9 813.7,2272.9 830.4,2272.9 847.1,2272.9 863.8,2272.9 880.5,2272.9 897.2,2272.9 913.9,2272.9 930.6,2272.9 947.3,2272.9 964.0,2272.9 980.7,2272.9 997.4,2272.9 1014.1,2272.9 1030.8,2272.9 1047.5,2272.9"/>
<polyline class="o" points="195.8,2258.9 212.5,2259.5 229.2,2260.3 245.9,2261.4 262.6,2262.7 279.3,2264.2 296.0,2265.8 312.7,2267.4 329.4,2268.8 346.1,2269.9 362.8,2270.8 379.5,2271.5 396.2,2271.9 412.9,2272.3 429.6,2272.5 446.3,2272.6 463.0,2272.7 479.7,2272.8 496.4,2272.8 513.1,2272.8 529.8,2272.9 546.5,2272.9 563.2,2272.9 579.9,2272.9 596.6,2272.9 613.3,2272.9 630.0,2272.9 646.7,2272.9 663.4,2272.9 680.1,2272.9 696.8,2272.9 713.5,2272.9 730.2,2272.9 746.9,2272.9 763.6,2272.9 780.3,2272.9 797.0,2272.9 813.7,2272.9 830.4,2272.9 847.1,2272.9 863.8,2272.9 880.5,2272.9 897.2,2272.9 913.9,2272.9 930.6,2272.9 947.3,2272.9 964.0,2272.9 980.7,2272.9 997.4,2272.9 1014.1,2272.9 1030.8,2272.9 1047.5,2272.9"/>
<polyline class="o" points="195.8,2263.2 212.5,2263.5 229.2,2263.9 245.9,2264.5 262.6,2265.3 279.3,2266.3 296.0,2267.4 312.7,2268.6 329.4,2269.6 346.1,2270.6 362.8,2271.3 379.5,2271.8 396.2,2272.2 412.9,2272.4 429.6,2272.6 446.3,2272.7 463.0,2272.8 479.7,2272.8 496.4,2272.8 513.1,2272.9 529.8,2272.9 546.5,2272.9 563.2,2272.9 579.9,2272.9 596.6,2272.9 613.3,2272.9 630.0,2272.9 646.7,2272.9 663.4,2272.9 680.1,2272.9 696.8,2272.9 713.5,2272.9 730.2,2272.9 746.9,2272.9 763.6,2272.9 780.3,2272.9 797.0,2272.9 813.7,2272.9 830.4,2272.9 847.1,2272.9 863.8,2272.9 880.5,2272.9 897.2,2272.9 913.9,2272.9 930.6,2272.9 947.3,2272.9 964.0,2272.9 980.7,2272.9 997.4,2272.9 1014.1,2272.9 1030.8,2272.9 1047.5,2272.9"/>
<polyline class="o" points="195.8,2258.5 212.5,2259.1 229.2,2260.0 245.9,2261.1 262.6,2262.4 279.3,2263.9 296.0,2265.6 312.7,2267.1 329.4,2268.5 346.1,2269.7 362.8,2270.6 379.5,2271.3 396.2,2271.8 412.9,2272.1 429.6,2272.4 446.3,2272.6 463.0,2272.7 479.7,2272.7 496.4,2272.8 513.1,2272.8 529.8,2272.9 546.5,2272.9 563.2,2272.9 579.9,2272.9 596.6,2272.9 613.3,2272.9 630.0,2272.9 646.7,2272.9 663.4,2272.9 680.1,2272.9 696.8,2272.9 713.5,2272.9 730.2,2272.9 746.9,2272.9 763.6,2272.9 780.3,2272.9 797.0,2272.9 813.7,2272.9 830.4,2272.9 847.1,2272.9 863.8,2272.9 880.5,2272.9 897.2,2272.9 913.9,2272.9 930.6,2272.9 947.3,2272.9 964.0,2272.9 980.7,2272.9 997.4,2272.9 1014.1,2272.9 1030.8,2272.9 1047.5,2272.9"/>
<polyline class="o" points="195.8,2258.7 212.5,2259.3 229.2,2260.2 245.9,2261.3 262.6,2262.6 279.3,2264.1 296.0,2265.7 312.7,2267.3 329.4,2268.7 346.1,2269.8 362.8,2270.7 379.5,2271.4 396.2,2271.9 412.9,2272.2 429.6,2272.4 446.3,2272.6 463.0,2272.7 479.7,2272.8 496.4,2272.8 513.1,2272.8 529.8,2272.9 546.5,2272.9 563.2,2272.9 579.9,2272.9 596.6,2272.9 613.3,2272.9 630.0,2272.9 646.7,2272.9 663.4,2272.9 680.1,2272.9 696.8,2272.9 713.5,2272.9 730.2,2272.9 746.9,2272.9 763.6,2272.9 780.3,2272.9 797.0,2272.9 813.7,2272.9 830.4,2272.9 847.1,2272.9 863.8,2272.9 880.5,2272.9 897.2,2272.9 913.9,2272.9 930.6,2272.9 947.3,2272.9 964.0,2272.9 980.7,2272.9 997.4,2272.9 1014.1,2272.9 1030.8,2272.9 1047.5,2272.9"/>
<polyline class="o" points="195.8,2260.4 212.5,2260.9 229.2,2261.5 245.9,2262.4 262.6,2263.4 279.3,2264.6 296.0,2265.9 312.7,2267.2 329.4,2268.4 346.1,2269.5 362.8,2270.4 379.5,2271.1 396.2,2271.6 412.9,2272.0 429.6,2272.3 446.3,2272.5 463.0,2272.6 479.7,2272.7 496.4,2272.8 513.1,2272.8 529.8,2272.8 546.5,2272.9 563.2,2272.9 579.9,2272.9 596.6,2272.9 613.3,2272.9 630.0,2272.9 646.7,2272.9 663.4,2272.9 680.1,2272.9 696.8,2272.9 713.5,2272.9 730.2,2272.9 746.9,2272.9 763.6,2272.9 780.3,2272.9 797.0,2272.9 813.7,2272.9 830.4,2272.9 847.1,2272.9 863.8,2272.9 880.5,2272.9 897.2,2272.9 913.9,2272.9 930.6,2272.9 947.3,2272.9 964.0,2272.9 980.7,2272.9 997.4,2272.9 1014.1,2272.9 1030.8,2272.9 1047.5,2272.9"/>
<polyline class="gr" points="195.8,2272.9 212.5,2265.1 229.2,2255.1 245.9,2243.8 262.6,2233.1 279.3,2225.8 296.0,2223.9 312.7,2227.7 329.4,2235.2 346.1,2244.0 362.8,2252.1 379.5,2258.5 396.2,2263.3 412.9,2266.6 429.6,2268.8 446.3,2270.3 463.0,2271.2 479.7,2271.8 496.4,2272.2 513.1,2272.5 529.8,2272.6 546.5,2272.7 563.2,2272.8 579.9,2272.8 596.6,2272.9 613.3,2272.9 630.0,2272.9 646.7,2272.9 663.4,2272.9 680.1,2272.9 696.8,2272.9 713.5,2272.9 730.2,2272.9 746.9,2272.9 763.6,2272.9 780.3,2272.9 797.0,2272.9 813.7,2272.9 830.4,2272.9 847.1,2272.9 863.8,2272.9 880.5,2272.9 897.2,2272.9 913.9,2272.9 930.6,2272.9 947.3,2272.9 964.0,2272.9 980.7,2272.9 997.4,2272.9 1014.1,2272.9 1030.8,2272.9 1047.5,2272.9"/>
<polyline class="gr" points="195.8,2272.9 212.5,2266.2 229.2,2257.8 245.9,2248.3 262.6,2239.2 279.3,2232.3 296.0,2229.5 312.7,2231.4 329.4,2236.8 346.1,2244.0 362.8,2251.1 379.5,2257.2 396.2,2262.0 412.9,2265.5 429.6,2268.0 446.3,2269.6 463.0,2270.8 479.7,2271.5 496.4,2272.0 513.1,2272.3 529.8,2272.5 546.5,2272.6 563.2,2272.7 579.9,2272.8 596.6,2272.8 613.3,2272.9 630.0,2272.9 646.7,2272.9 663.4,2272.9 680.1,2272.9 696.8,2272.9 713.5,2272.9 730.2,2272.9 746.9,2272.9 763.6,2272.9 780.3,2272.9 797.0,2272.9 813.7,2272.9 830.4,2272.9 847.1,2272.9 863.8,2272.9 880.5,2272.9 897.2,2272.9 913.9,2272.9 930.6,2272.9 947.3,2272.9 964.0,2272.9 980.7,2272.9 997.4,2272.9 1014.1,2272.9 1030.8,2272.9 1047.5,2272.9"/>
<polyline class="gr" points="195.8,2272.9 212.5,2265.3 229.2,2255.5 245.9,2244.1 262.6,2233.5 279.3,2226.6 296.0,2225.5 312.7,2230.2 329.4,2238.4 346.1,2247.2 362.8,2255.0 379.5,2260.9 396.2,2265.1 412.9,2267.9 429.6,2269.8 446.3,2270.9 463.0,2271.7 479.7,2272.1 496.4,2272.4 513.1,2272.6 529.8,2272.7 546.5,2272.8 563.2,2272.8 579.9,2272.9 596.6,2272.9 613.3,2272.9 630.0,2272.9 646.7,2272.9 663.4,2272.9 680.1,2272.9 696.8,2272.9 713.5,2272.9 730.2,2272.9 746.9,2272.9 763.6,2272.9 780.3,2272.9 797.0,2272.9 813.7,2272.9 830.4,2272.9 847.1,2272.9 863.8,2272.9 880.5,2272.9 897.2,2272.9 913.9,2272.9 930.6,2272.9 947.3,2272.9 964.0,2272.9 980.7,2272.9 997.4,2272.9 1014.1,2272.9 1030.8,2272.9 1047.5,2272.9"/>
<polyline class="gr" points="195.8,2272.9 212.5,2266.5 229.2,2258.0 245.9,2247.9 262.6,2237.6 279.3,2229.8 296.0,2226.7 312.7,2229.3 329.4,2236.1 346.1,2244.5 362.8,2252.5 379.5,2258.9 396.2,2263.6 412.9,2266.9 429.6,2269.1 446.3,2270.5 463.0,2271.4 479.7,2271.9 496.4,2272.3 513.1,2272.5 529.8,2272.7 546.5,2272.8 563.2,2272.8 579.9,2272.8 596.6,2272.9 613.3,2272.9 630.0,2272.9 646.7,2272.9 663.4,2272.9 680.1,2272.9 696.8,2272.9 713.5,2272.9 730.2,2272.9 746.9,2272.9 763.6,2272.9 780.3,2272.9 797.0,2272.9 813.7,2272.9 830.4,2272.9 847.1,2272.9 863.8,2272.9 880.5,2272.9 897.2,2272.9 913.9,2272.9 930.6,2272.9 947.3,2272.9 964.0,2272.9 980.7,2272.9 997.4,2272.9 1014.1,2272.9 1030.8,2272.9 1047.5,2272.9"/>
<polyline class="gr" points="195.8,2272.9 212.5,2265.3 229.2,2256.1 245.9,2246.1 262.6,2237.4 279.3,2232.1 296.0,2231.6 312.7,2235.6 329.4,2242.2 346.1,2249.5 362.8,2256.1 379.5,2261.3 396.2,2265.1 412.9,2267.7 429.6,2269.5 446.3,2270.7 463.0,2271.5 479.7,2272.0 496.4,2272.3 513.1,2272.5 529.8,2272.7 546.5,2272.7 563.2,2272.8 579.9,2272.8 596.6,2272.9 613.3,2272.9 630.0,2272.9 646.7,2272.9 663.4,2272.9 680.1,2272.9 696.8,2272.9 713.5,2272.9 730.2,2272.9 746.9,2272.9 763.6,2272.9 780.3,2272.9 797.0,2272.9 813.7,2272.9 830.4,2272.9 847.1,2272.9 863.8,2272.9 880.5,2272.9 897.2,2272.9 913.9,2272.9 930.6,2272.9 947.3,2272.9 964.0,2272.9 980.7,2272.9 997.4,2272.9 1014.1,2272.9 1030.8,2272.9 1047.5,2272.9"/>
<polyline class="gr" points="195.8,2272.9 212.5,2266.6 229.2,2258.9 245.9,2250.2 262.6,2242.0 279.3,2235.9 296.0,2233.5 312.7,2235.2 329.4,2240.0 346.1,2246.4 362.8,2252.8 379.5,2258.3 396.2,2262.7 412.9,2265.9 429.6,2268.2 446.3,2269.8 463.0,2270.8 479.7,2271.5 496.4,2272.0 513.1,2272.3 529.8,2272.5 546.5,2272.6 563.2,2272.7 579.9,2272.8 596.6,2272.8 613.3,2272.9 630.0,2272.9 646.7,2272.9 663.4,2272.9 680.1,2272.9 696.8,2272.9 713.5,2272.9 730.2,2272.9 746.9,2272.9 763.6,2272.9 780.3,2272.9 797.0,2272.9 813.7,2272.9 830.4,2272.9 847.1,2272.9 863.8,2272.9 880.5,2272.9 897.2,2272.9 913.9,2272.9 930.6,2272.9 947.3,2272.9 964.0,2272.9 980.7,2272.9 997.4,2272.9 1014.1,2272.9 1030.8,2272.9 1047.5,2272.9"/>
<polyline class="gr" points="195.8,2272.9 212.5,2268.0 229.2,2261.5 245.9,2253.5 262.6,2244.9 279.3,2237.2 296.0,2232.6 312.7,2232.4 329.4,2236.4 346.1,2242.8 362.8,2250.0 379.5,2256.3 396.2,2261.4 412.9,2265.2 429.6,2267.8 446.3,2269.6 463.0,2270.7 479.7,2271.5 496.4,2272.0 513.1,2272.3 529.8,2272.5 546.5,2272.7 563.2,2272.8 579.9,2272.8 596.6,2272.8 613.3,2272.9 630.0,2272.9 646.7,2272.9 663.4,2272.9 680.1,2272.9 696.8,2272.9 713.5,2272.9 730.2,2272.9 746.9,2272.9 763.6,2272.9 780.3,2272.9 797.0,2272.9 813.7,2272.9 830.4,2272.9 847.1,2272.9 863.8,2272.9 880.5,2272.9 897.2,2272.9 913.9,2272.9 930.6,2272.9 947.3,2272.9 964.0,2272.9 980.7,2272.9 997.4,2272.9 1014.1,2272.9 1030.8,2272.9 1047.5,2272.9"/>
<polyline class="gr" points="195.8,2272.9 212.5,2266.9 229.2,2259.7 245.9,2251.8 262.6,2244.6 279.3,2239.3 296.0,2237.3 312.7,2238.7 329.4,2242.8 346.1,2248.3 362.8,2253.9 379.5,2258.8 396.2,2262.8 412.9,2265.9 429.6,2268.1 446.3,2269.6 463.0,2270.7 479.7,2271.4 496.4,2271.9 513.1,2272.2 529.8,2272.5 546.5,2272.6 563.2,2272.7 579.9,2272.8 596.6,2272.8 613.3,2272.8 630.0,2272.9 646.7,2272.9 663.4,2272.9 680.1,2272.9 696.8,2272.9 713.5,2272.9 730.2,2272.9 746.9,2272.9 763.6,2272.9 780.3,2272.9 797.0,2272.9 813.7,2272.9 830.4,2272.9 847.1,2272.9 863.8,2272.9 880.5,2272.9 897.2,2272.9 913.9,2272.9 930.6,2272.9 947.3,2272.9 964.0,2272.9 980.7,2272.9 997.4,2272.9 1014.1,2272.9 1030.8,2272.9 1047.5,2272.9"/>
<polyline class="gr" points="195.8,2272.9 212.5,2266.9 229.2,2259.6 245.9,2251.8 262.6,2244.5 279.3,2239.3 296.0,2237.4 312.7,2239.0 329.4,2243.2 346.1,2248.8 362.8,2254.4 379.5,2259.3 396.2,2263.3 412.9,2266.2 429.6,2268.3 446.3,2269.8 463.0,2270.8 479.7,2271.5 496.4,2272.0 513.1,2272.3 529.8,2272.5 546.5,2272.6 563.2,2272.7 579.9,2272.8 596.6,2272.8 613.3,2272.8 630.0,2272.9 646.7,2272.9 663.4,2272.9 680.1,2272.9 696.8,2272.9 713.5,2272.9 730.2,2272.9 746.9,2272.9 763.6,2272.9 780.3,2272.9 797.0,2272.9 813.7,2272.9 830.4,2272.9 847.1,2272.9 863.8,2272.9 880.5,2272.9 897.2,2272.9 913.9,2272.9 930.6,2272.9 947.3,2272.9 964.0,2272.9 980.7,2272.9 997.4,2272.9 1014.1,2272.9 1030.8,2272.9 1047.5,2272.9"/>
<polyline class="gr" points="195.8,2272.9 212.5,2268.0 229.2,2262.1 245.9,2255.6 262.6,2249.2 279.3,2243.9 296.0,2240.9 312.7,2240.7 329.4,2243.0 346.1,2247.1 362.8,2251.9 379.5,2256.6 396.2,2260.7 412.9,2264.0 429.6,2266.6 446.3,2268.4 463.0,2269.8 479.7,2270.7 496.4,2271.4 513.1,2271.9 529.8,2272.2 546.5,2272.4 563.2,2272.6 579.9,2272.7 596.6,2272.7 613.3,2272.8 630.0,2272.8 646.7,2272.9 663.4,2272.9 680.1,2272.9 696.8,2272.9 713.5,2272.9 730.2,2272.9 746.9,2272.9 763.6,2272.9 780.3,2272.9 797.0,2272.9 813.7,2272.9 830.4,2272.9 847.1,2272.9 863.8,2272.9 880.5,2272.9 897.2,2272.9 913.9,2272.9 930.6,2272.9 947.3,2272.9 964.0,2272.9 980.7,2272.9 997.4,2272.9 1014.1,2272.9 1030.8,2272.9 1047.5,2272.9"/>
<polyline class="k" points="195.8,2269.9 212.5,2253.2 229.2,2213.5 245.9,2198.1 262.6,2088.0 279.3,1895.5 296.0,1764.7 312.7,1729.3 329.4,1714.1 346.1,1706.3 362.8,1699.4 379.5,1694.4 396.2,1682.7 412.9,1665.0 429.6,1663.7 446.3,1662.0 463.0,1659.8 479.7,1658.7 496.4,1657.7 513.1,1657.3 529.8,1657.1 546.5,1657.0 563.2,1657.0 579.9,1657.0 596.6,1657.0 613.3,1656.9 630.0,1656.9 646.7,1656.9 663.4,1656.9 680.1,1656.9 696.8,1656.9 713.5,1656.9 730.2,1656.9 746.9,1656.9 763.6,1656.9 780.3,1656.9 797.0,1656.9 813.7,1656.9 830.4,1656.9 847.1,1656.9 863.8,1656.9 880.5,1656.9 897.2,1656.9 913.9,1656.9 930.6,1656.9 947.3,1656.9 964.0,1656.9 980.7,1656.9 997.4,1656.9 1014.1,1656.9 1030.8,1656.9 1047.5,1656.9"/>
</g>
<g id="p7">
<rect x="1110.0" y="1626.0" width="937.0" height="678.0" fill="#eeeeee"/>
<path class="g" d="M1153 1626.0V2304.0M1320 1626.0V2304.0M1487 1626.0V2304.0M1654 1626.0V2304.0M1821 1626.0V2304.0M1988 1626.0V2304.0M1110.0 2273H2047.0M1110.0 2120H2047.0M1110.0 1968H2047.0M1110.0 1815H2047.0M1110.0 1662H2047.0"/>
<text class="ti" x="1578.5" y="1610.2" text-anchor="middle">product=P7</text>
<text class="tk" x="1152.8" y="2344.0" text-anchor="middle">0</text>
<text class="tk" x="1319.8" y="2344.0" text-anchor="middle">10</text>
<text class="tk" x="1486.8" y="2344.0" text-anchor="middle">20</text>
<text class="tk" x="1653.8" y="2344.0" text-anchor="middle">30</text>
<text class="tk" x="1820.8" y="2344.0" text-anchor="middle">40</text>
<text class="tk" x="1987.8" y="2344.0" text-anchor="middle">50</text>
<text class="xl" x="1579.7" y="2394.2" text-anchor="middle">T</text>
<polygon class="hd" points="1152.8,2255.2 1169.5,2240.4 1186.2,2219.7 1202.9,2190.3 1219.6,2154.8 1236.3,2112.6 1253.0,2068.3 1269.7,2023.1 1286.4,1983.7 1303.1,1948.7 1319.8,1921.1 1336.5,1898.5 1353.2,1884.7 1369.9,1868.4 1386.6,1858.2 1403.3,1852.2 1420.0,1847.3 1436.7,1844.4 1453.4,1842.4 1470.1,1841.8 1486.8,1841.0 1503.5,1840.6 1520.2,1840.3 1536.9,1840.2 1553.6,1840.1 1570.3,1840.0 1587.0,1840.0 1603.7,1840.0 1620.4,1839.9 1637.1,1839.9 1653.8,1839.9 1670.5,1839.9 1687.2,1839.9 1703.9,1839.9 1720.6,1839.9 1737.3,1839.9 1754.0,1839.9 1770.7,1839.9 1787.4,1839.9 1804.1,1839.9 1820.8,1839.9 1837.5,1839.9 1854.2,1839.9 1870.9,1839.9 1887.6,1839.9 1904.3,1839.9 1921.0,1839.9 1937.7,1839.9 1954.4,1839.9 1971.1,1839.9 1987.8,1839.9 2004.5,1839.9 2004.5,1963.9 1987.8,1963.9 1971.1,1963.9 1954.4,1963.9 1937.7,1963.9 1921.0,1963.9 1904.3,1963.9 1887.6,1963.9 1870.9,1963.9 1854.2,1963.9 1837.5,1963.9 1820.8,1963.9 1804.1,1963.9 1787.4,1963.9 1770.7,1963.9 1754.0,1963.9 1737.3,1963.9 1720.6,1963.9 1703.9,1963.9 1687.2,1963.9 1670.5,1963.9 1653.8,1963.9 1637.1,1963.9 1620.4,1963.9 1603.7,1964.0 1587.0,1964.0 1570.3,1964.1 1553.6,1964.3 1536.9,1964.5 1520.2,1965.0 1503.5,1965.7 1486.8,1966.9 1470.1,1967.8 1453.4,1968.8 1436.7,1970.3 1420.0,1972.9 1403.3,1976.2 1386.6,1981.3 1369.9,1988.6 1353.2,1999.5 1336.5,2013.2 1319.8,2030.9 1303.1,2054.5 1286.4,2082.0 1269.7,2112.6 1253.0,2143.1 1236.3,2172.5 1219.6,2200.1 1202.9,2223.7 1186.2,2243.4 1169.5,2257.2 1152.8,2267.0"/>
<polyline class="b" points="1152.8,2260.6 1169.5,2244.0 1186.2,2222.3 1202.9,2194.9 1219.6,2161.8 1236.3,2124.1 1253.0,2083.7 1269.7,2043.3 1286.4,2005.5 1303.1,1972.4 1319.8,1944.8 1336.5,1923.0 1353.2,1906.4 1369.9,1894.0 1386.6,1885.0 1403.3,1878.6 1420.0,1874.0 1436.7,1870.9 1453.4,1868.6 1470.1,1867.1 1486.8,1866.0 1503.5,1865.3 1520.2,1864.8 1536.9,1864.4 1553.6,1864.2 1570.3,1864.0 1587.0,1863.9 1603.7,1863.8 1620.4,1863.7 1637.1,1863.7 1653.8,1863.7 1670.5,1863.6 1687.2,1863.6 1703.9,1863.6 1720.6,1863.6 1737.3,1863.6 1754.0,1863.6 1770.7,1863.6 1787.4,1863.6 1804.1,1863.6 1820.8,1863.6 1837.5,1863.6 1854.2,1863.6 1870.9,1863.6 1887.6,1863.6 1904.3,1863.6 1921.0,1863.6 1937.7,1863.6 1954.4,1863.6 1971.1,1863.6 1987.8,1863.6 2004.5,1863.6"/>
<polyline class="b" points="1152.8,2262.7 1169.5,2248.5 1186.2,2229.5 1202.9,2204.7 1219.6,2174.0 1236.3,2137.9 1253.0,2098.3 1269.7,2057.8 1286.4,2019.3 1303.1,1985.2 1319.8,1956.9 1336.5,1934.5 1353.2,1917.5 1369.9,1905.0 1386.6,1896.1 1403.3,1889.8 1420.0,1885.4 1436.7,1882.3 1453.4,1880.3 1470.1,1878.8 1486.8,1877.8 1503.5,1877.2 1520.2,1876.7 1536.9,1876.4 1553.6,1876.2 1570.3,1876.1 1587.0,1876.0 1603.7,1875.9 1620.4,1875.8 1637.1,1875.8 1653.8,1875.8 1670.5,1875.8 1687.2,1875.8 1703.9,1875.8 1720.6,1875.8 1737.3,1875.8 1754.0,1875.8 1770.7,1875.8 1787.4,1875.8 1804.1,1875.8 1820.8,1875.8 1837.5,1875.8 1854.2,1875.8 1870.9,1875.8 1887.6,1875.8 1904.3,1875.8 1921.0,1875.8 1937.7,1875.8 1954.4,1875.8 1971.1,1875.8 1987.8,1875.8 2004.5,1875.8"/>
<polyline class="b" points="1152.8,2262.0 1169.5,2247.1 1186.2,2227.3 1202.9,2201.9 1219.6,2170.9 1236.3,2135.3 1253.0,2097.1 1269.7,2059.2 1286.4,2024.1 1303.1,1993.8 1319.8,1969.1 1336.5,1949.9 1353.2,1935.6 1369.9,1925.1 1386.6,1917.7 1403.3,1912.5 1420.0,1908.9 1436.7,1906.5 1453.4,1904.7 1470.1,1903.6 1486.8,1902.8 1503.5,1902.3 1520.2,1901.9 1536.9,1901.6 1553.6,1901.5 1570.3,1901.3 1587.0,1901.3 1603.7,1901.2 1620.4,1901.2 1637.1,1901.2 1653.8,1901.1 1670.5,1901.1 1687.2,1901.1 1703.9,1901.1 1720.6,1901.1 1737.3,1901.1 1754.0,1901.1 1770.7,1901.1 1787.4,1901.1 1804.1,1901.1 1820.8,1901.1 1837.5,1901.1 1854.2,1901.1 1870.9,1901.1 1887.6,1901.1 1904.3,1901.1 1921.0,1901.1 1937.7,1901.1 1954.4,1901.1 1971.1,1901.1 1987.8,1901.1 2004.5,1901.1"/>
<polyline class="b" points="1152.8,2262.3 1169.5,2247.6 1186.2,2227.7 1202.9,2202.1 1219.6,2170.6 1236.3,2134.2 1253.0,2095.2 1269.7,2056.6 1286.4,2021.1 1303.1,1990.7 1319.8,1966.2 1336.5,1947.5 1353.2,1933.7 1369.9,1923.7 1386.6,1916.8 1403.3,1912.0 1420.0,1908.7 1436.7,1906.4 1453.4,1904.9 1470.1,1903.8 1486.8,1903.1 1503.5,1902.7 1520.2,1902.4 1536.9,1902.2 1553.6,1902.0 1570.3,1901.9 1587.0,1901.8 1603.7,1901.8 1620.4,1901.8 1637.1,1901.8 1653.8,1901.7 1670.5,1901.7 1687.2,1901.7 1703.9,1901.7 1720.6,1901.7 1737.3,1901.7 1754.0,1901.7 1770.7,1901.7 1787.4,1901.7 1804.1,1901.7 1820.8,1901.7 1837.5,1901.7 1854.2,1901.7 1870.9,1901.7 1887.6,1901.7 1904.3,1901.7 1921.0,1901.7 1937.7,1901.7 1954.4,1901.7 1971.1,1901.7 1987.8,1901.7 2004.5,1901.7"/>
<polyline class="b" points="1152.8,2263.5 1169.5,2250.9 1186.2,2234.6 1202.9,2213.9 1219.6,2188.8 1236.3,2159.4 1253.0,2126.9 1269.7,2093.0 1286.4,2059.5 1303.1,2028.5 1319.8,2001.3 1336.5,1978.5 1353.2,1960.1 1369.9,1945.9 1386.6,1935.1 1403.3,1927.0 1420.0,1921.1 1436.7,1916.9 1453.4,1913.8 1470.1,1911.6 1486.8,1910.0 1503.5,1908.9 1520.2,1908.1 1536.9,1907.6 1553.6,1907.2 1570.3,1906.9 1587.0,1906.7 1603.7,1906.6 1620.4,1906.5 1637.1,1906.4 1653.8,1906.3 1670.5,1906.3 1687.2,1906.3 1703.9,1906.3 1720.6,1906.3 1737.3,1906.2 1754.0,1906.2 1770.7,1906.2 1787.4,1906.2 1804.1,1906.2 1820.8,1906.2 1837.5,1906.2 1854.2,1906.2 1870.9,1906.2 1887.6,1906.2 1904.3,1906.2 1921.0,1906.2 1937.7,1906.2 1954.4,1906.2 1971.1,1906.2 1987.8,1906.2 2004.5,1906.2"/>
<polyline class="b" points="1152.8,2263.7 1169.5,2251.7 1186.2,2236.2 1202.9,2216.7 1219.6,2193.1 1236.3,2165.7 1253.0,2135.2 1269.7,2103.2 1286.4,2071.3 1303.1,2041.3 1319.8,2014.4 1336.5,1991.5 1353.2,1972.7 1369.9,1957.8 1386.6,1946.2 1403.3,1937.5 1420.0,1931.0 1436.7,1926.2 1453.4,1922.7 1470.1,1920.1 1486.8,1918.3 1503.5,1916.9 1520.2,1916.0 1536.9,1915.3 1553.6,1914.8 1570.3,1914.4 1587.0,1914.2 1603.7,1914.0 1620.4,1913.9 1637.1,1913.8 1653.8,1913.7 1670.5,1913.7 1687.2,1913.6 1703.9,1913.6 1720.6,1913.6 1737.3,1913.6 1754.0,1913.6 1770.7,1913.6 1787.4,1913.6 1804.1,1913.6 1820.8,1913.6 1837.5,1913.6 1854.2,1913.6 1870.9,1913.6 1887.6,1913.6 1904.3,1913.6 1921.0,1913.6 1937.7,1913.6 1954.4,1913.6 1971.1,1913.6 1987.8,1913.6 2004.5,1913.6"/>
<polyline class="b" points="1152.8,2266.1 1169.5,2256.5 1186.2,2243.4 1202.9,2225.7 1219.6,2203.0 1236.3,2175.1 1253.0,2142.9 1269.7,2108.1 1286.4,2073.3 1303.1,2041.0 1319.8,2012.9 1336.5,1989.9 1353.2,1972.1 1369.9,1958.8 1386.6,1949.1 1403.3,1942.2 1420.0,1937.3 1436.7,1934.0 1453.4,1931.7 1470.1,1930.1 1486.8,1929.0 1503.5,1928.3 1520.2,1927.8 1536.9,1927.5 1553.6,1927.2 1570.3,1927.1 1587.0,1927.0 1603.7,1926.9 1620.4,1926.9 1637.1,1926.8 1653.8,1926.8 1670.5,1926.8 1687.2,1926.8 1703.9,1926.8 1720.6,1926.8 1737.3,1926.8 1754.0,1926.8 1770.7,1926.8 1787.4,1926.8 1804.1,1926.8 1820.8,1926.8 1837.5,1926.8 1854.2,1926.8 1870.9,1926.8 1887.6,1926.8 1904.3,1926.8 1921.0,1926.8 1937.7,1926.8 1954.4,1926.8 1971.1,1926.8 1987.8,1926.8 2004.5,1926.8"/>
<polyline class="b" points="1152.8,2263.7 1169.5,2251.4 1186.2,2235.0 1202.9,2214.2 1219.6,2188.7 1236.3,2159.1 1253.0,2126.6 1269.7,2093.2 1286.4,2061.1 1303.1,2032.2 1319.8,2007.5 1336.5,1987.5 1353.2,1972.0 1369.9,1960.2 1386.6,1951.6 1403.3,1945.3 1420.0,1940.8 1436.7,1937.7 1453.4,1935.4 1470.1,1933.9 1486.8,1932.8 1503.5,1932.0 1520.2,1931.5 1536.9,1931.1 1553.6,1930.9 1570.3,1930.7 1587.0,1930.6 1603.7,1930.5 1620.4,1930.4 1637.1,1930.4 1653.8,1930.3 1670.5,1930.3 1687.2,1930.3 1703.9,1930.3 1720.6,1930.3 1737.3,1930.3 1754.0,1930.3 1770.7,1930.3 1787.4,1930.3 1804.1,1930.3 1820.8,1930.3 1837.5,1930.3 1854.2,1930.3 1870.9,1930.3 1887.6,1930.3 1904.3,1930.3 1921.0,1930.3 1937.7,1930.3 1954.4,1930.3 1971.1,1930.3 1987.8,1930.3 2004.5,1930.3"/>
<polyline class="b" points="1152.8,2265.1 1169.5,2254.7 1186.2,2240.9 1202.9,2223.3 1219.6,2201.5 1236.3,2175.7 1253.0,2146.8 1269.7,2116.3 1286.4,2085.9 1303.1,2057.4 1319.8,2032.2 1336.5,2011.1 1353.2,1994.2 1369.9,1981.0 1386.6,1971.0 1403.3,1963.6 1420.0,1958.2 1436.7,1954.4 1453.4,1951.6 1470.1,1949.6 1486.8,1948.2 1503.5,1947.2 1520.2,1946.5 1536.9,1946.0 1553.6,1945.7 1570.3,1945.4 1587.0,1945.3 1603.7,1945.2 1620.4,1945.1 1637.1,1945.0 1653.8,1945.0 1670.5,1944.9 1687.2,1944.9 1703.9,1944.9 1720.6,1944.9 1737.3,1944.9 1754.0,1944.9 1770.7,1944.9 1787.4,1944.9 1804.1,1944.9 1820.8,1944.9 1837.5,1944.9 1854.2,1944.9 1870.9,1944.9 1887.6,1944.9 1904.3,1944.9 1921.0,1944.9 1937.7,1944.9 1954.4,1944.9 1971.1,1944.9 1987.8,1944.9 2004.5,1944.9"/>
<polyline class="b" points="1152.8,2263.3 1169.5,2250.8 1186.2,2235.0 1202.9,2215.7 1219.6,2192.9 1236.3,2167.1 1253.0,2139.3 1269.7,2110.9 1286.4,2083.4 1303.1,2058.1 1319.8,2035.9 1336.5,2017.2 1353.2,2002.1 1369.9,1990.1 1386.6,1980.9 1403.3,1973.9 1420.0,1968.7 1436.7,1964.9 1453.4,1962.0 1470.1,1960.0 1486.8,1958.5 1503.5,1957.4 1520.2,1956.6 1536.9,1956.0 1553.6,1955.6 1570.3,1955.3 1587.0,1955.1 1603.7,1955.0 1620.4,1954.9 1637.1,1954.8 1653.8,1954.7 1670.5,1954.7 1687.2,1954.6 1703.9,1954.6 1720.6,1954.6 1737.3,1954.6 1754.0,1954.6 1770.7,1954.6 1787.4,1954.6 1804.1,1954.6 1820.8,1954.6 1837.5,1954.6 1854.2,1954.6 1870.9,1954.6 1887.6,1954.6 1904.3,1954.6 1921.0,1954.6 1937.7,1954.6 1954.4,1954.6 1971.1,1954.6 1987.8,1954.6 2004.5,1954.6"/>
<polyline class="o" points="1152.8,2260.5 1169.5,2260.9 1186.2,2261.5 1202.9,2262.3 1219.6,2263.2 1236.3,2264.3 1253.0,2265.5 1269.7,2266.8 1286.4,2268.0 1303.1,2269.1 1319.8,2270.0 1336.5,2270.8 1353.2,2271.3 1369.9,2271.8 1386.6,2272.1 1403.3,2272.3 1420.0,2272.5 1436.7,2272.6 1453.4,2272.7 1470.1,2272.8 1486.8,2272.8 1503.5,2272.8 1520.2,2272.9 1536.9,2272.9 1553.6,2272.9 1570.3,2272.9 1587.0,2272.9 1603.7,2272.9 1620.4,2272.9 1637.1,2272.9 1653.8,2272.9 1670.5,2272.9 1687.2,2272.9 1703.9,2272.9 1720.6,2272.9 1737.3,2272.9 1754.0,2272.9 1770.7,2272.9 1787.4,2272.9 1804.1,2272.9 1820.8,2272.9 1837.5,2272.9 1854.2,2272.9 1870.9,2272.9 1887.6,2272.9 1904.3,2272.9 1921.0,2272.9 1937.7,2272.9 1954.4,2272.9 1971.1,2272.9 1987.8,2272.9 2004.5,2272.9"/>
<polyline class="o" points="1152.8,2262.6 1169.5,2262.9 1186.2,2263.3 1202.9,2263.9 1219.6,2264.6 1236.3,2265.5 1253.0,2266.5 1269.7,2267.6 1286.4,2268.6 1303.1,2269.6 1319.8,2270.4 1336.5,2271.1 1353.2,2271.6 1369.9,2272.0 1386.6,2272.3 1403.3,2272.5 1420.0,2272.6 1436.7,2272.7 1453.4,2272.8 1470.1,2272.8 1486.8,2272.8 1503.5,2272.9 1520.2,2272.9 1536.9,2272.9 1553.6,2272.9 1570.3,2272.9 1587.0,2272.9 1603.7,2272.9 1620.4,2272.9 1637.1,2272.9 1653.8,2272.9 1670.5,2272.9 1687.2,2272.9 1703.9,2272.9 1720.6,2272.9 1737.3,2272.9 1754.0,2272.9 1770.7,2272.9 1787.4,2272.9 1804.1,2272.9 1820.8,2272.9 1837.5,2272.9 1854.2,2272.9 1870.9,2272.9 1887.6,2272.9 1904.3,2272.9 1921.0,2272.9 1937.7,2272.9 1954.4,2272.9 1971.1,2272.9 1987.8,2272.9 2004.5,2272.9"/>
<polyline class="o" points="1152.8,2261.9 1169.5,2262.3 1186.2,2262.8 1202.9,2263.5 1219.6,2264.4 1236.3,2265.4 1253.0,2266.5 1269.7,2267.6 1286.4,2268.7 1303.1,2269.7 1319.8,2270.5 1336.5,2271.2 1353.2,2271.7 1369.9,2272.0 1386.6,2272.3 1403.3,2272.5 1420.0,2272.6 1436.7,2272.7 1453.4,2272.8 1470.1,2272.8 1486.8,2272.8 1503.5,2272.9 1520.2,2272.9 1536.9,2272.9 1553.6,2272.9 1570.3,2272.9 1587.0,2272.9 1603.7,2272.9 1620.4,2272.9 1637.1,2272.9 1653.8,2272.9 1670.5,2272.9 1687.2,2272.9 1703.9,2272.9 1720.6,2272.9 1737.3,2272.9 1754.0,2272.9 1770.7,2272.9 1787.4,2272.9 1804.1,2272.9 1820.8,2272.9 1837.5,2272.9 1854.2,2272.9 1870.9,2272.9 1887.6,2272.9 1904.3,2272.9 1921.0,2272.9 1937.7,2272.9 1954.4,2272.9 1971.1,2272.9 1987.8,2272.9 2004.5,2272.9"/>
<polyline class="o" points="1152.8,2262.2 1169.5,2262.6 1186.2,2263.1 1202.9,2263.7 1219.6,2264.6 1236.3,2265.6 1253.0,2266.7 1269.7,2267.8 1286.4,2268.9 1303.1,2269.9 1319.8,2270.7 1336.5,2271.3 1353.2,2271.8 1369.9,2272.1 1386.6,2272.4 1403.3,2272.5 1420.0,2272.7 1436.7,2272.7 1453.4,2272.8 1470.1,2272.8 1486.8,2272.8 1503.5,2272.9 1520.2,2272.9 1536.9,2272.9 1553.6,2272.9 1570.3,2272.9 1587.0,2272.9 1603.7,2272.9 1620.4,2272.9 1637.1,2272.9 1653.8,2272.9 1670.5,2272.9 1687.2,2272.9 1703.9,2272.9 1720.6,2272.9 1737.3,2272.9 1754.0,2272.9 1770.7,2272.9 1787.4,2272.9 1804.1,2272.9 1820.8,2272.9 1837.5,2272.9 1854.2,2272.9 1870.9,2272.9 1887.6,2272.9 1904.3,2272.9 1921.0,2272.9 1937.7,2272.9 1954.4,2272.9 1971.1,2272.9 1987.8,2272.9 2004.5,2272.9"/>
<polyline class="o" points="1152.8,2263.4 1169.5,2263.7 1186.2,2264.1 1202.9,2264.5 1219.6,2265.1 1236.3,2265.9 1253.0,2266.7 1269.7,2267.6 1286.4,2268.4 1303.1,2269.3 1319.8,2270.1 1336.5,2270.7 1353.2,2271.3 1369.9,2271.7 1386.6,2272.0 1403.3,2272.3 1420.0,2272.4 1436.7,2272.6 1453.4,2272.7 1470.1,2272.7 1486.8,2272.8 1503.5,2272.8 1520.2,2272.8 1536.9,2272.9 1553.6,2272.9 1570.3,2272.9 1587.0,2272.9 1603.7,2272.9 1620.4,2272.9 1637.1,2272.9 1653.8,2272.9 1670.5,2272.9 1687.2,2272.9 1703.9,2272.9 1720.6,2272.9 1737.3,2272.9 1754.0,2272.9 1770.7,2272.9 1787.4,2272.9 1804.1,2272.9 1820.8,2272.9 1837.5,2272.9 1854.2,2272.9 1870.9,2272.9 1887.6,2272.9 1904.3,2272.9 1921.0,2272.9 1937.7,2272.9 1954.4,2272.9 1971.1,2272.9 1987.8,2272.9 2004.5,2272.9"/>
<polyline class="o" points="1152.8,2263.7 1169.5,2263.9 1186.2,2264.3 1202.9,2264.7 1219.6,2265.3 1236.3,2266.0 1253.0,2266.7 1269.7,2267.5 1286.4,2268.4 1303.1,2269.2 1319.8,2269.9 1336.5,2270.6 1353.2,2271.1 1369.9,2271.6 1386.6,2271.9 1403.3,2272.2 1420.0,2272.4 1436.7,2272.5 1453.4,2272.6 1470.1,2272.7 1486.8,2272.8 1503.5,2272.8 1520.2,2272.8 1536.9,2272.8 1553.6,2272.9 1570.3,2272.9 1587.0,2272.9 1603.7,2272.9 1620.4,2272.9 1637.1,2272.9 1653.8,2272.9 1670.5,2272.9 1687.2,2272.9 1703.9,2272.9 1720.6,2272.9 1737.3,2272.9 1754.0,2272.9 1770.7,2272.9 1787.4,2272.9 1804.1,2272.9 1820.8,2272.9 1837.5,2272.9 1854.2,2272.9 1870.9,2272.9 1887.6,2272.9 1904.3,2272.9 1921.0,2272.9 1937.7,2272.9 1954.4,2272.9 1971.1,2272.9 1987.8,2272.9 2004.5,2272.9"/>
<polyline class="o" points="1152.8,2266.1 1169.5,2266.2 1186.2,2266.5 1202.9,2266.8 1219.6,2267.2 1236.3,2267.7 1253.0,2268.3 1269.7,2268.9 1286.4,2269.6 1303.1,2270.3 1319.8,2270.9 1336.5,2271.4 1353.2,2271.8 1369.9,2272.1 1386.6,2272.4 1403.3,2272.5 1420.0,2272.6 1436.7,2272.7 1453.4,2272.8 1470.1,2272.8 1486.8,2272.8 1503.5,2272.9 1520.2,2272.9 1536.9,2272.9 1553.6,2272.9 1570.3,2272.9 1587.0,2272.9 1603.7,2272.9 1620.4,2272.9 1637.1,2272.9 1653.8,2272.9 1670.5,2272.9 1687.2,2272.9 1703.9,2272.9 1720.6,2272.9 1737.3,2272.9 1754.0,2272.9 1770.7,2272.9 1787.4,2272.9 1804.1,2272.9 1820.8,2272.9 1837.5,2272.9 1854.2,2272.9 1870.9,2272.9 1887.6,2272.9 1904.3,2272.9 1921.0,2272.9 1937.7,2272.9 1954.4,2272.9 1971.1,2272.9 1987.8,2272.9 2004.5,2272.9"/>
<polyline class="o" points="1152.8,2263.7 1169.5,2263.9 1186.2,2264.3 1202.9,2264.8 1219.6,2265.5 1236.3,2266.2 1253.0,2267.1 1269.7,2268.0 1286.4,2268.9 1303.1,2269.7 1319.8,2270.5 1336.5,2271.1 1353.2,2271.6 1369.9,2271.9 1386.6,2272.2 1403.3,2272.4 1420.0,2272.6 1436.7,2272.7 1453.4,2272.7 1470.1,2272.8 1486.8,2272.8 1503.5,2272.8 1520.2,2272.9 1536.9,2272.9 1553.6,2272.9 1570.3,2272.9 1587.0,2272.9 1603.7,2272.9 1620.4,2272.9 1637.1,2272.9 1653.8,2272.9 1670.5,2272.9 1687.2,2272.9 1703.9,2272.9 1720.6,2272.9 1737.3,2272.9 1754.0,2272.9 1770.7,2272.9 1787.4,2272.9 1804.1,2272.9 1820.8,2272.9 1837.5,2272.9 1854.2,2272.9 1870.9,2272.9 1887.6,2272.9 1904.3,2272.9 1921.0,2272.9 1937.7,2272.9 1954.4,2272.9 1971.1,2272.9 1987.8,2272.9 2004.5,2272.9"/>
<polyline class="o" points="1152.8,2265.1 1169.5,2265.3 1186.2,2265.6 1202.9,2266.0 1219.6,2266.4 1236.3,2267.0 1253.0,2267.7 1269.7,2268.4 1286.4,2269.1 1303.1,2269.9 1319.8,2270.5 1336.5,2271.1 1353.2,2271.5 1369.9,2271.9 1386.6,2272.2 1403.3,2272.4 1420.0,2272.5 1436.7,2272.6 1453.4,2272.7 1470.1,2272.8 1486.8,2272.8 1503.5,2272.8 1520.2,2272.9 1536.9,2272.9 1553.6,2272.9 1570.3,2272.9 1587.0,2272.9 1603.7,2272.9 1620.4,2272.9 1637.1,2272.9 1653.8,2272.9 1670.5,2272.9 1687.2,2272.9 1703.9,2272.9 1720.6,2272.9 1737.3,2272.9 1754.0,2272.9 1770.7,2272.9 1787.4,2272.9 1804.1,2272.9 1820.8,2272.9 1837.5,2272.9 1854.2,2272.9 1870.9,2272.9 1887.6,2272.9 1904.3,2272.9 1921.0,2272.9 1937.7,2272.9 1954.4,2272.9 1971.1,2272.9 1987.8,2272.9 2004.5,2272.9"/>
<polyline class="o" points="1152.8,2263.1 1169.5,2263.5 1186.2,2263.9 1202.9,2264.5 1219.6,2265.1 1236.3,2265.9 1253.0,2266.7 1269.7,2267.6 1286.4,2268.5 1303.1,2269.3 1319.8,2270.0 1336.5,2270.7 1353.2,2271.2 1369.9,2271.6 1386.6,2271.9 1403.3,2272.2 1420.0,2272.4 1436.7,2272.5 1453.4,2272.6 1470.1,2272.7 1486.8,2272.8 1503.5,2272.8 1520.2,2272.8 1536.9,2272.8 1553.6,2272.9 1570.3,2272.9 1587.0,2272.9 1603.7,2272.9 1620.4,2272.9 1637.1,2272.9 1653.8,2272.9 1670.5,2272.9 1687.2,2272.9 1703.9,2272.9 1720.6,2272.9 1737.3,2272.9 1754.0,2272.9 1770.7,2272.9 1787.4,2272.9 1804.1,2272.9 1820.8,2272.9 1837.5,2272.9 1854.2,2272.9 1870.9,2272.9 1887.6,2272.9 1904.3,2272.9 1921.0,2272.9 1937.7,2272.9 1954.4,2272.9 1971.1,2272.9 1987.8,2272.9 2004.5,2272.9"/>
<polyline class="gr" points="1152.8,2272.9 1169.5,2268.1 1186.2,2262.3 1202.9,2255.7 1219.6,2249.0 1236.3,2243.2 1253.0,2239.2 1269.7,2238.0 1286.4,2239.4 1303.1,2243.1 1319.8,2247.9 1336.5,2252.9 1353.2,2257.6 1369.9,2261.5 1386.6,2264.6 1403.3,2267.0 1420.0,2268.7 1436.7,2269.9 1453.4,2270.8 1470.1,2271.5 1486.8,2271.9 1503.5,2272.2 1520.2,2272.4 1536.9,2272.6 1553.6,2272.7 1570.3,2272.7 1587.0,2272.8 1603.7,2272.8 1620.4,2272.8 1637.1,2272.9 1653.8,2272.9 1670.5,2272.9 1687.2,2272.9 1703.9,2272.9 1720.6,2272.9 1737.3,2272.9 1754.0,2272.9 1770.7,2272.9 1787.4,2272.9 1804.1,2272.9 1820.8,2272.9 1837.5,2272.9 1854.2,2272.9 1870.9,2272.9 1887.6,2272.9 1904.3,2272.9 1921.0,2272.9 1937.7,2272.9 1954.4,2272.9 1971.1,2272.9 1987.8,2272.9 2004.5,2272.9"/>
<polyline class="gr" points="1152.8,2272.9 1169.5,2268.6 1186.2,2263.2 1202.9,2256.9 1219.6,2250.0 1236.3,2243.7 1253.0,2239.1 1269.7,2237.1 1286.4,2238.1 1303.1,2241.7 1319.8,2246.7 1336.5,2252.1 1353.2,2257.1 1369.9,2261.2 1386.6,2264.5 1403.3,2267.0 1420.0,2268.8 1436.7,2270.0 1453.4,2270.9 1470.1,2271.6 1486.8,2272.0 1503.5,2272.3 1520.2,2272.5 1536.9,2272.6 1553.6,2272.7 1570.3,2272.8 1587.0,2272.8 1603.7,2272.8 1620.4,2272.9 1637.1,2272.9 1653.8,2272.9 1670.5,2272.9 1687.2,2272.9 1703.9,2272.9 1720.6,2272.9 1737.3,2272.9 1754.0,2272.9 1770.7,2272.9 1787.4,2272.9 1804.1,2272.9 1820.8,2272.9 1837.5,2272.9 1854.2,2272.9 1870.9,2272.9 1887.6,2272.9 1904.3,2272.9 1921.0,2272.9 1937.7,2272.9 1954.4,2272.9 1971.1,2272.9 1987.8,2272.9 2004.5,2272.9"/>
<polyline class="gr" points="1152.8,2272.9 1169.5,2268.4 1186.2,2262.9 1202.9,2256.5 1219.6,2250.0 1236.3,2244.3 1253.0,2240.6 1269.7,2239.6 1286.4,2241.4 1303.1,2245.3 1319.8,2250.2 1336.5,2255.2 1353.2,2259.6 1369.9,2263.2 1386.6,2266.0 1403.3,2268.1 1420.0,2269.5 1436.7,2270.6 1453.4,2271.3 1470.1,2271.8 1486.8,2272.2 1503.5,2272.4 1520.2,2272.6 1536.9,2272.7 1553.6,2272.7 1570.3,2272.8 1587.0,2272.8 1603.7,2272.9 1620.4,2272.9 1637.1,2272.9 1653.8,2272.9 1670.5,2272.9 1687.2,2272.9 1703.9,2272.9 1720.6,2272.9 1737.3,2272.9 1754.0,2272.9 1770.7,2272.9 1787.4,2272.9 1804.1,2272.9 1820.8,2272.9 1837.5,2272.9 1854.2,2272.9 1870.9,2272.9 1887.6,2272.9 1904.3,2272.9 1921.0,2272.9 1937.7,2272.9 1954.4,2272.9 1971.1,2272.9 1987.8,2272.9 2004.5,2272.9"/>
<polyline class="gr" points="1152.8,2272.9 1169.5,2268.4 1186.2,2262.7 1202.9,2256.1 1219.6,2249.3 1236.3,2243.3 1253.0,2239.5 1269.7,2238.7 1286.4,2240.8 1303.1,2245.1 1319.8,2250.3 1336.5,2255.5 1353.2,2260.1 1369.9,2263.7 1386.6,2266.4 1403.3,2268.4 1420.0,2269.8 1436.7,2270.8 1453.4,2271.5 1470.1,2271.9 1486.8,2272.3 1503.5,2272.5 1520.2,2272.6 1536.9,2272.7 1553.6,2272.8 1570.3,2272.8 1587.0,2272.8 1603.7,2272.9 1620.4,2272.9 1637.1,2272.9 1653.8,2272.9 1670.5,2272.9 1687.2,2272.9 1703.9,2272.9 1720.6,2272.9 1737.3,2272.9 1754.0,2272.9 1770.7,2272.9 1787.4,2272.9 1804.1,2272.9 1820.8,2272.9 1837.5,2272.9 1854.2,2272.9 1870.9,2272.9 1887.6,2272.9 1904.3,2272.9 1921.0,2272.9 1937.7,2272.9 1954.4,2272.9 1971.1,2272.9 1987.8,2272.9 2004.5,2272.9"/>
<polyline class="gr" points="1152.8,2272.9 1169.5,2269.5 1186.2,2265.2 1202.9,2260.4 1219.6,2255.2 1236.3,2250.2 1253.0,2246.2 1269.7,2243.8 1286.4,2243.4 1303.1,2245.1 1319.8,2248.1 1336.5,2252.0 1353.2,2256.0 1369.9,2259.7 1386.6,2262.9 1403.3,2265.4 1420.0,2267.4 1436.7,2268.9 1453.4,2270.0 1470.1,2270.9 1486.8,2271.4 1503.5,2271.9 1520.2,2272.2 1536.9,2272.4 1553.6,2272.5 1570.3,2272.6 1587.0,2272.7 1603.7,2272.8 1620.4,2272.8 1637.1,2272.8 1653.8,2272.9 1670.5,2272.9 1687.2,2272.9 1703.9,2272.9 1720.6,2272.9 1737.3,2272.9 1754.0,2272.9 1770.7,2272.9 1787.4,2272.9 1804.1,2272.9 1820.8,2272.9 1837.5,2272.9 1854.2,2272.9 1870.9,2272.9 1887.6,2272.9 1904.3,2272.9 1921.0,2272.9 1937.7,2272.9 1954.4,2272.9 1971.1,2272.9 1987.8,2272.9 2004.5,2272.9"/>
<polyline class="gr" points="1152.8,2272.9 1169.5,2269.7 1186.2,2265.8 1202.9,2261.4 1219.6,2256.6 1236.3,2252.0 1253.0,2248.2 1269.7,2245.8 1286.4,2245.1 1303.1,2246.2 1319.8,2248.6 1336.5,2252.0 1353.2,2255.7 1369.9,2259.2 1386.6,2262.2 1403.3,2264.8 1420.0,2266.9 1436.7,2268.4 1453.4,2269.6 1470.1,2270.5 1486.8,2271.2 1503.5,2271.7 1520.2,2272.0 1536.9,2272.3 1553.6,2272.4 1570.3,2272.6 1587.0,2272.7 1603.7,2272.7 1620.4,2272.8 1637.1,2272.8 1653.8,2272.8 1670.5,2272.9 1687.2,2272.9 1703.9,2272.9 1720.6,2272.9 1737.3,2272.9 1754.0,2272.9 1770.7,2272.9 1787.4,2272.9 1804.1,2272.9 1820.8,2272.9 1837.5,2272.9 1854.2,2272.9 1870.9,2272.9 1887.6,2272.9 1904.3,2272.9 1921.0,2272.9 1937.7,2272.9 1954.4,2272.9 1971.1,2272.9 1987.8,2272.9 2004.5,2272.9"/>
<polyline class="gr" points="1152.8,2272.9 1169.5,2270.0 1186.2,2266.1 1202.9,2261.3 1219.6,2255.7 1236.3,2250.0 1253.0,2244.9 1269.7,2241.7 1286.4,2240.9 1303.1,2242.7 1319.8,2246.5 1336.5,2251.2 1353.2,2256.0 1369.9,2260.2 1386.6,2263.7 1403.3,2266.3 1420.0,2268.3 1436.7,2269.7 1453.4,2270.7 1470.1,2271.4 1486.8,2271.9 1503.5,2272.2 1520.2,2272.4 1536.9,2272.6 1553.6,2272.7 1570.3,2272.8 1587.0,2272.8 1603.7,2272.8 1620.4,2272.9 1637.1,2272.9 1653.8,2272.9 1670.5,2272.9 1687.2,2272.9 1703.9,2272.9 1720.6,2272.9 1737.3,2272.9 1754.0,2272.9 1770.7,2272.9 1787.4,2272.9 1804.1,2272.9 1820.8,2272.9 1837.5,2272.9 1854.2,2272.9 1870.9,2272.9 1887.6,2272.9 1904.3,2272.9 1921.0,2272.9 1937.7,2272.9 1954.4,2272.9 1971.1,2272.9 1987.8,2272.9 2004.5,2272.9"/>
<polyline class="gr" points="1152.8,2272.9 1169.5,2269.3 1186.2,2265.0 1202.9,2259.9 1219.6,2254.5 1236.3,2249.5 1253.0,2245.7 1269.7,2243.9 1286.4,2244.3 1303.1,2246.7 1319.8,2250.3 1336.5,2254.5 1353.2,2258.5 1369.9,2262.0 1386.6,2264.9 1403.3,2267.1 1420.0,2268.7 1436.7,2269.9 1453.4,2270.8 1470.1,2271.4 1486.8,2271.9 1503.5,2272.2 1520.2,2272.4 1536.9,2272.6 1553.6,2272.7 1570.3,2272.7 1587.0,2272.8 1603.7,2272.8 1620.4,2272.8 1637.1,2272.9 1653.8,2272.9 1670.5,2272.9 1687.2,2272.9 1703.9,2272.9 1720.6,2272.9 1737.3,2272.9 1754.0,2272.9 1770.7,2272.9 1787.4,2272.9 1804.1,2272.9 1820.8,2272.9 1837.5,2272.9 1854.2,2272.9 1870.9,2272.9 1887.6,2272.9 1904.3,2272.9 1921.0,2272.9 1937.7,2272.9 1954.4,2272.9 1971.1,2272.9 1987.8,2272.9 2004.5,2272.9"/>
<polyline class="gr" points="1152.8,2272.9 1169.5,2270.0 1186.2,2266.3 1202.9,2262.0 1219.6,2257.3 1236.3,2252.7 1253.0,2248.9 1269.7,2246.4 1286.4,2245.8 1303.1,2247.1 1319.8,2249.8 1336.5,2253.4 1353.2,2257.1 1369.9,2260.6 1386.6,2263.6 1403.3,2266.0 1420.0,2267.9 1436.7,2269.3 1453.4,2270.3 1470.1,2271.0 1486.8,2271.6 1503.5,2272.0 1520.2,2272.2 1536.9,2272.4 1553.6,2272.6 1570.3,2272.7 1587.0,2272.7 1603.7,2272.8 1620.4,2272.8 1637.1,2272.8 1653.8,2272.9 1670.5,2272.9 1687.2,2272.9 1703.9,2272.9 1720.6,2272.9 1737.3,2272.9 1754.0,2272.9 1770.7,2272.9 1787.4,2272.9 1804.1,2272.9 1820.8,2272.9 1837.5,2272.9 1854.2,2272.9 1870.9,2272.9 1887.6,2272.9 1904.3,2272.9 1921.0,2272.9 1937.7,2272.9 1954.4,2272.9 1971.1,2272.9 1987.8,2272.9 2004.5,2272.9"/>
<polyline class="gr" points="1152.8,2272.9 1169.5,2269.7 1186.2,2265.9 1202.9,2261.8 1219.6,2257.5 1236.3,2253.7 1253.0,2250.8 1269.7,2249.3 1286.4,2249.4 1303.1,2250.8 1319.8,2253.2 1336.5,2256.2 1353.2,2259.2 1369.9,2262.1 1386.6,2264.5 1403.3,2266.6 1420.0,2268.2 1436.7,2269.4 1453.4,2270.3 1470.1,2271.0 1486.8,2271.5 1503.5,2271.9 1520.2,2272.2 1536.9,2272.4 1553.6,2272.5 1570.3,2272.6 1587.0,2272.7 1603.7,2272.8 1620.4,2272.8 1637.1,2272.8 1653.8,2272.8 1670.5,2272.9 1687.2,2272.9 1703.9,2272.9 1720.6,2272.9 1737.3,2272.9 1754.0,2272.9 1770.7,2272.9 1787.4,2272.9 1804.1,2272.9 1820.8,2272.9 1837.5,2272.9 1854.2,2272.9 1870.9,2272.9 1887.6,2272.9 1904.3,2272.9 1921.0,2272.9 1937.7,2272.9 1954.4,2272.9 1971.1,2272.9 1987.8,2272.9 2004.5,2272.9"/>
<polyline class="k" points="1152.8,2254.2 1169.5,2244.3 1186.2,2216.8 1202.9,2205.6 1219.6,2201.5 1236.3,2189.3 1253.0,2153.9 1269.7,2137.2 1286.4,2126.3 1303.1,2112.6 1319.8,2084.6 1336.5,2081.5 1353.2,2061.0 1369.9,2050.0 1386.6,2048.6 1403.3,2029.3 1420.0,2028.6 1436.7,2027.7 1453.4,2025.6 1470.1,2024.0 1486.8,2023.1 1503.5,2022.6 1520.2,2022.2 1536.9,2021.8 1553.6,2021.6 1570.3,2021.5 1587.0,2021.4 1603.7,2021.3 1620.4,2021.3 1637.1,2021.3 1653.8,2021.3 1670.5,2021.3 1687.2,2021.3 1703.9,2021.2 1720.6,2021.2 1737.3,2021.2 1754.0,2021.2 1770.7,2021.2 1787.4,2021.2 1804.1,2021.2 1820.8,2021.2 1837.5,2021.2 1854.2,2021.2 1870.9,2021.2 1887.6,2021.2 1904.3,2021.2 1921.0,2021.2 1937.7,2021.2 1954.4,2021.2 1971.1,2021.2 1987.8,2021.2 2004.5,2021.2"/>
</g>
<g id="p8">
<rect x="2067.0" y="1626.0" width="936.0" height="678.0" fill="#eeeeee"/>
<path class="g" d="M2109 1626.0V2304.0M2276 1626.0V2304.0M2443 1626.0V2304.0M2610 1626.0V2304.0M2777 1626.0V2304.0M2944 1626.0V2304.0M2067.0 2273H3003.0M2067.0 2120H3003.0M2067.0 1968H3003.0M2067.0 1815H3003.0M2067.0 1662H3003.0"/>
<text class="ti" x="2535.0" y="1610.2" text-anchor="middle">product=P8</text>
<text class="tk" x="2109.2" y="2344.0" text-anchor="middle">0</text>
<text class="tk" x="2276.2" y="2344.0" text-anchor="middle">10</text>
<text class="tk" x="2443.2" y="2344.0" text-anchor="middle">20</text>
<text class="tk" x="2610.2" y="2344.0" text-anchor="middle">30</text>
<text class="tk" x="2777.2" y="2344.0" text-anchor="middle">40</text>
<text class="tk" x="2944.2" y="2344.0" text-anchor="middle">50</text>
<text class="xl" x="2536.2" y="2394.2" text-anchor="middle">T</text>
<polygon class="hd" points="2109.2,2257.2 2125.9,2241.4 2142.6,2219.7 2159.3,2192.2 2176.0,2154.8 2192.7,2088.0 2209.4,2037.8 2226.1,1994.5 2242.8,1963.6 2259.5,1932.9 2276.2,1899.5 2292.9,1875.4 2309.6,1856.2 2326.3,1843.4 2343.0,1834.5 2359.7,1827.6 2376.4,1823.1 2393.1,1819.8 2409.8,1817.2 2426.5,1816.4 2443.2,1814.9 2459.9,1814.7 2476.6,1814.5 2493.3,1814.3 2510.0,1814.3 2526.7,1814.2 2543.4,1814.2 2560.1,1814.1 2576.8,1814.1 2593.5,1814.1 2610.2,1814.1 2626.9,1814.1 2643.6,1814.1 2660.3,1814.1 2677.0,1814.1 2693.7,1814.1 2710.4,1814.1 2727.1,1814.1 2743.8,1814.1 2760.5,1814.1 2777.2,1814.1 2793.9,1814.1 2810.6,1814.1 2827.3,1814.1 2844.0,1814.1 2860.7,1814.1 2877.4,1814.1 2894.1,1814.1 2910.8,1814.1 2927.5,1814.1 2944.2,1814.1 2960.9,1814.1 2960.9,1940.7 2944.2,1940.7 2927.5,1940.7 2910.8,1940.7 2894.1,1940.7 2877.4,1940.7 2860.7,1940.7 2844.0,1940.7 2827.3,1940.7 2810.6,1940.7 2793.9,1940.7 2777.2,1940.7 2760.5,1940.7 2743.8,1940.7 2727.1,1940.7 2710.4,1940.7 2693.7,1940.7 2677.0,1940.7 2660.3,1940.7 2643.6,1940.7 2626.9,1940.7 2610.2,1940.7 2593.5,1940.7 2576.8,1940.8 2560.1,1940.9 2543.4,1941.0 2526.7,1941.2 2510.0,1941.5 2493.3,1942.1 2476.6,1943.1 2459.9,1943.0 2443.2,1942.7 2426.5,1944.3 2409.8,1944.7 2393.1,1946.3 2376.4,1950.2 2359.7,1954.6 2343.0,1960.4 2326.3,1969.9 2309.6,1980.8 2292.9,1996.5 2276.2,2019.1 2259.5,2046.7 2242.8,2078.1 2226.1,2110.6 2209.4,2143.1 2192.7,2174.5 2176.0,2202.1 2159.3,2225.7 2142.6,2244.4 2125.9,2258.5 2109.2,2268.0"/>
<polyline class="b" points="2109.2,2259.7 2125.9,2242.1 2142.6,2219.3 2159.3,2190.5 2176.0,2155.9 2192.7,2116.2 2209.4,2073.5 2226.1,2030.2 2242.8,1989.0 2259.5,1952.2 2276.2,1921.1 2292.9,1895.9 2309.6,1876.3 2326.3,1861.5 2343.0,1850.5 2359.7,1842.5 2376.4,1836.8 2393.1,1832.7 2409.8,1829.8 2426.5,1827.8 2443.2,1826.4 2459.9,1825.4 2476.6,1824.7 2493.3,1824.2 2510.0,1823.8 2526.7,1823.6 2543.4,1823.4 2560.1,1823.3 2576.8,1823.2 2593.5,1823.2 2610.2,1823.1 2626.9,1823.1 2643.6,1823.1 2660.3,1823.1 2677.0,1823.1 2693.7,1823.1 2710.4,1823.1 2727.1,1823.1 2743.8,1823.1 2760.5,1823.1 2777.2,1823.1 2793.9,1823.1 2810.6,1823.1 2827.3,1823.1 2844.0,1823.1 2860.7,1823.1 2877.4,1823.1 2894.1,1823.1 2910.8,1823.1 2927.5,1823.1 2944.2,1823.1 2960.9,1823.1"/>
<polyline class="b" points="2109.2,2258.3 2125.9,2239.8 2142.6,2216.9 2159.3,2189.4 2176.0,2157.5 2192.7,2121.9 2209.4,2083.9 2226.1,2045.3 2242.8,2007.9 2259.5,1973.4 2276.2,1942.8 2292.9,1916.8 2309.6,1895.4 2326.3,1878.2 2343.0,1864.7 2359.7,1854.3 2376.4,1846.4 2393.1,1840.5 2409.8,1836.0 2426.5,1832.7 2443.2,1830.3 2459.9,1828.5 2476.6,1827.2 2493.3,1826.2 2510.0,1825.5 2526.7,1824.9 2543.4,1824.6 2560.1,1824.3 2576.8,1824.1 2593.5,1823.9 2610.2,1823.8 2626.9,1823.7 2643.6,1823.7 2660.3,1823.6 2677.0,1823.6 2693.7,1823.6 2710.4,1823.6 2727.1,1823.5 2743.8,1823.5 2760.5,1823.5 2777.2,1823.5 2793.9,1823.5 2810.6,1823.5 2827.3,1823.5 2844.0,1823.5 2860.7,1823.5 2877.4,1823.5 2894.1,1823.5 2910.8,1823.5 2927.5,1823.5 2944.2,1823.5 2960.9,1823.5"/>
<polyline class="b" points="2109.2,2261.5 2125.9,2246.3 2142.6,2226.4 2159.3,2201.1 2176.0,2170.2 2192.7,2134.2 2209.4,2094.6 2226.1,2053.5 2242.8,2013.5 2259.5,1976.7 2276.2,1944.9 2292.9,1918.6 2309.6,1897.7 2326.3,1881.7 2343.0,1869.7 2359.7,1860.8 2376.4,1854.4 2393.1,1849.8 2409.8,1846.6 2426.5,1844.2 2443.2,1842.6 2459.9,1841.4 2476.6,1840.6 2493.3,1840.1 2510.0,1839.7 2526.7,1839.4 2543.4,1839.2 2560.1,1839.0 2576.8,1838.9 2593.5,1838.9 2610.2,1838.8 2626.9,1838.8 2643.6,1838.8 2660.3,1838.7 2677.0,1838.7 2693.7,1838.7 2710.4,1838.7 2727.1,1838.7 2743.8,1838.7 2760.5,1838.7 2777.2,1838.7 2793.9,1838.7 2810.6,1838.7 2827.3,1838.7 2844.0,1838.7 2860.7,1838.7 2877.4,1838.7 2894.1,1838.7 2910.8,1838.7 2927.5,1838.7 2944.2,1838.7 2960.9,1838.7"/>
<polyline class="b" points="2109.2,2261.0 2125.9,2245.3 2142.6,2225.1 2159.3,2200.0 2176.0,2170.0 2192.7,2135.9 2209.4,2099.1 2226.1,2061.6 2242.8,2025.7 2259.5,1993.2 2276.2,1965.2 2292.9,1942.2 2309.6,1924.0 2326.3,1909.9 2343.0,1899.4 2359.7,1891.6 2376.4,1885.9 2393.1,1881.8 2409.8,1878.8 2426.5,1876.7 2443.2,1875.2 2459.9,1874.1 2476.6,1873.3 2493.3,1872.8 2510.0,1872.4 2526.7,1872.1 2543.4,1871.9 2560.1,1871.8 2576.8,1871.7 2593.5,1871.6 2610.2,1871.6 2626.9,1871.6 2643.6,1871.5 2660.3,1871.5 2677.0,1871.5 2693.7,1871.5 2710.4,1871.5 2727.1,1871.5 2743.8,1871.5 2760.5,1871.5 2777.2,1871.5 2793.9,1871.5 2810.6,1871.5 2827.3,1871.5 2844.0,1871.5 2860.7,1871.5 2877.4,1871.5 2894.1,1871.5 2910.8,1871.5 2927.5,1871.5 2944.2,1871.5 2960.9,1871.5"/>
<polyline class="b" points="2109.2,2262.5 2125.9,2248.6 2142.6,2230.6 2159.3,2207.7 2176.0,2179.9 2192.7,2147.6 2209.4,2112.1 2226.1,2075.2 2242.8,2039.1 2259.5,2005.9 2276.2,1976.9 2292.9,1952.9 2309.6,1933.7 2326.3,1918.9 2343.0,1907.7 2359.7,1899.5 2376.4,1893.5 2393.1,1889.1 2409.8,1886.0 2426.5,1883.8 2443.2,1882.2 2459.9,1881.1 2476.6,1880.3 2493.3,1879.8 2510.0,1879.4 2526.7,1879.1 2543.4,1878.9 2560.1,1878.7 2576.8,1878.7 2593.5,1878.6 2610.2,1878.5 2626.9,1878.5 2643.6,1878.5 2660.3,1878.5 2677.0,1878.5 2693.7,1878.4 2710.4,1878.4 2727.1,1878.4 2743.8,1878.4 2760.5,1878.4 2777.2,1878.4 2793.9,1878.4 2810.6,1878.4 2827.3,1878.4 2844.0,1878.4 2860.7,1878.4 2877.4,1878.4 2894.1,1878.4 2910.8,1878.4 2927.5,1878.4 2944.2,1878.4 2960.9,1878.4"/>
<polyline class="b" points="2109.2,2261.2 2125.9,2246.1 2142.6,2227.3 2159.3,2204.3 2176.0,2177.3 2192.7,2146.7 2209.4,2113.6 2226.1,2079.5 2242.8,2046.1 2259.5,2014.9 2276.2,1987.2 2292.9,1963.5 2309.6,1943.9 2326.3,1928.2 2343.0,1915.9 2359.7,1906.5 2376.4,1899.3 2393.1,1894.0 2409.8,1890.0 2426.5,1887.0 2443.2,1884.9 2459.9,1883.3 2476.6,1882.1 2493.3,1881.2 2510.0,1880.6 2526.7,1880.2 2543.4,1879.8 2560.1,1879.6 2576.8,1879.4 2593.5,1879.3 2610.2,1879.2 2626.9,1879.1 2643.6,1879.1 2660.3,1879.1 2677.0,1879.0 2693.7,1879.0 2710.4,1879.0 2727.1,1879.0 2743.8,1879.0 2760.5,1879.0 2777.2,1879.0 2793.9,1879.0 2810.6,1879.0 2827.3,1879.0 2844.0,1879.0 2860.7,1879.0 2877.4,1879.0 2894.1,1879.0 2910.8,1879.0 2927.5,1879.0 2944.2,1879.0 2960.9,1879.0"/>
<polyline class="b" points="2109.2,2260.3 2125.9,2244.0 2142.6,2223.4 2159.3,2198.1 2176.0,2168.5 2192.7,2135.4 2209.4,2100.1 2226.1,2064.6 2242.8,2030.8 2259.5,2000.3 2276.2,1974.1 2292.9,1952.5 2309.6,1935.2 2326.3,1921.9 2343.0,1911.7 2359.7,1904.1 2376.4,1898.6 2393.1,1894.5 2409.8,1891.5 2426.5,1889.4 2443.2,1887.8 2459.9,1886.7 2476.6,1885.9 2493.3,1885.4 2510.0,1884.9 2526.7,1884.7 2543.4,1884.4 2560.1,1884.3 2576.8,1884.2 2593.5,1884.1 2610.2,1884.1 2626.9,1884.0 2643.6,1884.0 2660.3,1884.0 2677.0,1884.0 2693.7,1883.9 2710.4,1883.9 2727.1,1883.9 2743.8,1883.9 2760.5,1883.9 2777.2,1883.9 2793.9,1883.9 2810.6,1883.9 2827.3,1883.9 2844.0,1883.9 2860.7,1883.9 2877.4,1883.9 2894.1,1883.9 2910.8,1883.9 2927.5,1883.9 2944.2,1883.9 2960.9,1883.9"/>
<polyline class="b" points="2109.2,2261.2 2125.9,2246.3 2142.6,2227.8 2159.3,2205.4 2176.0,2179.2 2192.7,2149.8 2209.4,2118.3 2226.1,2086.1 2242.8,2054.8 2259.5,2025.7 2276.2,2000.0 2292.9,1978.0 2309.6,1960.0 2326.3,1945.5 2343.0,1934.2 2359.7,1925.5 2376.4,1918.8 2393.1,1913.9 2409.8,1910.2 2426.5,1907.4 2443.2,1905.4 2459.9,1903.9 2476.6,1902.8 2493.3,1902.0 2510.0,1901.5 2526.7,1901.0 2543.4,1900.7 2560.1,1900.5 2576.8,1900.3 2593.5,1900.2 2610.2,1900.1 2626.9,1900.1 2643.6,1900.0 2660.3,1900.0 2677.0,1900.0 2693.7,1899.9 2710.4,1899.9 2727.1,1899.9 2743.8,1899.9 2760.5,1899.9 2777.2,1899.9 2793.9,1899.9 2810.6,1899.9 2827.3,1899.9 2844.0,1899.9 2860.7,1899.9 2877.4,1899.9 2894.1,1899.9 2910.8,1899.9 2927.5,1899.9 2944.2,1899.9 2960.9,1899.9"/>
<polyline class="b" points="2109.2,2261.5 2125.9,2247.1 2142.6,2229.3 2159.3,2208.0 2176.0,2183.3 2192.7,2155.8 2209.4,2126.4 2226.1,2096.5 2242.8,2067.3 2259.5,2040.3 2276.2,2016.2 2292.9,1995.5 2309.6,1978.4 2326.3,1964.5 2343.0,1953.6 2359.7,1945.1 2376.4,1938.6 2393.1,1933.7 2409.8,1930.0 2426.5,1927.2 2443.2,1925.2 2459.9,1923.7 2476.6,1922.5 2493.3,1921.7 2510.0,1921.1 2526.7,1920.6 2543.4,1920.3 2560.1,1920.0 2576.8,1919.9 2593.5,1919.7 2610.2,1919.6 2626.9,1919.6 2643.6,1919.5 2660.3,1919.5 2677.0,1919.4 2693.7,1919.4 2710.4,1919.4 2727.1,1919.4 2743.8,1919.4 2760.5,1919.4 2777.2,1919.4 2793.9,1919.4 2810.6,1919.4 2827.3,1919.4 2844.0,1919.4 2860.7,1919.4 2877.4,1919.4 2894.1,1919.4 2910.8,1919.4 2927.5,1919.4 2944.2,1919.4 2960.9,1919.4"/>
<polyline class="b" points="2109.2,2263.4 2125.9,2251.1 2142.6,2235.6 2159.3,2216.5 2176.0,2193.7 2192.7,2167.5 2209.4,2138.8 2226.1,2108.6 2242.8,2078.6 2259.5,2050.1 2276.2,2024.3 2292.9,2001.9 2309.6,1983.3 2326.3,1968.2 2343.0,1956.2 2359.7,1947.0 2376.4,1940.0 2393.1,1934.7 2409.8,1930.8 2426.5,1927.8 2443.2,1925.7 2459.9,1924.1 2476.6,1922.9 2493.3,1922.1 2510.0,1921.5 2526.7,1921.0 2543.4,1920.7 2560.1,1920.5 2576.8,1920.3 2593.5,1920.2 2610.2,1920.1 2626.9,1920.0 2643.6,1919.9 2660.3,1919.9 2677.0,1919.9 2693.7,1919.9 2710.4,1919.9 2727.1,1919.8 2743.8,1919.8 2760.5,1919.8 2777.2,1919.8 2793.9,1919.8 2810.6,1919.8 2827.3,1919.8 2844.0,1919.8 2860.7,1919.8 2877.4,1919.8 2894.1,1919.8 2910.8,1919.8 2927.5,1919.8 2944.2,1919.8 2960.9,1919.8"/>
<polyline class="o" points="2109.2,2259.6 2125.9,2260.0 2142.6,2260.7 2159.3,2261.4 2176.0,2262.4 2192.7,2263.5 2209.4,2264.7 2226.1,2266.0 2242.8,2267.3 2259.5,2268.5 2276.2,2269.5 2292.9,2270.4 2309.6,2271.0 2326.3,2271.5 2343.0,2271.9 2359.7,2272.2 2376.4,2272.4 2393.1,2272.6 2409.8,2272.7 2426.5,2272.7 2443.2,2272.8 2459.9,2272.8 2476.6,2272.8 2493.3,2272.9 2510.0,2272.9 2526.7,2272.9 2543.4,2272.9 2560.1,2272.9 2576.8,2272.9 2593.5,2272.9 2610.2,2272.9 2626.9,2272.9 2643.6,2272.9 2660.3,2272.9 2677.0,2272.9 2693.7,2272.9 2710.4,2272.9 2727.1,2272.9 2743.8,2272.9 2760.5,2272.9 2777.2,2272.9 2793.9,2272.9 2810.6,2272.9 2827.3,2272.9 2844.0,2272.9 2860.7,2272.9 2877.4,2272.9 2894.1,2272.9 2910.8,2272.9 2927.5,2272.9 2944.2,2272.9 2960.9,2272.9"/>
<polyline class="o" points="2109.2,2258.1 2125.9,2258.7 2142.6,2259.3 2159.3,2260.2 2176.0,2261.2 2192.7,2262.3 2209.4,2263.6 2226.1,2264.8 2242.8,2266.1 2259.5,2267.3 2276.2,2268.4 2292.9,2269.4 2309.6,2270.2 2326.3,2270.8 2343.0,2271.3 2359.7,2271.7 2376.4,2272.0 2393.1,2272.2 2409.8,2272.4 2426.5,2272.5 2443.2,2272.6 2459.9,2272.7 2476.6,2272.8 2493.3,2272.8 2510.0,2272.8 2526.7,2272.8 2543.4,2272.9 2560.1,2272.9 2576.8,2272.9 2593.5,2272.9 2610.2,2272.9 2626.9,2272.9 2643.6,2272.9 2660.3,2272.9 2677.0,2272.9 2693.7,2272.9 2710.4,2272.9 2727.1,2272.9 2743.8,2272.9 2760.5,2272.9 2777.2,2272.9 2793.9,2272.9 2810.6,2272.9 2827.3,2272.9 2844.0,2272.9 2860.7,2272.9 2877.4,2272.9 2894.1,2272.9 2910.8,2272.9 2927.5,2272.9 2944.2,2272.9 2960.9,2272.9"/>
<polyline class="o" points="2109.2,2261.4 2125.9,2261.8 2142.6,2262.2 2159.3,2262.8 2176.0,2263.6 2192.7,2264.5 2209.4,2265.5 2226.1,2266.6 2242.8,2267.7 2259.5,2268.7 2276.2,2269.7 2292.9,2270.4 2309.6,2271.1 2326.3,2271.6 2343.0,2271.9 2359.7,2272.2 2376.4,2272.4 2393.1,2272.5 2409.8,2272.6 2426.5,2272.7 2443.2,2272.8 2459.9,2272.8 2476.6,2272.8 2493.3,2272.9 2510.0,2272.9 2526.7,2272.9 2543.4,2272.9 2560.1,2272.9 2576.8,2272.9 2593.5,2272.9 2610.2,2272.9 2626.9,2272.9 2643.6,2272.9 2660.3,2272.9 2677.0,2272.9 2693.7,2272.9 2710.4,2272.9 2727.1,2272.9 2743.8,2272.9 2760.5,2272.9 2777.2,2272.9 2793.9,2272.9 2810.6,2272.9 2827.3,2272.9 2844.0,2272.9 2860.7,2272.9 2877.4,2272.9 2894.1,2272.9 2910.8,2272.9 2927.5,2272.9 2944.2,2272.9 2960.9,2272.9"/>
<polyline class="o" points="2109.2,2260.8 2125.9,2261.3 2142.6,2261.8 2159.3,2262.5 2176.0,2263.3 2192.7,2264.3 2209.4,2265.4 2226.1,2266.5 2242.8,2267.7 2259.5,2268.7 2276.2,2269.6 2292.9,2270.4 2309.6,2271.0 2326.3,2271.5 2343.0,2271.9 2359.7,2272.2 2376.4,2272.4 2393.1,2272.5 2409.8,2272.6 2426.5,2272.7 2443.2,2272.8 2459.9,2272.8 2476.6,2272.8 2493.3,2272.9 2510.0,2272.9 2526.7,2272.9 2543.4,2272.9 2560.1,2272.9 2576.8,2272.9 2593.5,2272.9 2610.2,2272.9 2626.9,2272.9 2643.6,2272.9 2660.3,2272.9 2677.0,2272.9 2693.7,2272.9 2710.4,2272.9 2727.1,2272.9 2743.8,2272.9 2760.5,2272.9 2777.2,2272.9 2793.9,2272.9 2810.6,2272.9 2827.3,2272.9 2844.0,2272.9 2860.7,2272.9 2877.4,2272.9 2894.1,2272.9 2910.8,2272.9 2927.5,2272.9 2944.2,2272.9 2960.9,2272.9"/>
<polyline class="o" points="2109.2,2262.4 2125.9,2262.7 2142.6,2263.2 2159.3,2263.7 2176.0,2264.4 2192.7,2265.2 2209.4,2266.1 2226.1,2267.1 2242.8,2268.1 2259.5,2269.0 2276.2,2269.9 2292.9,2270.6 2309.6,2271.2 2326.3,2271.6 2343.0,2272.0 2359.7,2272.2 2376.4,2272.4 2393.1,2272.6 2409.8,2272.7 2426.5,2272.7 2443.2,2272.8 2459.9,2272.8 2476.6,2272.8 2493.3,2272.9 2510.0,2272.9 2526.7,2272.9 2543.4,2272.9 2560.1,2272.9 2576.8,2272.9 2593.5,2272.9 2610.2,2272.9 2626.9,2272.9 2643.6,2272.9 2660.3,2272.9 2677.0,2272.9 2693.7,2272.9 2710.4,2272.9 2727.1,2272.9 2743.8,2272.9 2760.5,2272.9 2777.2,2272.9 2793.9,2272.9 2810.6,2272.9 2827.3,2272.9 2844.0,2272.9 2860.7,2272.9 2877.4,2272.9 2894.1,2272.9 2910.8,2272.9 2927.5,2272.9 2944.2,2272.9 2960.9,2272.9"/>
<polyline class="o" points="2109.2,2261.0 2125.9,2261.4 2142.6,2262.0 2159.3,2262.6 2176.0,2263.4 2192.7,2264.2 2209.4,2265.2 2226.1,2266.3 2242.8,2267.3 2259.5,2268.3 2276.2,2269.2 2292.9,2270.0 2309.6,2270.6 2326.3,2271.2 2343.0,2271.6 2359.7,2271.9 2376.4,2272.2 2393.1,2272.4 2409.8,2272.5 2426.5,2272.6 2443.2,2272.7 2459.9,2272.7 2476.6,2272.8 2493.3,2272.8 2510.0,2272.8 2526.7,2272.9 2543.4,2272.9 2560.1,2272.9 2576.8,2272.9 2593.5,2272.9 2610.2,2272.9 2626.9,2272.9 2643.6,2272.9 2660.3,2272.9 2677.0,2272.9 2693.7,2272.9 2710.4,2272.9 2727.1,2272.9 2743.8,2272.9 2760.5,2272.9 2777.2,2272.9 2793.9,2272.9 2810.6,2272.9 2827.3,2272.9 2844.0,2272.9 2860.7,2272.9 2877.4,2272.9 2894.1,2272.9 2910.8,2272.9 2927.5,2272.9 2944.2,2272.9 2960.9,2272.9"/>
<polyline class="o" points="2109.2,2260.1 2125.9,2260.6 2142.6,2261.2 2159.3,2262.0 2176.0,2262.9 2192.7,2264.0 2209.4,2265.1 2226.1,2266.3 2242.8,2267.5 2259.5,2268.5 2276.2,2269.5 2292.9,2270.3 2309.6,2270.9 2326.3,2271.4 2343.0,2271.8 2359.7,2272.1 2376.4,2272.3 2393.1,2272.5 2409.8,2272.6 2426.5,2272.7 2443.2,2272.7 2459.9,2272.8 2476.6,2272.8 2493.3,2272.8 2510.0,2272.9 2526.7,2272.9 2543.4,2272.9 2560.1,2272.9 2576.8,2272.9 2593.5,2272.9 2610.2,2272.9 2626.9,2272.9 2643.6,2272.9 2660.3,2272.9 2677.0,2272.9 2693.7,2272.9 2710.4,2272.9 2727.1,2272.9 2743.8,2272.9 2760.5,2272.9 2777.2,2272.9 2793.9,2272.9 2810.6,2272.9 2827.3,2272.9 2844.0,2272.9 2860.7,2272.9 2877.4,2272.9 2894.1,2272.9 2910.8,2272.9 2927.5,2272.9 2944.2,2272.9 2960.9,2272.9"/>
<polyline class="o" points="2109.2,2261.1 2125.9,2261.5 2142.6,2262.0 2159.3,2262.7 2176.0,2263.5 2192.7,2264.4 2209.4,2265.4 2226.1,2266.4 2242.8,2267.4 2259.5,2268.4 2276.2,2269.3 2292.9,2270.0 2309.6,2270.7 2326.3,2271.2 2343.0,2271.6 2359.7,2271.9 2376.4,2272.2 2393.1,2272.4 2409.8,2272.5 2426.5,2272.6 2443.2,2272.7 2459.9,2272.7 2476.6,2272.8 2493.3,2272.8 2510.0,2272.8 2526.7,2272.9 2543.4,2272.9 2560.1,2272.9 2576.8,2272.9 2593.5,2272.9 2610.2,2272.9 2626.9,2272.9 2643.6,2272.9 2660.3,2272.9 2677.0,2272.9 2693.7,2272.9 2710.4,2272.9 2727.1,2272.9 2743.8,2272.9 2760.5,2272.9 2777.2,2272.9 2793.9,2272.9 2810.6,2272.9 2827.3,2272.9 2844.0,2272.9 2860.7,2272.9 2877.4,2272.9 2894.1,2272.9 2910.8,2272.9 2927.5,2272.9 2944.2,2272.9 2960.9,2272.9"/>
<polyline class="o" points="2109.2,2261.3 2125.9,2261.8 2142.6,2262.3 2159.3,2262.9 2176.0,2263.7 2192.7,2264.6 2209.4,2265.5 2226.1,2266.5 2242.8,2267.5 2259.5,2268.4 2276.2,2269.3 2292.9,2270.0 2309.6,2270.7 2326.3,2271.2 2343.0,2271.6 2359.7,2271.9 2376.4,2272.2 2393.1,2272.3 2409.8,2272.5 2426.5,2272.6 2443.2,2272.7 2459.9,2272.7 2476.6,2272.8 2493.3,2272.8 2510.0,2272.8 2526.7,2272.9 2543.4,2272.9 2560.1,2272.9 2576.8,2272.9 2593.5,2272.9 2610.2,2272.9 2626.9,2272.9 2643.6,2272.9 2660.3,2272.9 2677.0,2272.9 2693.7,2272.9 2710.4,2272.9 2727.1,2272.9 2743.8,2272.9 2760.5,2272.9 2777.2,2272.9 2793.9,2272.9 2810.6,2272.9 2827.3,2272.9 2844.0,2272.9 2860.7,2272.9 2877.4,2272.9 2894.1,2272.9 2910.8,2272.9 2927.5,2272.9 2944.2,2272.9 2960.9,2272.9"/>
<polyline class="o" points="2109.2,2263.3 2125.9,2263.6 2142.6,2264.0 2159.3,2264.4 2176.0,2265.0 2192.7,2265.7 2209.4,2266.5 2226.1,2267.3 2242.8,2268.1 2259.5,2268.9 2276.2,2269.7 2292.9,2270.3 2309.6,2270.9 2326.3,2271.4 2343.0,2271.7 2359.7,2272.0 2376.4,2272.3 2393.1,2272.4 2409.8,2272.5 2426.5,2272.6 2443.2,2272.7 2459.9,2272.8 2476.6,2272.8 2493.3,2272.8 2510.0,2272.8 2526.7,2272.9 2543.4,2272.9 2560.1,2272.9 2576.8,2272.9 2593.5,2272.9 2610.2,2272.9 2626.9,2272.9 2643.6,2272.9 2660.3,2272.9 2677.0,2272.9 2693.7,2272.9 2710.4,2272.9 2727.1,2272.9 2743.8,2272.9 2760.5,2272.9 2777.2,2272.9 2793.9,2272.9 2810.6,2272.9 2827.3,2272.9 2844.0,2272.9 2860.7,2272.9 2877.4,2272.9 2894.1,2272.9 2910.8,2272.9 2927.5,2272.9 2944.2,2272.9 2960.9,2272.9"/>
<polyline class="gr" points="2109.2,2272.9 2125.9,2268.0 2142.6,2262.0 2159.3,2255.2 2176.0,2248.3 2192.7,2242.1 2209.4,2237.6 2226.1,2235.7 2242.8,2236.7 2259.5,2240.0 2276.2,2244.7 2292.9,2249.9 2309.6,2254.9 2326.3,2259.3 2343.0,2262.8 2359.7,2265.5 2376.4,2267.6 2393.1,2269.1 2409.8,2270.2 2426.5,2271.0 2443.2,2271.6 2459.9,2272.0 2476.6,2272.3 2493.3,2272.4 2510.0,2272.6 2526.7,2272.7 2543.4,2272.7 2560.1,2272.8 2576.8,2272.8 2593.5,2272.8 2610.2,2272.9 2626.9,2272.9 2643.6,2272.9 2660.3,2272.9 2677.0,2272.9 2693.7,2272.9 2710.4,2272.9 2727.1,2272.9 2743.8,2272.9 2760.5,2272.9 2777.2,2272.9 2793.9,2272.9 2810.6,2272.9 2827.3,2272.9 2844.0,2272.9 2860.7,2272.9 2877.4,2272.9 2894.1,2272.9 2910.8,2272.9 2927.5,2272.9 2944.2,2272.9 2960.9,2272.9"/>
<polyline class="gr" points="2109.2,2272.9 2125.9,2268.4 2142.6,2263.2 2159.3,2257.7 2176.0,2252.2 2192.7,2247.3 2209.4,2243.6 2226.1,2241.7 2242.8,2241.6 2259.5,2243.3 2276.2,2246.3 2292.9,2250.0 2309.6,2253.9 2326.3,2257.6 2343.0,2260.8 2359.7,2263.6 2376.4,2265.8 2393.1,2267.5 2409.8,2268.9 2426.5,2269.9 2443.2,2270.7 2459.9,2271.3 2476.6,2271.7 2493.3,2272.0 2510.0,2272.3 2526.7,2272.4 2543.4,2272.6 2560.1,2272.6 2576.8,2272.7 2593.5,2272.8 2610.2,2272.8 2626.9,2272.8 2643.6,2272.8 2660.3,2272.9 2677.0,2272.9 2693.7,2272.9 2710.4,2272.9 2727.1,2272.9 2743.8,2272.9 2760.5,2272.9 2777.2,2272.9 2793.9,2272.9 2810.6,2272.9 2827.3,2272.9 2844.0,2272.9 2860.7,2272.9 2877.4,2272.9 2894.1,2272.9 2910.8,2272.9 2927.5,2272.9 2944.2,2272.9 2960.9,2272.9"/>
<polyline class="gr" points="2109.2,2272.9 2125.9,2268.6 2142.6,2263.4 2159.3,2257.4 2176.0,2250.9 2192.7,2244.9 2209.4,2240.1 2226.1,2237.5 2242.8,2237.5 2259.5,2239.8 2276.2,2243.9 2292.9,2248.7 2309.6,2253.6 2326.3,2258.1 2343.0,2261.8 2359.7,2264.7 2376.4,2266.9 2393.1,2268.6 2409.8,2269.8 2426.5,2270.7 2443.2,2271.4 2459.9,2271.8 2476.6,2272.1 2493.3,2272.4 2510.0,2272.5 2526.7,2272.6 2543.4,2272.7 2560.1,2272.8 2576.8,2272.8 2593.5,2272.8 2610.2,2272.9 2626.9,2272.9 2643.6,2272.9 2660.3,2272.9 2677.0,2272.9 2693.7,2272.9 2710.4,2272.9 2727.1,2272.9 2743.8,2272.9 2760.5,2272.9 2777.2,2272.9 2793.9,2272.9 2810.6,2272.9 2827.3,2272.9 2844.0,2272.9 2860.7,2272.9 2877.4,2272.9 2894.1,2272.9 2910.8,2272.9 2927.5,2272.9 2944.2,2272.9 2960.9,2272.9"/>
<polyline class="gr" points="2109.2,2272.9 2125.9,2268.6 2142.6,2263.6 2159.3,2257.9 2176.0,2252.0 2192.7,2246.8 2209.4,2243.0 2226.1,2241.2 2242.8,2241.6 2259.5,2244.1 2276.2,2247.8 2292.9,2252.1 2309.6,2256.3 2326.3,2260.1 2343.0,2263.2 2359.7,2265.7 2376.4,2267.7 2393.1,2269.1 2409.8,2270.2 2426.5,2270.9 2443.2,2271.5 2459.9,2271.9 2476.6,2272.2 2493.3,2272.4 2510.0,2272.5 2526.7,2272.7 2543.4,2272.7 2560.1,2272.8 2576.8,2272.8 2593.5,2272.8 2610.2,2272.9 2626.9,2272.9 2643.6,2272.9 2660.3,2272.9 2677.0,2272.9 2693.7,2272.9 2710.4,2272.9 2727.1,2272.9 2743.8,2272.9 2760.5,2272.9 2777.2,2272.9 2793.9,2272.9 2810.6,2272.9 2827.3,2272.9 2844.0,2272.9 2860.7,2272.9 2877.4,2272.9 2894.1,2272.9 2910.8,2272.9 2927.5,2272.9 2944.2,2272.9 2960.9,2272.9"/>
<polyline class="gr" points="2109.2,2272.9 2125.9,2269.1 2142.6,2264.4 2159.3,2259.0 2176.0,2253.3 2192.7,2247.9 2209.4,2243.6 2226.1,2241.2 2242.8,2241.1 2259.5,2243.1 2276.2,2246.6 2292.9,2250.9 2309.6,2255.2 2326.3,2259.2 2343.0,2262.6 2359.7,2265.2 2376.4,2267.3 2393.1,2268.9 2409.8,2270.0 2426.5,2270.8 2443.2,2271.4 2459.9,2271.9 2476.6,2272.2 2493.3,2272.4 2510.0,2272.5 2526.7,2272.6 2543.4,2272.7 2560.1,2272.8 2576.8,2272.8 2593.5,2272.8 2610.2,2272.9 2626.9,2272.9 2643.6,2272.9 2660.3,2272.9 2677.0,2272.9 2693.7,2272.9 2710.4,2272.9 2727.1,2272.9 2743.8,2272.9 2760.5,2272.9 2777.2,2272.9 2793.9,2272.9 2810.6,2272.9 2827.3,2272.9 2844.0,2272.9 2860.7,2272.9 2877.4,2272.9 2894.1,2272.9 2910.8,2272.9 2927.5,2272.9 2944.2,2272.9 2960.9,2272.9"/>
<polyline class="gr" points="2109.2,2272.9 2125.9,2269.1 2142.6,2264.8 2159.3,2259.9 2176.0,2255.0 2192.7,2250.5 2209.4,2246.9 2226.1,2244.9 2242.8,2244.6 2259.5,2245.9 2276.2,2248.5 2292.9,2251.8 2309.6,2255.3 2326.3,2258.7 2343.0,2261.8 2359.7,2264.3 2376.4,2266.4 2393.1,2268.0 2409.8,2269.3 2426.5,2270.2 2443.2,2270.9 2459.9,2271.4 2476.6,2271.8 2493.3,2272.1 2510.0,2272.3 2526.7,2272.5 2543.4,2272.6 2560.1,2272.7 2576.8,2272.7 2593.5,2272.8 2610.2,2272.8 2626.9,2272.8 2643.6,2272.9 2660.3,2272.9 2677.0,2272.9 2693.7,2272.9 2710.4,2272.9 2727.1,2272.9 2743.8,2272.9 2760.5,2272.9 2777.2,2272.9 2793.9,2272.9 2810.6,2272.9 2827.3,2272.9 2844.0,2272.9 2860.7,2272.9 2877.4,2272.9 2894.1,2272.9 2910.8,2272.9 2927.5,2272.9 2944.2,2272.9 2960.9,2272.9"/>
<polyline class="gr" points="2109.2,2272.9 2125.9,2268.6 2142.6,2263.6 2159.3,2258.2 2176.0,2252.8 2192.7,2248.1 2209.4,2244.8 2226.1,2243.4 2242.8,2244.0 2259.5,2246.3 2276.2,2249.7 2292.9,2253.6 2309.6,2257.4 2326.3,2260.8 2343.0,2263.7 2359.7,2266.0 2376.4,2267.8 2393.1,2269.2 2409.8,2270.2 2426.5,2270.9 2443.2,2271.5 2459.9,2271.9 2476.6,2272.2 2493.3,2272.4 2510.0,2272.5 2526.7,2272.6 2543.4,2272.7 2560.1,2272.8 2576.8,2272.8 2593.5,2272.8 2610.2,2272.9 2626.9,2272.9 2643.6,2272.9 2660.3,2272.9 2677.0,2272.9 2693.7,2272.9 2710.4,2272.9 2727.1,2272.9 2743.8,2272.9 2760.5,2272.9 2777.2,2272.9 2793.9,2272.9 2810.6,2272.9 2827.3,2272.9 2844.0,2272.9 2860.7,2272.9 2877.4,2272.9 2894.1,2272.9 2910.8,2272.9 2927.5,2272.9 2944.2,2272.9 2960.9,2272.9"/>
<polyline class="gr" points="2109.2,2272.9 2125.9,2269.2 2142.6,2265.0 2159.3,2260.4 2176.0,2255.7 2192.7,2251.6 2209.4,2248.4 2226.1,2246.6 2242.8,2246.5 2259.5,2247.9 2276.2,2250.4 2292.9,2253.5 2309.6,2256.8 2326.3,2259.9 2343.0,2262.7 2359.7,2265.0 2376.4,2266.9 2393.1,2268.4 2409.8,2269.5 2426.5,2270.4 2443.2,2271.1 2459.9,2271.5 2476.6,2271.9 2493.3,2272.2 2510.0,2272.4 2526.7,2272.5 2543.4,2272.6 2560.1,2272.7 2576.8,2272.7 2593.5,2272.8 2610.2,2272.8 2626.9,2272.8 2643.6,2272.9 2660.3,2272.9 2677.0,2272.9 2693.7,2272.9 2710.4,2272.9 2727.1,2272.9 2743.8,2272.9 2760.5,2272.9 2777.2,2272.9 2793.9,2272.9 2810.6,2272.9 2827.3,2272.9 2844.0,2272.9 2860.7,2272.9 2877.4,2272.9 2894.1,2272.9 2910.8,2272.9 2927.5,2272.9 2944.2,2272.9 2960.9,2272.9"/>
<polyline class="gr" points="2109.2,2272.9 2125.9,2269.4 2142.6,2265.5 2159.3,2261.2 2176.0,2257.0 2192.7,2253.2 2209.4,2250.4 2226.1,2248.8 2242.8,2248.7 2259.5,2249.8 2276.2,2252.0 2292.9,2254.8 2309.6,2257.7 2326.3,2260.6 2343.0,2263.1 2359.7,2265.3 2376.4,2267.1 2393.1,2268.5 2409.8,2269.6 2426.5,2270.4 2443.2,2271.0 2459.9,2271.5 2476.6,2271.9 2493.3,2272.1 2510.0,2272.3 2526.7,2272.5 2543.4,2272.6 2560.1,2272.7 2576.8,2272.7 2593.5,2272.8 2610.2,2272.8 2626.9,2272.8 2643.6,2272.9 2660.3,2272.9 2677.0,2272.9 2693.7,2272.9 2710.4,2272.9 2727.1,2272.9 2743.8,2272.9 2760.5,2272.9 2777.2,2272.9 2793.9,2272.9 2810.6,2272.9 2827.3,2272.9 2844.0,2272.9 2860.7,2272.9 2877.4,2272.9 2894.1,2272.9 2910.8,2272.9 2927.5,2272.9 2944.2,2272.9 2960.9,2272.9"/>
<polyline class="gr" points="2109.2,2272.9 2125.9,2269.8 2142.6,2266.1 2159.3,2262.0 2176.0,2257.7 2192.7,2253.6 2209.4,2250.2 2226.1,2247.9 2242.8,2247.2 2259.5,2248.0 2276.2,2250.0 2292.9,2252.8 2309.6,2256.0 2326.3,2259.1 2343.0,2262.0 2359.7,2264.4 2376.4,2266.5 2393.1,2268.0 2409.8,2269.3 2426.5,2270.2 2443.2,2270.9 2459.9,2271.4 2476.6,2271.8 2493.3,2272.1 2510.0,2272.3 2526.7,2272.5 2543.4,2272.6 2560.1,2272.7 2576.8,2272.7 2593.5,2272.8 2610.2,2272.8 2626.9,2272.8 2643.6,2272.9 2660.3,2272.9 2677.0,2272.9 2693.7,2272.9 2710.4,2272.9 2727.1,2272.9 2743.8,2272.9 2760.5,2272.9 2777.2,2272.9 2793.9,2272.9 2810.6,2272.9 2827.3,2272.9 2844.0,2272.9 2860.7,2272.9 2877.4,2272.9 2894.1,2272.9 2910.8,2272.9 2927.5,2272.9 2944.2,2272.9 2960.9,2272.9"/>
<polyline class="k" points="2109.2,2253.8 2125.9,2242.4 2142.6,2235.1 2159.3,2215.5 2176.0,2187.3 2192.7,2082.0 2209.4,2027.0 2226.1,1973.9 2242.8,1954.6 2259.5,1945.1 2276.2,1930.0 2292.9,1903.0 2309.6,1899.0 2326.3,1869.9 2343.0,1866.4 2359.7,1863.1 2376.4,1858.2 2393.1,1856.6 2409.8,1853.8 2426.5,1852.8 2443.2,1851.8 2459.9,1850.9 2476.6,1849.7 2493.3,1849.4 2510.0,1849.2 2526.7,1849.0 2543.4,1849.0 2560.1,1848.9 2576.8,1848.9 2593.5,1848.9 2610.2,1848.9 2626.9,1848.9 2643.6,1848.9 2660.3,1848.9 2677.0,1848.9 2693.7,1848.9 2710.4,1848.9 2727.1,1848.9 2743.8,1848.9 2760.5,1848.9 2777.2,1848.9 2793.9,1848.9 2810.6,1848.9 2827.3,1848.9 2844.0,1848.9 2860.7,1848.9 2877.4,1848.9 2894.1,1848.9 2910.8,1848.9 2927.5,1848.9 2944.2,1848.9 2960.9,1848.9"/>
</g>
</svg></body></html>
